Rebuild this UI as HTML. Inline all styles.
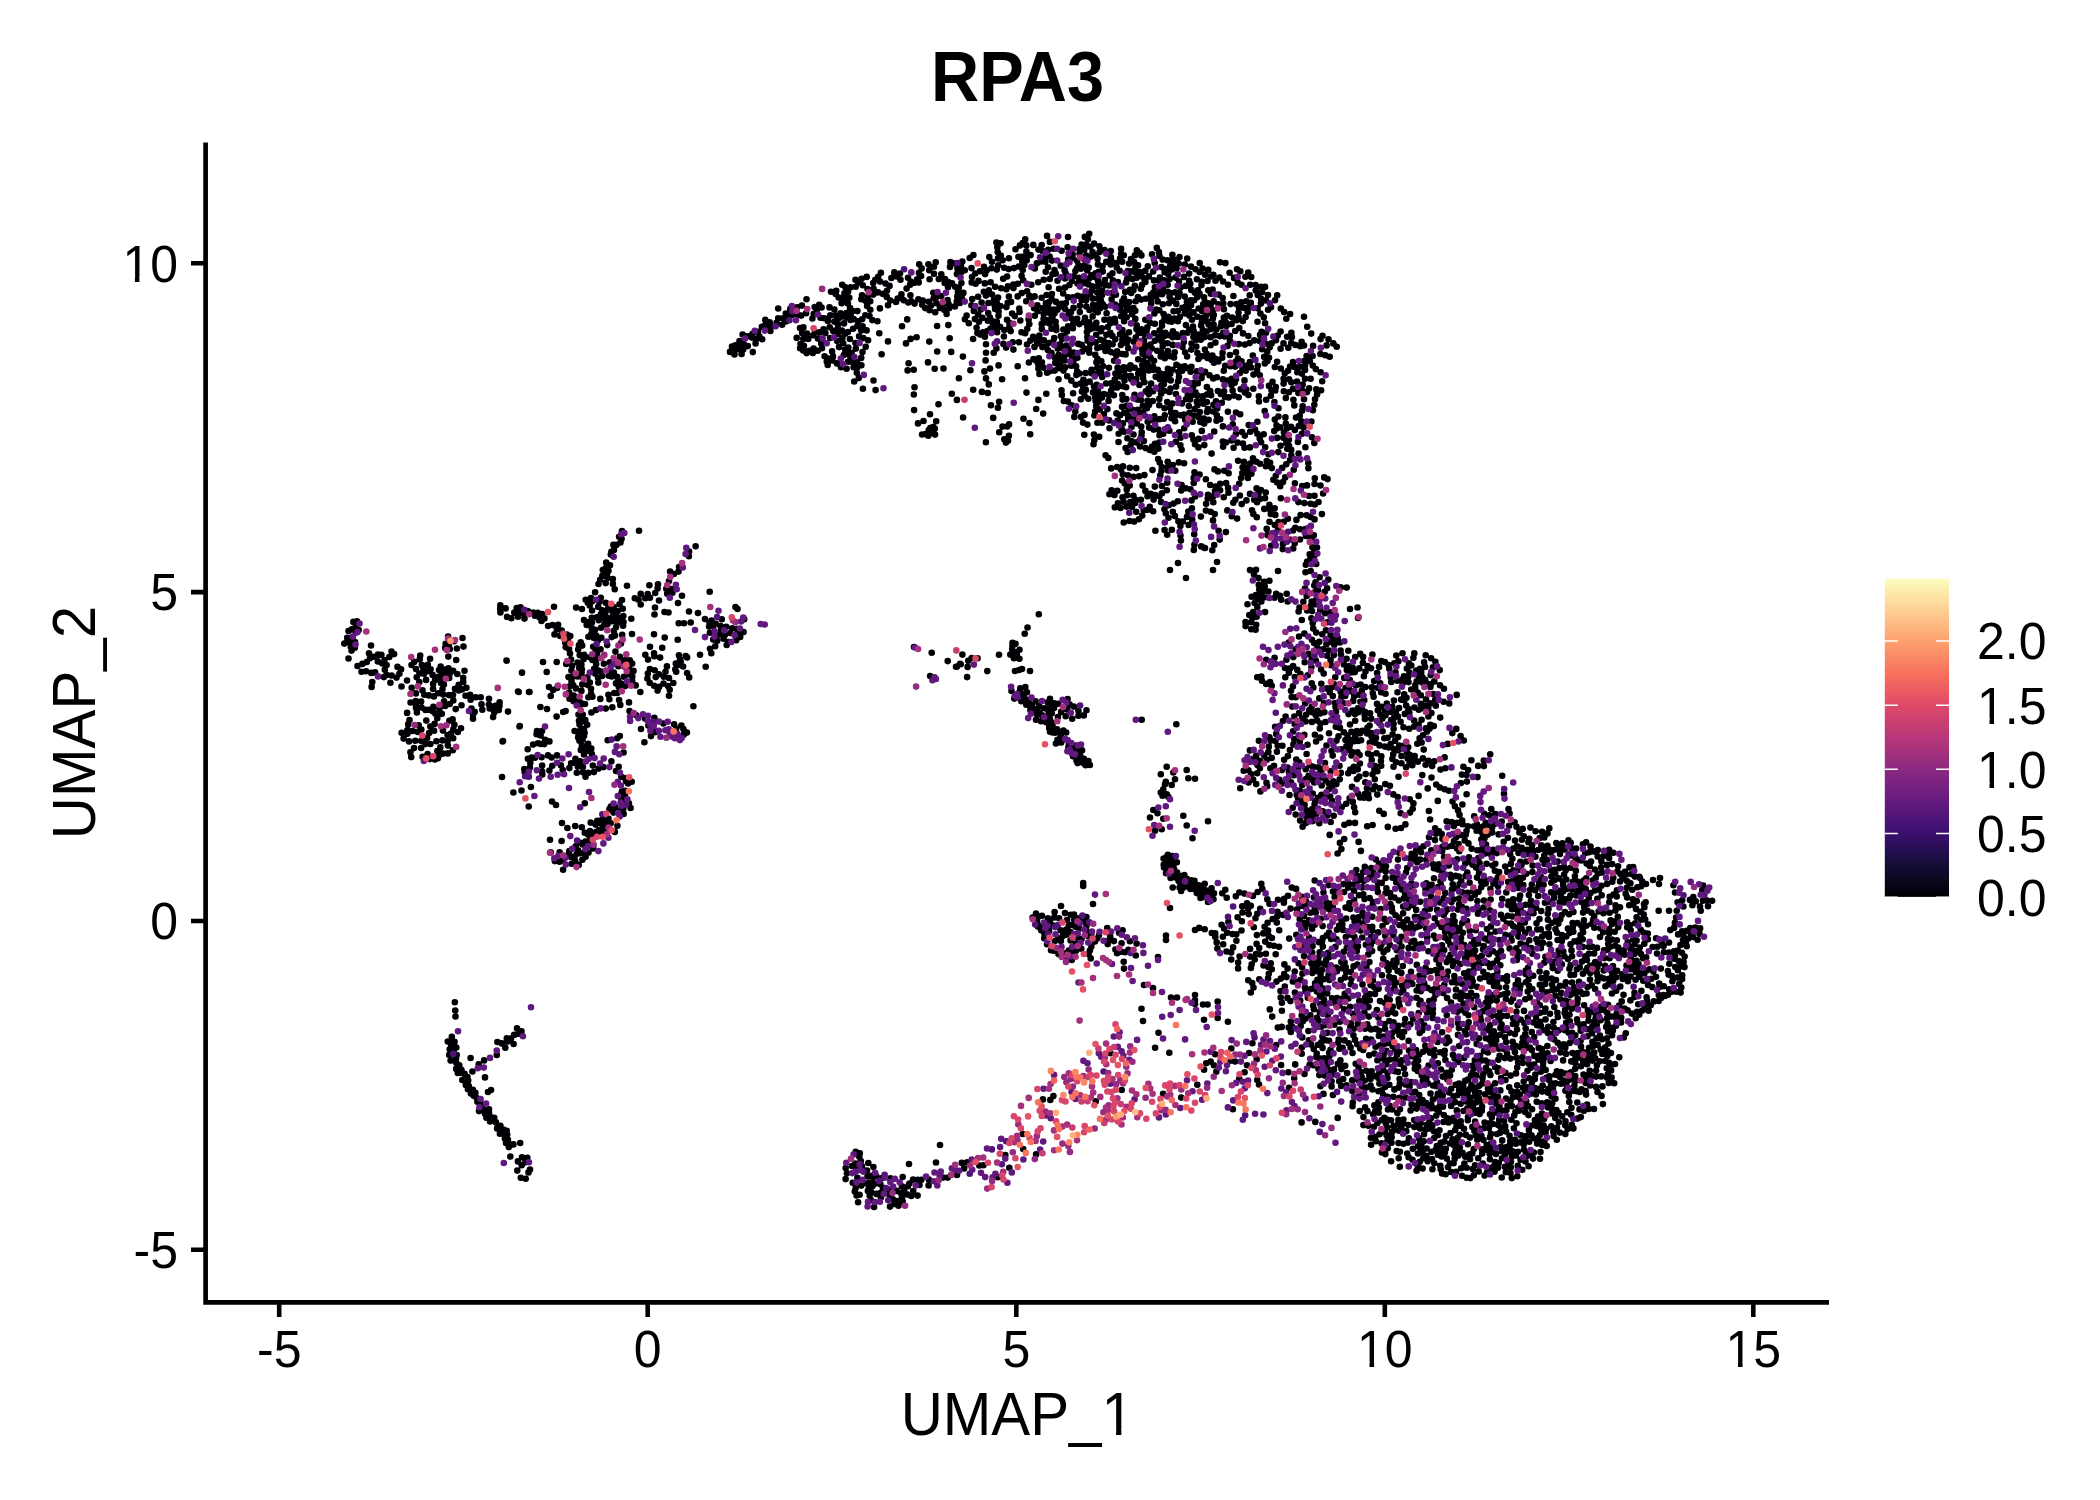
<!DOCTYPE html>
<html><head><meta charset="utf-8"><title>RPA3</title>
<style>
html,body{margin:0;padding:0;background:#fff}
body{width:2100px;height:1500px;overflow:hidden}
svg{display:block}
text{font-family:"Liberation Sans",sans-serif;fill:#000}
#d path{fill:none;stroke-width:6.6;stroke-linecap:round}
</style></head><body>
<svg width="2100" height="1500" viewBox="0 0 2100 1500">
<rect width="2100" height="1500" fill="#fff"/>
<g id="d">
<path stroke="#000004" d="M762.2 339.2h.01M770.4 330.9h.01M741.6 353.9h.01M740.1 345.2h.01M782.8 318.3h.01M782.1 324.8h.01M765.2 319.9h.01M786.7 317.4h.01M797.1 307.4h.01M752.6 333.7h.01M751.9 337.6h.01M743.5 343.6h.01M747.5 336.3h.01M735.4 345.4h.01M742.6 334.5h.01M759.4 336.3h.01M776.6 322.7h.01M755.6 343.4h.01M732.1 349.7h.01M732 346.5h.01M785.8 313.5h.01M758.1 331.8h.01M756.2 339.1h.01M766.3 326.8h.01M747.8 346.1h.01M752.8 352.1h.01M790.3 308.9h.01M765.5 323.5h.01M791.9 314.9h.01M769.7 322.4h.01M778.2 308.5h.01M739.5 341h.01M734.5 354.4h.01M785.9 321.5h.01M761.9 326.8h.01M778.2 318.2h.01M770.6 326.4h.01M730 351.9h.01M737.9 348.9h.01M743.2 349.6h.01M990.6 282.2h.01M984.8 283.4h.01M978.2 314.4h.01M973.8 310.9h.01M953.8 263.3h.01M955.2 286.8h.01M925.2 308.1h.01M866.7 276.9h.01M841.6 303.3h.01M941.3 274.3h.01M870.3 309.7h.01M867.1 306.1h.01M865.8 301.1h.01M911.4 301.3h.01M910.4 295.2h.01M1028.6 319.4h.01M988.4 303h.01M993.9 300.2h.01M998 297.5h.01M1014.8 316.1h.01M1013.3 284.6h.01M1017.8 283.7h.01M843.1 316.4h.01M846.5 313h.01M852.6 311.1h.01M857.4 311.1h.01M836.2 290.7h.01M945 279h.01M900 273.5h.01M896 301.9h.01M998 258.4h.01M997.1 332.2h.01M1006.3 289.3h.01M1001 288.2h.01M995.1 286.8h.01M998.2 265.2h.01M980.7 309.5h.01M918.9 272.9h.01M921.6 268.4h.01M964.8 270.3h.01M1015.5 249.3h.01M1019.9 245.4h.01M934 273.7h.01M929.2 270.3h.01M928.4 264.2h.01M889.5 285.9h.01M887 290.7h.01M838.7 297.5h.01M946.6 314h.01M827.9 320.9h.01M1019.5 312h.01M1026.2 301.2h.01M1025.2 239.2h.01M1026.3 245.4h.01M1026.4 251.5h.01M1030.6 255.1h.01M936.6 303.3h.01M939.9 308h.01M944.4 309.9h.01M992 261.8h.01M987.9 320.8h.01M982.5 317.9h.01M1000 326.8h.01M994.8 327.3h.01M993.1 321.2h.01M989.9 317.6h.01M988.2 313.1h.01M842.1 299.4h.01M944.7 282.9h.01M971.4 305.3h.01M972.2 299.1h.01M845.4 287.2h.01M850.7 287.2h.01M969.7 258h.01M973.4 255.1h.01M861.6 278.8h.01M919.2 264.2h.01M1018.4 256.7h.01M1022.1 260.8h.01M1024.3 264.9h.01M1022.7 270.1h.01M1021.6 275.9h.01M1023.2 280.3h.01M813.8 313.9h.01M957.4 268.5h.01M962.3 261.6h.01M812.4 318.5h.01M855.7 286.8h.01M858.3 282.6h.01M1029.1 295.6h.01M981.6 302.6h.01M950 266.9h.01M950.4 262.1h.01M908 277.7h.01M1021.5 332.2h.01M936.5 297.1h.01M830.3 315.4h.01M1006.4 307.1h.01M1000.4 306h.01M996.7 302.6h.01M934 266.7h.01M935.7 262.2h.01M900.5 279.8h.01M896.7 276.4h.01M894.3 272.4h.01M869.5 316h.01M853.7 319.1h.01M850.8 313.8h.01M850.1 308.1h.01M847.9 303.5h.01M849.3 297.7h.01M848.1 291.7h.01M861.3 299.3h.01M948 287.2h.01M941.3 296.1h.01M995.1 308.9h.01M1011 301.9h.01M983.8 291.7h.01M988.8 290.3h.01M1020.3 320.6h.01M901.4 294.4h.01M829.5 307.4h.01M834.4 309.5h.01M835.9 315.5h.01M834.4 321.6h.01M1012.1 313.6h.01M901.3 297.9h.01M890.3 300.5h.01M886.8 296.9h.01M883 293.9h.01M878 292.4h.01M873.3 294.6h.01M867.9 296.8h.01M862 295.2h.01M1026.2 254.8h.01M910.8 281.6h.01M1007.9 286.4h.01M1013.4 349.6h.01M1008.7 269.1h.01M1014 268.1h.01M1018.8 266.5h.01M958.9 287.6h.01M961.4 283.1h.01M956.9 274.1h.01M917.2 279.2h.01M879.9 308.4h.01M867.5 289h.01M862.8 285.3h.01M1007 319.8h.01M850.5 320h.01M1022.7 243.1h.01M947.6 300.1h.01M1003.2 278.7h.01M806.1 313.3h.01M801.2 315.6h.01M918.4 299.2h.01M914.6 303.6h.01M998.6 311.6h.01M948.2 282h.01M1002.6 260.3h.01M1000.8 255.5h.01M997.7 252h.01M997.3 247.2h.01M1000.5 243.3h.01M985.9 295.6h.01M992 294.5h.01M922.8 300.6h.01M961.4 272h.01M963.4 292.9h.01M961.9 298.3h.01M959.8 302.9h.01M954.9 306.4h.01M949.1 308.3h.01M1019.2 308.6h.01M971.5 268.1h.01M961 266.4h.01M1004.2 267.8h.01M831 291.8h.01M835.7 294h.01M922.2 304.7h.01M855.5 279.8h.01M990.4 328.9h.01M824.3 318.2h.01M1027.3 328.8h.01M1029.3 324h.01M1004.3 330.1h.01M1009.4 327.1h.01M996.8 269.6h.01M991.6 268.3h.01M996.4 348.4h.01M993.7 352.7h.01M978.1 296.8h.01M801.9 305.6h.01M918.7 282.4h.01M840.6 313.3h.01M1031.3 284.7h.01M964.9 319.2h.01M968.8 323.2h.01M802.1 333h.01M800 328h.01M1008.9 296.5h.01M974.9 319.1h.01M984 266.7h.01M798 314.8h.01M1012.7 342.3h.01M1018.9 342.3h.01M820.5 317.7h.01M870.3 301.3h.01M992.8 324.6h.01M996.8 321.8h.01M806.5 299.3h.01M929.6 279.2h.01M846.3 299.2h.01M844.4 293.4h.01M998.5 315.7h.01M978.5 280.9h.01M803.4 327.4h.01M957.9 292h.01M942.5 305.4h.01M816.8 309.9h.01M985.1 274.1h.01M975.6 283.8h.01M928.7 301.8h.01M994.4 304.8h.01M986.7 270.2h.01M980.3 334.6h.01M984.9 336.7h.01M1003.9 336.5h.01M933.3 292.8h.01M987.4 331h.01M982.9 332.4h.01M977.4 333.1h.01M971.7 282.4h.01M972 277.1h.01M935.2 312.3h.01M929.6 310.3h.01M989.3 257h.01M948.6 304h.01M1007.1 276.5h.01M910.1 284.8h.01M914.5 282.7h.01M1007.7 302.9h.01M847.2 317.4h.01M908.3 302.5h.01M903.8 300.3h.01M897.7 298.5h.01M873.6 288.8h.01M873.2 283.1h.01M957.3 296.4h.01M976.6 327.7h.01M1009.3 322.9h.01M996.4 242.5h.01M938.8 279.1h.01M980 271.3h.01M975.3 273.5h.01M814.7 307.1h.01M819.2 304.9h.01M844 323.4h.01M821.6 307.5h.01M1003.4 343.9h.01M1006.1 347.6h.01M837.9 323.9h.01M838.8 317.9h.01M888 305.3h.01M885.5 283.5h.01M880 281.6h.01M875.3 279.8h.01M1008.9 258.2h.01M933.6 298.5h.01M1010.7 331.1h.01M978.9 321.8h.01M880.9 272.7h.01M878.2 276.7h.01M891.4 278h.01M1017.7 296.4h.01M1021.8 293.1h.01M1027.1 291.3h.01M842.2 284.7h.01M931.1 305.5h.01M906.6 288.6h.01M956.8 301.4h.01M921.1 276.1h.01M966.6 315.6h.01M952 283.4h.01M1013.5 288.1h.01M865.3 315.2h.01M845.1 349.7h.01M848.1 354h.01M839 347.1h.01M803.2 350.5h.01M803.9 345.9h.01M861.4 365.3h.01M855.8 348.6h.01M872.3 320.1h.01M877.4 321.2h.01M868.1 340.3h.01M863.3 338.1h.01M845.2 333.8h.01M843.2 343.2h.01M842.4 338.1h.01M838.3 334.1h.01M833.2 330.9h.01M862.1 319.2h.01M857.9 321.3h.01M857.3 326.1h.01M861.2 330.6h.01M821.2 343.6h.01M822 348.3h.01M817.7 350.8h.01M812.8 352.9h.01M806.6 353.1h.01M815 332.1h.01M846.6 368.8h.01M840.9 367.3h.01M843.8 355h.01M859.1 336.4h.01M853.1 328.8h.01M847.9 332h.01M841.9 330.6h.01M837.8 328.1h.01M862.5 352.1h.01M861.2 357.9h.01M827.8 358.5h.01M832.4 360.5h.01M837 363.4h.01M865.7 346.8h.01M800.5 344.1h.01M819.6 332.3h.01M808.3 338.9h.01M807 333.6h.01M857 368.1h.01M856.9 362.1h.01M851.6 353h.01M848.3 347.6h.01M829.7 327.3h.01M862.6 326.4h.01M866.6 330.4h.01M824.6 356.3h.01M826.8 361.6h.01M848 361.7h.01M837.2 341.1h.01M803.3 338.9h.01M853.6 367.3h.01M851.7 361.7h.01M850.4 357h.01M849.9 339h.01M832.1 351.4h.01M833 356.4h.01M854.2 381.5h.01M858.8 377.9h.01M813.4 335.2h.01M827.7 365h.01M825.4 333.1h.01M862.9 388.8h.01M817.9 338.6h.01M823.5 329.3h.01M856.8 372.7h.01M855.5 343.1h.01M800.1 348.2h.01M809.3 350.7h.01M813.6 348.5h.01M796.7 337.9h.01M830.1 338h.01M990.9 405.2h.01M930 414.2h.01M986 344.3h.01M999.1 401.8h.01M997.9 407.8h.01M962.9 356.6h.01M987.8 393h.01M981.9 391.9h.01M902 326.2h.01M998.6 365.4h.01M973.1 339h.01M936.2 421.2h.01M1030.2 434.3h.01M1023.5 418.8h.01M1026.5 392.6h.01M985.9 442.2h.01M923.5 421h.01M943.5 368.5h.01M914.5 387.3h.01M875.6 390.1h.01M929.3 341.6h.01M918 423.4h.01M888 341.4h.01M881.6 354.3h.01M907.6 370.4h.01M913.7 369.8h.01M951.2 351.9h.01M873.5 380.5h.01M938.5 404.2h.01M908.6 363.3h.01M990 368.6h.01M984.4 371.4h.01M948.3 325.1h.01M993.2 417.9h.01M988.8 384.4h.01M951.8 393.8h.01M907.2 319.4h.01M973.2 389.8h.01M1002.1 379.2h.01M986 352.7h.01M1005.9 441.5h.01M916.6 337.3h.01M910.6 338.9h.01M958.9 378.2h.01M949.7 338.2h.01M1017.7 366.2h.01M963.1 417.5h.01M985.6 360.4h.01M937.2 351.5h.01M1038.4 399.9h.01M956.9 399.9h.01M928 362.4h.01M906 343.4h.01M1036.2 409h.01M1008.9 435.7h.01M1025 378.3h.01M937.1 326h.01M1029.4 423.1h.01M914.1 410.1h.01M934.7 368.8h.01M879.3 333.2h.01M986 378.4h.01M970.4 370.3h.01M913.8 394.5h.01M1043.2 413.6h.01M922.1 434.5h.01M933.1 427h.01M935 434.6h.01M934.8 428.6h.01M933 432.7h.01M930.3 428h.01M925.5 434h.01M928.8 430.1h.01M934.3 428.2h.01M928.3 435.7h.01M999.2 432.3h.01M1008 440.8h.01M1009.1 424.4h.01M1005.9 442.6h.01M1004.3 439.3h.01M1007.2 426.5h.01M1002.5 426.6h.01M1135.2 272.5h.01M1140 272h.01M1145.3 270.7h.01M1147.8 266.2h.01M1159.6 292h.01M1164.5 318.7h.01M1163.6 314h.01M1083.4 379.8h.01M1072.2 359.1h.01M1068.9 353.9h.01M1207.9 409h.01M1213 411.5h.01M1216.8 415.4h.01M1220.2 419.3h.01M1071.8 281.1h.01M1077.5 283.6h.01M1141.7 276.2h.01M1136.7 277.8h.01M1187.1 356.5h.01M1197.9 290.3h.01M1191.8 395.6h.01M1195.4 392.2h.01M1068.1 326.2h.01M1067 331.5h.01M1211.7 359.9h.01M1178.1 297.3h.01M1172.8 300.6h.01M1168.9 303.2h.01M1162.8 304.3h.01M1206.8 402h.01M1227.5 380.5h.01M1197.8 383.2h.01M1193.2 386.6h.01M1201.2 335.4h.01M1088.4 284.4h.01M1083.4 283.2h.01M1143.8 343.1h.01M1064.6 270.3h.01M1068.2 259.2h.01M1067.6 247.3h.01M1132.4 279.1h.01M1127.1 279.1h.01M1062.2 339.1h.01M1060 344.4h.01M1057.8 348.6h.01M1058.7 354.7h.01M1143.6 369.6h.01M1207 411.9h.01M1096.4 362.3h.01M1097.4 367.6h.01M1154 280.4h.01M1128.2 348.2h.01M1126.8 343.2h.01M1132.5 409.8h.01M1096.7 327.8h.01M1101.8 328.2h.01M1107.9 327.1h.01M1041.7 324.1h.01M1179 376.9h.01M1046.3 393.8h.01M1033.5 359h.01M1133.7 418.4h.01M1128.1 415.9h.01M1059.7 359h.01M1160.7 356.5h.01M1143 374.6h.01M1138.2 373.8h.01M1082.3 351.5h.01M1077.4 357.7h.01M1097.2 307.5h.01M1097.8 312.2h.01M1091.8 290.6h.01M1097.3 292.6h.01M1101.9 295.3h.01M1096.3 322.8h.01M1161.2 385.9h.01M1164.1 390.8h.01M1169.4 392h.01M1141.1 299.6h.01M1122.2 261.7h.01M1219.7 336.1h.01M1214.9 335.2h.01M1072.6 257.9h.01M1073.6 352.6h.01M1146.9 408.3h.01M1142.8 405.7h.01M1141 400h.01M1121.1 316.2h.01M1124.1 321.3h.01M1162 322.6h.01M1154 360.8h.01M1150.4 357.6h.01M1145.8 355.6h.01M1184.8 264.6h.01M1190.9 266.6h.01M1227.9 411.8h.01M1215.9 401.4h.01M1136.7 325.2h.01M1081.9 391.5h.01M1083.2 387h.01M1188.6 308.8h.01M1147.4 327.2h.01M1141.6 329.2h.01M1097.3 348.1h.01M1185.2 419.8h.01M1138.5 333.3h.01M1135.7 337.5h.01M1133.8 341.7h.01M1094.9 277h.01M1089.5 278.3h.01M1084.6 279.4h.01M1080.2 281.7h.01M1129 332.3h.01M1107.4 409.1h.01M1168.4 321.1h.01M1186 399.2h.01M1187.8 394.9h.01M1068 237h.01M1100.4 339.7h.01M1092.2 286.2h.01M1059.1 288.8h.01M1188.8 406h.01M1124.2 412.6h.01M1120.2 415.2h.01M1117.7 420.5h.01M1144.2 334h.01M1225 396.9h.01M1045 258.1h.01M1127.8 271h.01M1128.4 276.1h.01M1100.9 331.3h.01M1096.2 334.7h.01M1089.5 310h.01M1085.3 383.5h.01M1089.6 381.6h.01M1093.9 386.3h.01M1122.4 330h.01M1125.3 335.5h.01M1038.1 364.1h.01M1103.7 340.9h.01M1104.7 345.7h.01M1033.2 336.8h.01M1039.4 335.6h.01M1142.2 349.8h.01M1145.9 346.1h.01M1150.4 344.5h.01M1154.8 340.8h.01M1197.5 405.2h.01M1194.7 409.1h.01M1189.5 412.7h.01M1183.9 414.6h.01M1208.6 324.6h.01M1153.1 271.5h.01M1176.3 303.9h.01M1158.6 336.5h.01M1078.6 265.2h.01M1098.8 271.9h.01M1189.9 399.5h.01M1076.1 366.4h.01M1207.5 358h.01M1201.9 356.2h.01M1218.7 294.6h.01M1222.7 298h.01M1151.1 383.5h.01M1187.8 368.2h.01M1213.9 362.8h.01M1218.4 361.5h.01M1222.2 357.7h.01M1222.6 352.9h.01M1064.5 336.1h.01M1200.7 339.8h.01M1204.6 337.1h.01M1206.7 331.6h.01M1210.9 329.1h.01M1213.6 324.5h.01M1097.5 258.8h.01M1098 264.4h.01M1213.4 404.8h.01M1217.2 408.6h.01M1117.1 351.3h.01M1122.1 354h.01M1105.7 285.1h.01M1139.4 252.9h.01M1196.9 279.3h.01M1201.8 281.8h.01M1207.5 281h.01M1137.9 297.1h.01M1135.7 301.3h.01M1227.6 345.9h.01M1077.2 371.5h.01M1144.1 278.4h.01M1148.9 276.4h.01M1201.5 285.1h.01M1219.5 277.5h.01M1170.5 293.1h.01M1175.2 292.4h.01M1195.5 269.3h.01M1199.6 272h.01M1205.1 274.8h.01M1108.6 400.9h.01M1085.7 348.7h.01M1081.7 344.9h.01M1093 392.4h.01M1065 354.9h.01M1064.4 360.5h.01M1212.4 355.5h.01M1197.4 353.1h.01M1092.5 298.4h.01M1115.3 339.2h.01M1110.3 323.3h.01M1114.7 318.9h.01M1112.6 344.2h.01M1110.3 332.7h.01M1079.3 324.1h.01M1077.1 260.7h.01M1201.8 318h.01M1206.1 315.5h.01M1080.8 399.2h.01M1110.7 264.5h.01M1116.5 263h.01M1120.1 258.5h.01M1121.1 253.8h.01M1122.3 395h.01M1179.1 281.5h.01M1175.5 277.6h.01M1190.3 283.7h.01M1191.3 289.9h.01M1194.9 292.8h.01M1213 310.4h.01M1175.5 260h.01M1178.5 263.5h.01M1122.3 301.3h.01M1117.7 383.8h.01M1189.3 329.9h.01M1075.4 271.1h.01M1080.9 268.7h.01M1084.5 265.4h.01M1198.7 308.5h.01M1203.2 304.4h.01M1207.6 303.1h.01M1213.7 301.4h.01M1218.6 304.3h.01M1161.4 267.1h.01M1213.2 378.4h.01M1209.5 375.2h.01M1065.2 309h.01M1059.4 307h.01M1053.9 309.6h.01M1047.8 310h.01M1043.7 314.1h.01M1043.6 318.9h.01M1078.2 343.9h.01M1144 340h.01M1197 371.4h.01M1073.1 393.2h.01M1038.8 358.3h.01M1112.9 280.4h.01M1113.9 395.3h.01M1111.1 390.7h.01M1092.5 252.1h.01M1090.4 246.7h.01M1152 254.2h.01M1049.2 319.9h.01M1052.6 316.4h.01M1163.3 290h.01M1185.1 352.3h.01M1182.5 346.9h.01M1172.7 344.9h.01M1167.5 343.3h.01M1202 311.1h.01M1205.2 306.8h.01M1204.9 301.8h.01M1202.8 330.1h.01M1201.1 325.4h.01M1167.2 402h.01M1089.3 329.6h.01M1102.8 271.6h.01M1124.1 370.4h.01M1125.9 375.7h.01M1124.5 380.6h.01M1122.8 386.2h.01M1117.1 387.4h.01M1112.5 387.9h.01M1116.8 267.5h.01M1209.7 312.9h.01M1057.4 309.7h.01M1101.9 397.6h.01M1036.1 339.2h.01M1040.5 341.1h.01M1042.4 347.1h.01M1047.8 350.1h.01M1051.5 352.9h.01M1055 357.7h.01M1055.2 362.9h.01M1201.5 378.1h.01M1116.3 355.5h.01M1110.9 352.1h.01M1107.6 348h.01M1143 378.1h.01M1054.2 338h.01M1114.1 360.8h.01M1178.5 372.1h.01M1180.1 366.7h.01M1208.6 419.9h.01M1204.2 423.6h.01M1056 301.9h.01M1051.7 299.2h.01M1120.5 306h.01M1115.1 304.5h.01M1111.6 299.2h.01M1098.4 402.1h.01M1095.2 397.5h.01M1034.8 315.7h.01M1083.9 322.1h.01M1087.3 327h.01M1086.9 332h.01M1087.3 337h.01M1096.6 384.9h.01M1159.7 330.3h.01M1162 325.7h.01M1026.7 260.2h.01M1136.8 423.5h.01M1066.3 345.6h.01M1229.9 355h.01M1055.6 321.8h.01M1189.1 280.7h.01M1060.9 336h.01M1126.7 367.7h.01M1173.6 311.3h.01M1091.6 369.7h.01M1054.5 270h.01M1130.5 365.4h.01M1112.2 293h.01M1120 334.2h.01M1122.3 340h.01M1128.5 339.7h.01M1205.1 371.8h.01M1226.4 326.1h.01M1220.8 326.2h.01M1216.4 329.5h.01M1034.1 308.2h.01M1031.8 297.6h.01M1137.1 399.5h.01M1073.4 361.9h.01M1215.5 280.8h.01M1213.3 274.8h.01M1085.9 300.2h.01M1086.4 306.5h.01M1072.9 328.2h.01M1073.4 323.2h.01M1213.8 315h.01M1154.7 263h.01M1076.4 374.9h.01M1135.3 318.9h.01M1229.8 335.9h.01M1054.7 370.6h.01M1152.9 370h.01M1148 367h.01M1112.4 273.3h.01M1134.6 394.8h.01M1156.2 309.5h.01M1171.6 321.7h.01M1077.1 318.8h.01M1157.7 301.4h.01M1089.9 293.9h.01M1085.8 296.9h.01M1081.6 300.1h.01M1079.9 305.8h.01M1079.8 312.1h.01M1227 315.7h.01M1021.5 256.7h.01M1143.1 412.4h.01M1170.2 265.8h.01M1068 297.4h.01M1072.8 297.4h.01M1077.6 295.7h.01M1106.4 334.7h.01M1194.1 415.6h.01M1198.7 417.3h.01M1131.5 426.9h.01M1049.6 256.6h.01M1052.1 260.6h.01M1060.7 265.6h.01M1159.4 255.9h.01M1207.4 321.6h.01M1210.6 305.9h.01M1095.6 273.2h.01M1203.8 418.5h.01M1133.5 434.5h.01M1156.8 419.6h.01M1152.9 366.6h.01M1125.2 291.9h.01M1130 289.7h.01M1134.8 285.9h.01M1189.1 273.6h.01M1115.9 294.8h.01M1180.7 287.2h.01M1152.4 420.2h.01M1136.5 329h.01M1165.3 374h.01M1163.8 378.4h.01M1163.8 384.3h.01M1159.5 389h.01M1079.5 373.5h.01M1112.4 336h.01M1117.5 367.7h.01M1123.5 367.3h.01M1129.6 368.7h.01M1134.6 367.8h.01M1157.8 369.9h.01M1131.3 379.3h.01M1136.2 379h.01M1223.8 370.8h.01M1225.2 365.7h.01M1153.3 292.6h.01M1215.4 342.6h.01M1088.7 267.5h.01M1041.1 261.5h.01M1169.6 297.1h.01M1047.1 372.8h.01M1192.7 421.7h.01M1089.3 352.8h.01M1089.1 348.2h.01M1090.2 343.5h.01M1220.8 393.9h.01M1115.1 322.4h.01M1179.8 317.1h.01M1170.5 388.6h.01M1176.1 386.6h.01M1178.1 381.2h.01M1174.7 416.2h.01M1045.4 261.7h.01M1162.7 346.3h.01M1161.1 351.6h.01M1165.4 354.9h.01M1167.9 351h.01M1097.8 298.8h.01M1099.1 304.3h.01M1093.2 304.8h.01M1204 297.3h.01M1199.5 293.5h.01M1109.7 275.5h.01M1153.6 429.6h.01M1129.1 263.6h.01M1134.1 262.1h.01M1138.1 265.2h.01M1073.5 307.9h.01M1071 311.9h.01M1147.7 421.8h.01M1149.1 427.6h.01M1037.6 311.3h.01M1037.4 305.2h.01M1109.1 285.5h.01M1216.8 377.2h.01M1061.6 250.8h.01M1224.8 336.5h.01M1145.3 351.3h.01M1140.9 346.7h.01M1177.8 337h.01M1196.3 346.6h.01M1100.5 284.1h.01M1092.6 316.4h.01M1048.1 306.3h.01M1043 308h.01M1191.5 343.5h.01M1191.3 349.6h.01M1038.4 368.5h.01M1039.4 373.9h.01M1212.9 318.4h.01M1194.2 300.3h.01M1102.1 290.5h.01M1130.2 308.4h.01M1114.4 353.1h.01M1151.8 348.5h.01M1072.6 254.4h.01M1114.8 379.5h.01M1120.4 376.5h.01M1109.2 420.4h.01M1098.3 395.2h.01M1095.6 400.9h.01M1096.2 406.1h.01M1099.9 409.4h.01M1111.2 383.2h.01M1106.1 383.5h.01M1098 391.3h.01M1145.8 298.7h.01M1151 299.3h.01M1100.9 300.5h.01M1159.5 339.6h.01M1164.1 336.2h.01M1169 335.3h.01M1135.5 267h.01M1130.9 271.2h.01M1236 379.3h.01M1223.3 332.8h.01M1124.4 312.5h.01M1119.9 309.7h.01M1180.7 415.2h.01M1175.5 413h.01M1087.3 270.5h.01M1091.4 275.4h.01M1131.2 293h.01M1102.2 377h.01M1045.9 303.2h.01M1049.2 302h.01M1117.9 282.1h.01M1206.9 387.1h.01M1206.9 394.5h.01M1108.9 367.7h.01M1102.9 366.1h.01M1101.2 372.1h.01M1101.2 347h.01M1210.2 391.1h.01M1092.6 328.3h.01M1169.6 279.1h.01M1164.2 280.3h.01M1159.9 282.4h.01M1142.3 365h.01M1139.8 370.9h.01M1222.9 426.4h.01M1184.2 428.2h.01M1053.7 248.7h.01M1048.3 249.8h.01M1042.6 251.1h.01M1137.8 414.1h.01M1058.5 379.2h.01M1210.5 337.3h.01M1190.6 371.8h.01M1169.4 430.7h.01M1133.5 308h.01M1154.2 333.2h.01M1121.6 428.7h.01M1159.3 398.9h.01M1126.1 387.2h.01M1110.8 251.1h.01M1110.8 257h.01M1065 278.5h.01M1073.8 276.2h.01M1078.9 277.9h.01M1141.4 255.4h.01M1119.6 270.8h.01M1056 326.6h.01M1142 284.9h.01M1140.8 288.7h.01M1105.5 351h.01M1034.8 268.4h.01M1065.9 303.1h.01M1184.7 313.4h.01M1135.3 310.7h.01M1132.1 314.2h.01M1126.6 317.2h.01M1050.5 370.9h.01M1104 394.1h.01M1108.7 394.9h.01M1126.7 405.9h.01M1122 406.8h.01M1179.5 292.8h.01M1234.7 382.7h.01M1041.8 328.9h.01M1193 326.6h.01M1198.3 334.5h.01M1193.5 312.4h.01M1119.3 372.4h.01M1162.6 259.6h.01M1167.5 260.2h.01M1172.1 260.1h.01M1175.3 264.9h.01M1126 282.5h.01M1041.6 297.8h.01M1082 296.6h.01M1183.9 276.9h.01M1102.8 304.3h.01M1102 422.8h.01M1036.8 263.4h.01M1034.6 296.4h.01M1170.2 373.8h.01M1167.9 368.9h.01M1136.8 250.4h.01M1077 268.2h.01M1193.6 330.8h.01M1187.5 332.7h.01M1182.8 333h.01M1210.8 293.8h.01M1162.3 342.2h.01M1063.2 293.5h.01M1065.1 287.5h.01M1069.4 285h.01M1181.9 403.4h.01M1046.1 346.7h.01M1058.4 368.3h.01M1088.3 398.7h.01M1194.3 334.1h.01M1106.3 261.9h.01M1120.9 345h.01M1185.8 285.9h.01M1168.2 274h.01M1142.5 353.8h.01M1054.6 313.2h.01M1049.7 312.9h.01M1044.6 310.7h.01M1141.2 426.6h.01M1217.9 391h.01M1224.1 391.4h.01M1222.9 379.4h.01M1201.9 322h.01M1175.1 421.2h.01M1171.5 418.2h.01M1171.2 412.4h.01M1123.8 255.2h.01M1057.5 280.7h.01M1065.7 273.4h.01M1100.1 308.3h.01M1105.3 306.7h.01M1198.4 359h.01M1063.3 348.8h.01M1068.5 348.8h.01M1102.5 266.3h.01M1036.2 360.7h.01M1145.3 319.8h.01M1154.4 313.4h.01M1159.3 310.3h.01M1052.4 274.2h.01M1051.9 294h.01M1046.6 295h.01M1184.7 296.6h.01M1186.9 301.7h.01M1185.9 306.6h.01M1103.9 414.3h.01M1181.3 335.7h.01M1176.1 334.4h.01M1144.4 382.3h.01M1193.4 337h.01M1048.6 287.3h.01M1151.1 303.7h.01M1146.6 330.7h.01M1192 319.8h.01M1161.9 333h.01M1172.9 331.2h.01M1172.7 337.2h.01M1091.3 325.5h.01M1172.4 403.5h.01M1097.4 358.9h.01M1167.8 291.7h.01M1162.1 294.3h.01M1202.6 400.1h.01M1177.8 311.1h.01M1145.8 391.4h.01M1160 419.1h.01M1154.4 416.4h.01M1149 405.1h.01M1214.5 469.4h.01M1180.5 535.6h.01M1180.9 540.6h.01M1079.4 249.1h.01M1081.6 244.5h.01M1161.9 486h.01M1302.7 384.5h.01M1302.1 390h.01M1307 392.1h.01M1085.7 373.1h.01M1091.5 373.2h.01M1171.8 529.8h.01M1065.2 367.3h.01M1071.3 365.7h.01M1260.4 313.5h.01M1257.6 308.3h.01M1048 267.2h.01M1045.7 271.7h.01M1235.2 366.6h.01M1310.6 378.8h.01M1305 378.7h.01M1301.8 373.6h.01M1097.9 280.6h.01M1097.2 286.2h.01M1275.8 475.7h.01M1282.2 467.9h.01M1286.3 464.2h.01M1290 460.1h.01M1280.1 427.3h.01M1283.9 432.3h.01M1193.9 382.7h.01M1129.2 302h.01M1299.7 415.8h.01M1155.4 530.7h.01M1210.2 485h.01M1215.7 486.5h.01M1311.4 421.6h.01M1200.9 516.6h.01M1049.9 241.9h.01M1099.2 436.8h.01M1229.6 272.8h.01M1257.3 433.7h.01M1255 429.6h.01M1280.8 368.5h.01M1142.6 485.6h.01M1265.2 447.2h.01M1261.1 442.3h.01M1280.8 308.5h.01M1284.1 312.1h.01M1290.1 314h.01M1033.3 244.9h.01M1203.6 403.8h.01M1196.3 339.7h.01M1097.6 373.2h.01M1199.7 263h.01M1202.5 268.5h.01M1095.6 342.4h.01M1245.4 276.7h.01M1248.2 272.5h.01M1145.4 281.9h.01M1081 416.9h.01M1177.8 501.3h.01M1173.6 503.6h.01M1168.7 505.2h.01M1280.6 348.8h.01M1283.5 343.4h.01M1172.7 465.1h.01M1257.4 421.8h.01M1235.9 434h.01M1232.8 424.2h.01M1181.2 490.4h.01M1185.8 488.3h.01M1190.5 489.2h.01M1208 494.7h.01M1213 496.4h.01M1280.5 445.7h.01M1269.1 357.8h.01M1143.9 441.1h.01M1141.5 435.8h.01M1283.6 383.6h.01M1283.6 378.7h.01M1159.1 442.6h.01M1285.4 417.4h.01M1285.8 423.6h.01M1291 426.8h.01M1294.8 430h.01M1298.8 426h.01M1127.9 475.2h.01M1234 277.9h.01M1278.5 522.1h.01M1283.8 521.8h.01M1287.9 518.8h.01M1269.7 347.2h.01M1265.7 343.5h.01M1266 332.8h.01M1321.9 514.1h.01M1239.3 328h.01M1235.2 331h.01M1148.7 370.5h.01M1312.6 356h.01M1115.4 373.5h.01M1293.4 399.7h.01M1294.3 405.4h.01M1163.3 433.8h.01M1271.6 343.4h.01M1185.9 325.1h.01M1135.2 499.5h.01M1130.3 502h.01M1126.7 506.8h.01M1120.5 507.9h.01M1114.8 507.3h.01M1180.4 525.9h.01M1178.4 521.3h.01M1174.9 516.1h.01M1228.7 397.4h.01M1233.9 395.6h.01M1238.7 397.2h.01M1109.5 428.2h.01M1131.7 441.3h.01M1136.5 442.4h.01M1140 446.5h.01M1145.6 448.1h.01M1149.9 449.9h.01M1216 359.1h.01M1248.7 425.1h.01M1156.2 296.2h.01M1238.6 317.2h.01M1232.2 317.6h.01M1164.5 408.2h.01M1159.2 405.2h.01M1320.4 354h.01M1275.3 390.4h.01M1165.8 513.2h.01M1168.5 517.7h.01M1063.4 329.5h.01M1297.9 441.9h.01M1034.5 346.9h.01M1154.3 451.8h.01M1152.1 446.6h.01M1159.4 496.2h.01M1226 442.5h.01M1231.5 440.4h.01M1274.8 367h.01M1154.9 287.2h.01M1254.2 499.7h.01M1053.2 341.5h.01M1300 539.5h.01M1280.8 498.3h.01M1219.7 539.6h.01M1297.3 372.3h.01M1233.6 447.8h.01M1308.4 468.2h.01M1308.3 463.1h.01M1314.3 442.9h.01M1150.6 493.9h.01M1145.4 490.9h.01M1260 499.1h.01M1258.4 494h.01M1289 445.9h.01M1288.9 439.7h.01M1283.4 437.8h.01M1277.1 437.9h.01M1159.9 379.2h.01M1159.7 373.1h.01M1206.5 353.9h.01M1263.7 434.3h.01M1259 401.5h.01M1258.8 396.2h.01M1153.6 499.6h.01M1224.3 470.7h.01M1228.6 473.2h.01M1153.1 391.3h.01M1104.4 319.7h.01M1222.8 441.5h.01M1192.2 519.5h.01M1155 443.9h.01M1158.5 448.6h.01M1199.8 412h.01M1114.5 495h.01M1109.4 494.3h.01M1190.7 300.2h.01M1191 305.2h.01M1194.5 472.4h.01M1262.2 292.1h.01M1176.5 268.3h.01M1067.9 401.6h.01M1071.6 405.2h.01M1298.6 453.6h.01M1108.3 458h.01M1240.2 414.2h.01M1236 412.5h.01M1129.8 467.8h.01M1136.2 468.1h.01M1122.9 423.4h.01M1231.7 378.8h.01M1239.9 373h.01M1242.5 369.1h.01M1246.1 365.9h.01M1249.9 362h.01M1266.2 399.8h.01M1270.9 395.7h.01M1271.5 390.3h.01M1161.1 502h.01M1225.9 532.1h.01M1329.7 356.8h.01M1325.2 355.2h.01M1283.8 391.2h.01M1288.8 392.3h.01M1252.8 355.6h.01M1300.2 346.3h.01M1301.6 341.9h.01M1170 407.5h.01M1084.8 236.9h.01M1089.2 233.8h.01M1271 307.3h.01M1286.3 443h.01M1164.8 415.2h.01M1236.5 304.1h.01M1241.1 302.4h.01M1246.2 301.2h.01M1250.8 302.9h.01M1106.6 313.2h.01M1089.2 322.4h.01M1168.1 466.7h.01M1167.7 461.8h.01M1166.8 490.3h.01M1161.9 493.3h.01M1123 466.4h.01M1167.7 284.7h.01M1126.4 399.1h.01M1111.2 468.4h.01M1172.8 511.7h.01M1280.2 486.3h.01M1283 482.1h.01M1285.2 477.4h.01M1293.7 469.8h.01M1296 417.6h.01M1220.2 483.8h.01M1226.1 483.1h.01M1228.1 487.9h.01M1228.5 492.7h.01M1228 284.7h.01M1223.1 281.5h.01M1131 259h.01M1135 255.2h.01M1025.2 333.3h.01M1167.2 482.8h.01M1085 317.8h.01M1130.8 375.8h.01M1269.4 504.7h.01M1140.9 499.7h.01M1143.7 510.2h.01M1142.2 515.6h.01M1138.9 519.2h.01M1134.2 521.6h.01M1129.5 521h.01M1123.7 522.5h.01M1128.2 419.2h.01M1314.5 495.8h.01M1309.1 496h.01M1302.2 486.1h.01M1307 485.4h.01M1097.4 422.8h.01M1257.5 321.8h.01M1309.8 361.2h.01M1304.6 360.9h.01M1293 362.1h.01M1290.1 366.5h.01M1288 370.8h.01M1028.9 362.5h.01M1259.7 438.6h.01M1164.8 358.2h.01M1170.1 356.2h.01M1207.7 498.5h.01M1182.2 370.8h.01M1165.9 269h.01M1295.3 527.8h.01M1300.1 529.3h.01M1309.2 535.9h.01M1242.6 467.3h.01M1242.3 473.1h.01M1241.1 478.1h.01M1239.2 483.8h.01M1298.4 502.1h.01M1304.3 503.1h.01M1310.6 503.8h.01M1152.5 470.1h.01M1265.1 323.3h.01M1263.8 317.2h.01M1174.3 318.5h.01M1293 388.9h.01M1094.4 415.5h.01M1333.3 343.4h.01M1121.1 248.9h.01M1316.3 389.4h.01M1317.1 394.4h.01M1315 399.2h.01M1314.3 404.8h.01M1312.9 410.3h.01M1302.7 406.2h.01M1208.3 290.3h.01M1197.4 316.8h.01M1111.6 490.2h.01M1223.3 303.5h.01M1223.9 309.2h.01M1204.9 349.6h.01M1237.9 358.5h.01M1170.7 380.4h.01M1159.7 462.5h.01M1161.8 467.1h.01M1305 369.9h.01M1294.9 483.2h.01M1086.2 255.5h.01M1090.9 256.6h.01M1096 255.2h.01M1099.6 252h.01M1104.5 250.1h.01M1124 298.4h.01M1271.8 468.1h.01M1270.1 462.7h.01M1108.8 343h.01M1161.5 470.7h.01M1160.3 475.4h.01M1304 399.2h.01M1311.2 333.6h.01M1260 463.7h.01M1265.9 466.2h.01M1301.3 421.3h.01M1030.4 340.6h.01M1027 344.5h.01M1239.9 495.5h.01M1235.3 499.8h.01M1257 502.2h.01M1273.3 479.7h.01M1277.2 482.5h.01M1133.4 290.2h.01M1122.5 497.2h.01M1127.1 495.3h.01M1133.4 495.7h.01M1264.8 363.4h.01M1230.6 304.1h.01M1063.5 370.6h.01M1043.9 340.4h.01M1048.6 343h.01M1167.5 379.1h.01M1253.3 388.8h.01M1257.8 365.8h.01M1164.4 509.2h.01M1164.6 272.3h.01M1183.8 341.9h.01M1055.7 273.6h.01M1251 367.5h.01M1278.3 452.1h.01M1156.8 247.9h.01M1157.2 350.7h.01M1235.5 361.9h.01M1241.5 361.2h.01M1158.1 459.1h.01M1128.5 409.4h.01M1227.3 510.4h.01M1272.5 381.8h.01M1269 385.9h.01M1322.5 335.8h.01M1174 357.4h.01M1174.7 352.3h.01M1093.8 309.6h.01M1298.4 392.9h.01M1056.3 330.1h.01M1252 510.3h.01M1124.8 483.6h.01M1126.7 489.4h.01M1270.8 513.9h.01M1275.3 514.9h.01M1251.2 277h.01M1075.7 384.8h.01M1071.3 380.6h.01M1067.2 376.2h.01M1068.6 314.3h.01M1071.3 318.3h.01M1047 235.9h.01M1286.8 428.5h.01M1237.1 518.6h.01M1231.7 516.3h.01M1049.8 279h.01M1043.7 279.8h.01M1038.2 282.3h.01M1249.7 295.2h.01M1245.7 370.7h.01M1148.8 394.1h.01M1196.7 401.5h.01M1197.5 395.6h.01M1237.7 282.6h.01M1240.3 271.3h.01M1306.6 515.3h.01M1280.6 331.5h.01M1277.7 335.6h.01M1276 340.2h.01M1231.6 324h.01M1236.5 320.3h.01M1242.8 321.1h.01M1179.5 257.1h.01M1268.5 454.3h.01M1046.1 322.2h.01M1124.2 431.7h.01M1118.7 433.7h.01M1105.6 455.3h.01M1201.2 546.4h.01M1201.8 430.9h.01M1191.9 508.2h.01M1188.3 511.6h.01M1136.2 511.8h.01M1291.9 337h.01M1291.3 342.8h.01M1288.3 347.8h.01M1204.5 548h.01M1175.8 441.7h.01M1180.4 445.2h.01M1181.6 449.7h.01M1049.6 323.4h.01M1125.6 448h.01M1178.8 462.4h.01M1193.7 477.9h.01M1246.6 473.4h.01M1250 468.5h.01M1256.8 517.2h.01M1253.3 513.9h.01M1223.1 446.8h.01M1269.5 521.7h.01M1287.3 448.8h.01M1295.4 345h.01M1182.5 307.8h.01M1264.7 411h.01M1284.8 373.2h.01M1152.8 401h.01M1147.6 400.8h.01M1278.5 408.3h.01M1159.9 277.6h.01M1191.4 366.8h.01M1139.4 384.9h.01M1199.6 474.6h.01M1193.7 483h.01M1265 286.9h.01M1286.3 318.8h.01M1312 437.2h.01M1101.3 361.2h.01M1266.7 528.9h.01M1305.4 447.2h.01M1117.2 467h.01M1121 469.8h.01M1122.8 474.3h.01M1122.1 480.6h.01M1218.6 530.7h.01M1213 520.4h.01M1194.2 534.3h.01M1253.5 374.6h.01M1257.1 370.5h.01M1147.6 509.7h.01M1153.2 511.2h.01M1259.8 375.3h.01M1336.7 346.8h.01M1250.2 431.7h.01M1094.1 243.6h.01M1041.9 362.4h.01M1211.6 453.6h.01M1204.3 445.1h.01M1265.7 492.5h.01M1260.9 490.1h.01M1256.6 488.4h.01M1198.4 447.4h.01M1195 444.2h.01M1193.4 439.6h.01M1191.8 435.2h.01M1079.5 253.7h.01M1249.6 343.1h.01M1244.9 344.6h.01M1238.9 344.1h.01M1211.1 395.2h.01M1130.6 445.3h.01M1171.9 269.4h.01M1158.3 429.6h.01M1159.5 435.3h.01M1161.1 393.8h.01M1302 410.8h.01M1254.3 340.4h.01M1259.7 341h.01M1043.3 367.6h.01M1087.6 340.8h.01M1248.3 336h.01M1243 333.4h.01M1117.3 490.8h.01M1155.2 495h.01M1248.4 395h.01M1164.6 530.1h.01M1167.2 534.8h.01M1094.3 440.3h.01M1285.8 398h.01M1321.1 390.2h.01M1328.5 339.3h.01M1274.7 508.2h.01M1270.3 509.9h.01M1264.3 508.9h.01M1247.7 311.9h.01M1244.4 308h.01M1184.7 366.3h.01M1225.7 322h.01M1223.8 317.5h.01M1133.4 476.9h.01M1139.1 476.2h.01M1144.4 475.1h.01M1210.6 345.3h.01M1202.7 396.4h.01M1262.1 349.2h.01M1267.3 351.4h.01M1278.4 416.5h.01M1274.8 419.6h.01M1276.5 425.2h.01M1274.2 431.1h.01M1303.6 427.4h.01M1168.4 316.9h.01M1233.4 296h.01M1208.3 269.9h.01M1242.1 432h.01M1212.6 289.6h.01M1084.5 395.9h.01M1085.8 389.9h.01M1182.7 521.6h.01M1246.4 500.4h.01M1197.3 297.1h.01M1231.5 385h.01M1232.6 390.6h.01M1074.3 416.9h.01M1075.3 411.4h.01M1249.5 307h.01M1313.1 345.9h.01M1320.6 372.3h.01M1315.8 369.1h.01M1312.8 365.5h.01M1238.5 312.6h.01M1239 307.8h.01M1175.9 394.1h.01M1327.5 479.1h.01M1275 300.3h.01M1314.8 478.2h.01M1314.5 484h.01M1320.5 485.5h.01M1305 365.8h.01M1300 366.7h.01M1294.4 366.9h.01M1266 300.4h.01M1268 295.1h.01M1129.7 485.6h.01M1095.1 411.6h.01M1041.7 245h.01M1038.5 249.6h.01M1216.5 420.7h.01M1200.3 422h.01M1323.1 493.5h.01M1179.2 432.3h.01M1180.5 437.7h.01M1294.7 543.2h.01M1195.2 496.4h.01M1177.9 321.3h.01M1099.4 246.2h.01M1116.5 413.4h.01M1255.6 285h.01M1176.4 364.8h.01M1172.5 369.7h.01M1221.5 322.8h.01M1221.8 402.7h.01M1155.7 376.8h.01M1093.5 444.2h.01M1093.9 434.6h.01M1291.3 382.2h.01M1297 381.5h.01M1326.6 345.4h.01M1126.6 309.9h.01M1125.9 305.1h.01M1320.6 339.1h.01M1137.8 409.8h.01M1278 530.1h.01M1118.5 442h.01M1267.5 361h.01M1264.2 356.9h.01M1168.1 470.4h.01M1181.6 485.1h.01M1109.9 319.6h.01M1189.4 315.4h.01M1250 493.9h.01M1245.6 317h.01M1111.3 260.3h.01M1236 352.2h.01M1314.5 519.4h.01M1310.5 516.9h.01M1289 379.2h.01M1205.9 510.6h.01M1210.6 511.8h.01M1214.7 514h.01M1147.5 496.2h.01M1274.4 402h.01M1175.3 470.7h.01M1138.2 359.3h.01M1143.3 360.6h.01M1147.5 363.3h.01M1233.3 502.8h.01M1084.5 414.9h.01M1246.1 467.6h.01M1150 322.9h.01M1154.8 323.8h.01M1141.7 432.4h.01M1237 269.3h.01M1244.9 392.6h.01M1260.1 334.9h.01M1061.5 390.3h.01M1061.9 395.1h.01M1060.2 365.3h.01M1244.5 447.7h.01M1051.5 328.7h.01M1241.5 284.8h.01M1250.2 284.7h.01M1244.8 435.6h.01M1037.2 343.4h.01M1241.7 504.1h.01M1127.4 438.2h.01M1063.9 401h.01M1229.9 340.8h.01M1127.6 451.9h.01M1198.7 438.9h.01M1230.4 366.3h.01M1154.8 486.6h.01M1250.2 463.6h.01M1256.3 461.7h.01M1237.6 442.6h.01M1242.9 443.6h.01M1125.6 354.4h.01M1267.4 535.1h.01M1304 316.7h.01M1306.6 356h.01M1148.7 388.6h.01M1080.6 383.5h.01M1291.3 455.2h.01M1291.2 449.9h.01M1307.2 326.8h.01M1184.1 463.3h.01M1318.5 502h.01M1210.4 276.5h.01M1214.2 431.5h.01M1149.7 506.9h.01M1194.4 544.7h.01M1193.8 549.9h.01M1268.1 309.7h.01M1217.9 471.4h.01M1220.1 490.3h.01M1214.9 491.1h.01M1165.3 332.8h.01M1213.3 502.2h.01M1291.4 332.8h.01M1287.1 336.8h.01M1309.1 388.4h.01M1187.2 258.5h.01M1300.6 515.1h.01M1260.9 303.6h.01M1261.1 298.9h.01M1257.7 295h.01M1255.7 290.6h.01M1163.8 418.8h.01M1276.7 428.5h.01M1104.8 280.1h.01M1117.9 503.4h.01M1123.6 501.8h.01M1314.8 504.5h.01M1261.2 286.8h.01M1202.4 374h.01M1206.1 503.8h.01M1244.5 380.4h.01M1135.2 502.9h.01M1132 506.9h.01M1158.9 252.1h.01M1265 498.2h.01M1277.1 361.7h.01M1249.9 447.4h.01M1304 345.5h.01M1150.8 294.9h.01M1225.4 263.1h.01M1220 262.3h.01M1296.4 519.9h.01M1122.6 399.6h.01M1187 516.9h.01M1087.9 239.3h.01M1086.3 244.6h.01M1084.3 249.8h.01M1191.5 500.4h.01M1188.6 524.9h.01M1095.3 354.9h.01M1240.7 389.3h.01M1246.3 389.6h.01M1253 458.3h.01M1223.7 497.3h.01M1251.4 473.7h.01M1247.9 477.9h.01M1293 530.5h.01M1205.9 479.3h.01M1275.8 387.1h.01M1261.6 331.9h.01M1324.2 477.4h.01M1322.2 381.3h.01M1266.7 461.1h.01M1172.4 254.8h.01M1238.1 460.7h.01M1243.9 461.9h.01M1214.2 545h.01M1212.3 550.2h.01M1302 433.8h.01M1083 422.6h.01M1087.4 424.6h.01M1084.3 434.8h.01M1277.2 295.2h.01M1061.6 303.9h.01M1170 570h.01M1178 563h.01M1186 578h.01M1213 570h.01M1217 562h.01M1205 548h.01M1293.2 548.5h.01M1274.8 525h.01M1271.2 545.7h.01M1282.7 549.1h.01M1283 543.9h.01M1313.8 535.3h.01M1314.2 556.1h.01M1305.5 572.2h.01M1305.9 536h.01M1307.2 561.6h.01M1305.8 564.7h.01M1314.1 552.2h.01M1312.4 547.2h.01M1310.7 571h.01M1311.9 538h.01M1317 547.5h.01M1310.1 559.3h.01M1305.5 529.1h.01M1309.7 554.4h.01M1316.2 564h.01M1320.2 610.6h.01M1315.9 600.1h.01M1324.7 591.7h.01M1315.4 604.3h.01M1310.9 605.8h.01M1307.2 610.5h.01M1330.7 612.2h.01M1327.4 622.3h.01M1312.7 623.2h.01M1315.5 582.4h.01M1319.7 577.3h.01M1340.7 587.4h.01M1346.7 587.6h.01M1318 590h.01M1314.3 585.6h.01M1303.3 601.7h.01M1305 588.6h.01M1325.1 613.2h.01M1311.4 618.3h.01M1327.1 588.2h.01M1312 611.1h.01M1306.7 595.9h.01M1314.8 592.4h.01M1298.6 611.5h.01M1311.7 601.5h.01M1328.3 579.6h.01M1336.6 641.5h.01M1330.2 641.7h.01M1308.5 653.9h.01M1311.9 639.7h.01M1301.8 620h.01M1327.1 655.8h.01M1317.4 647.8h.01M1313.2 628.6h.01M1316.2 632.6h.01M1322.3 634.3h.01M1326.4 644.2h.01M1323.2 649.3h.01M1311.6 659.5h.01M1328.9 650.5h.01M1330.6 634.9h.01M1304.4 633.6h.01M1299 636.5h.01M1293.3 657.1h.01M1325.9 630.3h.01M1250 570.1h.01M1252.3 618.1h.01M1264.7 586.4h.01M1265.1 612.1h.01M1264.2 581.7h.01M1261.3 601.4h.01M1260.5 594.7h.01M1256.6 616.7h.01M1257.3 606.9h.01M1254 574.6h.01M1256 569.8h.01M1251.2 622.3h.01M1253.2 612.1h.01M1247.5 604.2h.01M1268.5 591.5h.01M1256.8 598.7h.01M1254.6 603h.01M1255.9 595.1h.01M1258.5 578.1h.01M1245.6 626.1h.01M1245.5 622h.01M1251.3 629.3h.01M1264.7 597.3h.01M1258.8 584.9h.01M1269.4 580.7h.01M1251.6 596.8h.01M1259.3 589.4h.01M1255.6 629.7h.01M1249.3 615.1h.01M1256.2 624.7h.01M1263.4 591.1h.01M1286.7 593.7h.01M1280 595.8h.01M1274.5 597.8h.01M1287.7 601.5h.01M1276.2 593.9h.01M1281.2 599.7h.01M1299.5 607.6h.01M1278 571h.01M1350 609h.01M1357.5 607.5h.01M1358 618h.01M1266.2 659.8h.01M1304.7 662.3h.01M1346.4 746.2h.01M1345.5 740.1h.01M1347.5 735.4h.01M1351.5 731.9h.01M1339.5 765.8h.01M1295.6 649.2h.01M1292.7 807.8h.01M1349.6 798.2h.01M1352.8 801.9h.01M1294.7 723.9h.01M1270.9 740.6h.01M1268.9 746.5h.01M1268.4 751.9h.01M1299.7 790.5h.01M1384.3 738.3h.01M1269.5 737.4h.01M1407.2 752.7h.01M1407.6 758.5h.01M1282.9 721h.01M1251.1 774.1h.01M1257.2 773.3h.01M1259.9 768.3h.01M1266.7 759.7h.01M1264.3 755.6h.01M1276.9 751.8h.01M1277.7 745.7h.01M1275.4 740.9h.01M1348.5 714.1h.01M1352.5 710.5h.01M1357.9 708.3h.01M1364.3 700.3h.01M1267.2 786.2h.01M1339.9 642.5h.01M1379.8 788.2h.01M1420.8 703.9h.01M1411.2 689.5h.01M1365.4 687h.01M1361.8 690.9h.01M1359.1 694.7h.01M1336.5 740.6h.01M1326.5 745.5h.01M1318.4 767.2h.01M1367.4 727.9h.01M1362.3 730.9h.01M1356.9 731h.01M1285 668h.01M1332.1 787.5h.01M1328.7 783.2h.01M1374.1 681.1h.01M1380.3 714.7h.01M1377.8 710.2h.01M1381.4 706.7h.01M1386.8 703.6h.01M1385.5 715.3h.01M1271.7 757.9h.01M1335.8 726.8h.01M1333.5 716h.01M1336.4 784.1h.01M1353.9 766.7h.01M1357.8 769.3h.01M1315 777.4h.01M1314.2 782.5h.01M1315.2 800.9h.01M1360.1 733.3h.01M1381.3 661h.01M1397.5 692.3h.01M1350.3 769.5h.01M1409.5 672.5h.01M1385.5 693.8h.01M1379.4 723.1h.01M1382.4 718.5h.01M1398 750.2h.01M1296.3 759.5h.01M1316.4 814h.01M1368 753.6h.01M1377.7 687.7h.01M1380.2 683.4h.01M1377.1 673h.01M1379 666.9h.01M1420.8 695.2h.01M1408.3 708.8h.01M1417.3 743.7h.01M1419.6 738.4h.01M1423 735.3h.01M1427 731.6h.01M1425 705.9h.01M1393.9 700.5h.01M1292.2 706.6h.01M1366.9 788.6h.01M1368.3 794.2h.01M1349.2 666.1h.01M1355.2 657.1h.01M1384.6 711.9h.01M1391 712h.01M1399.2 745.6h.01M1360.6 684.5h.01M1355.9 685.4h.01M1346.2 803.8h.01M1341.8 807.1h.01M1367.5 666.1h.01M1243.7 770.7h.01M1253.5 758.9h.01M1302.3 785h.01M1324.4 712.3h.01M1358.2 740.9h.01M1409.5 763.4h.01M1406.1 767.3h.01M1401.4 763.2h.01M1330.6 771.3h.01M1274 765.8h.01M1348.3 650.7h.01M1359.9 763.6h.01M1351.5 755.4h.01M1256.1 755.7h.01M1259.8 760.9h.01M1291 782.4h.01M1287.6 767.5h.01M1281.8 770.1h.01M1305.7 769.2h.01M1373.1 789.3h.01M1320.2 737.6h.01M1314.9 734.8h.01M1375.5 742.7h.01M1376 737.8h.01M1415.2 688.5h.01M1282.4 745.7h.01M1408.2 747.3h.01M1275.1 726.8h.01M1392.3 706.9h.01M1336 711.5h.01M1365.3 782.3h.01M1257.4 765.1h.01M1319.3 823.3h.01M1414.7 756.1h.01M1333.9 655.1h.01M1330.6 660.3h.01M1331 665.2h.01M1301.4 799.3h.01M1296.8 794.9h.01M1282.1 783.4h.01M1271.7 685.9h.01M1343.9 664.4h.01M1346.8 670h.01M1358.1 712.3h.01M1380.9 761h.01M1355.3 736.5h.01M1402.5 653.3h.01M1404 676.4h.01M1337.7 637.8h.01M1425.7 655.2h.01M1355.2 812.2h.01M1354.1 807.2h.01M1351.9 751.9h.01M1357.5 752.4h.01M1439.7 670.1h.01M1276.2 733.9h.01M1309.7 765.2h.01M1302.1 718.5h.01M1406.9 668.6h.01M1249.9 750.4h.01M1371 668.3h.01M1341 654.5h.01M1414.4 707.5h.01M1418.8 709.7h.01M1360.4 701.7h.01M1333.3 781.4h.01M1371.5 733h.01M1382.6 731.2h.01M1240.2 788.2h.01M1411.3 665.5h.01M1360.2 653.9h.01M1289.9 750.1h.01M1306.6 754h.01M1334.2 645h.01M1332.7 639.6h.01M1314.6 804.3h.01M1416.7 681.3h.01M1346.6 658.7h.01M1327.1 815.8h.01M1322.8 811.3h.01M1312.2 809.1h.01M1397.9 716.5h.01M1395.8 712h.01M1399.1 708.1h.01M1306.1 714.7h.01M1388.6 665.1h.01M1384.8 662h.01M1305.1 703.5h.01M1345.5 688h.01M1288.7 642.6h.01M1286.4 659.8h.01M1309.3 710.1h.01M1313.2 766.9h.01M1401.5 756h.01M1338.5 736.2h.01M1289.5 795h.01M1421.6 719.8h.01M1418.6 724.9h.01M1414.2 726.6h.01M1409.3 728.8h.01M1403.5 727.3h.01M1400.6 721.7h.01M1432.9 667.4h.01M1435.4 661.7h.01M1377.4 771.2h.01M1372.5 774.2h.01M1374.8 779.2h.01M1364.9 794.1h.01M1349.7 745.4h.01M1354.3 741.2h.01M1422.2 708.1h.01M1284.1 759.7h.01M1413.4 657.7h.01M1409.7 754.9h.01M1412.1 760.3h.01M1412.3 765.3h.01M1291 690.8h.01M1291.7 697.1h.01M1443.9 688.7h.01M1435.2 699.7h.01M1435.8 705.8h.01M1292.9 686.4h.01M1345.2 695.9h.01M1305.5 721.4h.01M1334.1 684.3h.01M1331.9 687.2h.01M1317 720.4h.01M1391.2 682h.01M1397.3 680.8h.01M1402.8 683.2h.01M1408.5 682.1h.01M1417.9 761.6h.01M1422.9 758.4h.01M1355 713.9h.01M1401.1 699.6h.01M1406.5 697.7h.01M1299.2 762.4h.01M1248.4 770.3h.01M1266.2 683.9h.01M1261.9 680.7h.01M1257.2 677.3h.01M1293.4 744.4h.01M1294.3 739h.01M1393.6 728.7h.01M1406.2 705.6h.01M1404.3 700.3h.01M1404.2 694.2h.01M1293.1 731.4h.01M1285.3 677.3h.01M1256.2 784.1h.01M1299.1 713.1h.01M1294.3 716.5h.01M1253.1 779.6h.01M1288.9 771.8h.01M1293.8 775.3h.01M1320.1 713.4h.01M1330.1 796.6h.01M1381.1 692.3h.01M1371.7 760.1h.01M1362.9 662.7h.01M1363.1 656.9h.01M1421.6 742.5h.01M1367.2 733.5h.01M1371.6 736.5h.01M1332.7 755.6h.01M1331.5 751.1h.01M1348.5 749.8h.01M1374.4 769.5h.01M1395.5 672.4h.01M1365.5 671.5h.01M1408.3 676.6h.01M1393.2 754.2h.01M1392.4 758.9h.01M1335 703h.01M1348.2 773.3h.01M1353.5 771h.01M1335.2 677.3h.01M1440 685.3h.01M1279.4 779.8h.01M1414.1 720.5h.01M1340.7 691.7h.01M1363.9 797.7h.01M1316.1 741.5h.01M1393.9 718h.01M1434.3 681.4h.01M1348.9 688.5h.01M1319.8 728.5h.01M1320.5 723.6h.01M1389.9 785.8h.01M1385.3 784.1h.01M1377.3 794.6h.01M1351.2 691.2h.01M1425.6 764.8h.01M1332.8 696.1h.01M1329.7 692.3h.01M1327 688.4h.01M1311.9 818h.01M1307.9 813.2h.01M1425.8 728.4h.01M1430.3 724.8h.01M1414.3 653.2h.01M1422.2 682.4h.01M1422.5 677.4h.01M1421.2 672.4h.01M1319.3 698.4h.01M1426 699.3h.01M1430.1 703.4h.01M1424.1 662.3h.01M1425 666.9h.01M1295.8 697.3h.01M1323.7 673.6h.01M1321.1 669.6h.01M1356.9 779.1h.01M1339.9 727.9h.01M1343.8 732.3h.01M1433.3 694.1h.01M1290.3 668.3h.01M1288.9 672.8h.01M1363.9 676.3h.01M1371.8 687.4h.01M1372.8 693.3h.01M1402.6 679.4h.01M1311.9 721.9h.01M1404.8 713.9h.01M1270.4 768.3h.01M1364.6 715h.01M1417.7 692.6h.01M1381.2 765.8h.01M1393.5 766.7h.01M1313.4 687.5h.01M1311.7 683.2h.01M1325.5 722h.01M1340.8 772.9h.01M1341.4 697.1h.01M1285.6 716.6h.01M1389.3 668.8h.01M1372.4 654.5h.01M1308.6 775.8h.01M1390.7 677.3h.01M1377 703.9h.01M1372.6 740.5h.01M1431 684h.01M1426.1 683.1h.01M1396.1 762.2h.01M1358.1 793.7h.01M1287.9 756.1h.01M1311.4 667.1h.01M1329 733.3h.01M1306.4 817.1h.01M1305.9 823.1h.01M1302.6 826.7h.01M1365.7 774.1h.01M1299.8 741.6h.01M1274.6 657.7h.01M1312.1 712.2h.01M1311.7 706.8h.01M1340.6 650.6h.01M1428.4 716.5h.01M1431.1 658.2h.01M1321.3 683.7h.01M1321.5 794.9h.01M1318 797.8h.01M1425.2 679.9h.01M1307.7 675.3h.01M1359.6 755.1h.01M1429.5 728.8h.01M1248.6 782.5h.01M1324 703.4h.01M1368.9 798.2h.01M1420 668.7h.01M1381.3 756.4h.01M1314.1 643.1h.01M1270.1 682.1h.01M1443.6 701.8h.01M1352 786.9h.01M1431.4 713h.01M1428.3 707.7h.01M1307.5 744.8h.01M1423.7 749.6h.01M1369.6 725.5h.01M1266.5 782.7h.01M1395 740.7h.01M1359.3 776.5h.01M1360.1 797.5h.01M1393.6 723.7h.01M1398.4 661.3h.01M1396.3 655.5h.01M1325 763h.01M1350 724.5h.01M1355.2 720.8h.01M1362.3 709.7h.01M1416.3 670.5h.01M1418.5 675.9h.01M1388.8 747.5h.01M1394.1 749.1h.01M1339.7 779.3h.01M1300.3 673.9h.01M1328.7 789.2h.01M1335.5 706.9h.01M1319.3 641.7h.01M1349.5 739.6h.01M1392.6 734.6h.01M1398.1 737.1h.01M1315.8 660.5h.01M1260.4 791.4h.01M1375 766.1h.01M1312.8 821.1h.01M1394.3 663.3h.01M1293.1 666.1h.01M1297.3 669.9h.01M1294.8 677.1h.01M1354.8 672.1h.01M1359.3 668.4h.01M1375 786.3h.01M1343.6 703.2h.01M1371.1 755.1h.01M1376.5 753.3h.01M1261.3 676.6h.01M1341.3 749.3h.01M1304.3 734.9h.01M1408.9 663.4h.01M1317.6 710.9h.01M1315.7 715.1h.01M1258.9 740.7h.01M1371.2 718.7h.01M1369.8 742.9h.01M1430.4 687h.01M1433.8 726.1h.01M1370.1 713.3h.01M1365.2 712h.01M1361.1 740.2h.01M1404.3 745.5h.01M1349.8 680h.01M1344.2 677.9h.01M1373.6 696.8h.01M1364.9 718.9h.01M1430.7 675.1h.01M1409.3 712.7h.01M1352.7 667.9h.01M1351.2 672.4h.01M1353.2 700.9h.01M1354.2 696.2h.01M1391.1 720h.01M1387.6 737.7h.01M1415.3 685h.01M1390.6 744.1h.01M1384.8 746.6h.01M1379.5 745.4h.01M1301.2 802.6h.01M1298.1 797.9h.01M1322.4 769h.01M1304.6 804.7h.01M1320.3 772.3h.01M1306.4 810.4h.01M1311.3 812.8h.01M1326.6 796.8h.01M1330.7 822h.01M1295.7 814.6h.01M1321.7 785.5h.01M1312 779.8h.01M1306 779.1h.01M1320.1 777.8h.01M1333.7 815.8h.01M1298.5 767.2h.01M1325.6 780.2h.01M1332 800.8h.01M1312.7 793.5h.01M1300.1 820.6h.01M1452.3 733.1h.01M1502.2 775.8h.01M1405.4 824.4h.01M1401 828h.01M1395.6 828.8h.01M1427.7 788.4h.01M1477.5 777.1h.01M1397.7 797.1h.01M1393.3 794.4h.01M1447.8 743.9h.01M1463.8 740.5h.01M1358.6 841.9h.01M1452.5 801.5h.01M1454.9 806.3h.01M1458.1 810.4h.01M1459.5 814.9h.01M1428.4 760.7h.01M1504 793.7h.01M1456.7 694.9h.01M1409.8 799.2h.01M1413.4 803.4h.01M1412.7 808.7h.01M1410 812.6h.01M1400.7 813.2h.01M1436.2 784.5h.01M1439.8 787.5h.01M1444.6 789.2h.01M1449 790.7h.01M1460.9 783h.01M1466.9 781.6h.01M1449.2 703.4h.01M1466.6 794.3h.01M1430.1 819.5h.01M1372.6 825h.01M1367.2 826.3h.01M1445.4 768.3h.01M1440.5 769.6h.01M1428.9 811h.01M1462.4 804.5h.01M1478.2 765.9h.01M1344.2 839h.01M1339.9 842.9h.01M1483.9 766.1h.01M1418.6 795.9h.01M1355 822.9h.01M1349.1 822.9h.01M1344.4 824.7h.01M1460.6 736h.01M1422.3 775.1h.01M1437.8 800.9h.01M1383.7 813.9h.01M1379.3 810.7h.01M1432.1 766.1h.01M1434.3 761.2h.01M1444.6 757.4h.01M1341.4 849.1h.01M1337.6 853.5h.01M1431.5 777.6h.01M1329.7 834.9h.01M1440.2 717.6h.01M1471.4 760.3h.01M1398.5 776.8h.01M1483.8 760.6h.01M1490.2 754.2h.01M1456.3 728.9h.01M1463.4 766.7h.01M1468.1 770h.01M1466.5 774.9h.01M1461.9 774.6h.01M1387.8 826.9h.01M1363.5 1117.1h.01M1529.9 1047.5h.01M1568.7 1001.7h.01M1632.3 889.8h.01M1637.4 887.3h.01M1611.6 1077.6h.01M1614.2 1083.3h.01M1450.3 874.8h.01M1455.6 875.9h.01M1305.5 991.2h.01M1322 942.2h.01M1319.3 1075.1h.01M1639.3 876.8h.01M1327.8 1015.3h.01M1599 889.8h.01M1601.4 885.8h.01M1444.9 1152.4h.01M1525.8 970.6h.01M1632.9 899.4h.01M1627.7 942.2h.01M1629.3 946.6h.01M1490.2 1040.6h.01M1316.9 991.5h.01M1505.2 1126.3h.01M1506 1131.4h.01M1509.5 1135.8h.01M1510.2 1141.3h.01M1492.9 995h.01M1419.5 1004.4h.01M1356.8 951h.01M1358 946.2h.01M1354.4 936.7h.01M1350.3 934.6h.01M1345.8 937.1h.01M1346.7 948h.01M1343.8 951.7h.01M1329 957.2h.01M1429.3 1001h.01M1519 1110.7h.01M1417.2 862.3h.01M1365.1 997.7h.01M1369.9 994h.01M1375 993.9h.01M1378.6 988.7h.01M1390.9 897.3h.01M1630.8 958.7h.01M1560.3 847.8h.01M1608.8 1082.9h.01M1347.1 1073.1h.01M1618.1 866.2h.01M1617.4 871.5h.01M1373.5 873h.01M1371.3 868.1h.01M1460.6 834.9h.01M1610.2 946.7h.01M1515 840.5h.01M1541 877h.01M1575.3 1035.4h.01M1572 1040.5h.01M1543.5 849.2h.01M1538.2 850h.01M1532.8 852.2h.01M1527 849.9h.01M1324 999.8h.01M1323.4 993.4h.01M1524.9 922.5h.01M1605 965.8h.01M1490.6 899.5h.01M1396.2 882.2h.01M1465.3 1156.7h.01M1470 1159.3h.01M1642.2 881.6h.01M1346.5 1085.3h.01M1341.2 1085.9h.01M1462.2 820.5h.01M1457.2 822.9h.01M1423.1 1103.5h.01M1417.6 1105.3h.01M1411.6 1104.3h.01M1505.9 998.9h.01M1507.5 993.1h.01M1506.1 987.2h.01M1507.1 981h.01M1492.1 827.4h.01M1629.2 905.2h.01M1573.4 911.9h.01M1570.4 895.6h.01M1572.2 889.5h.01M1560 854.1h.01M1556.6 849.3h.01M1556.3 843h.01M1634.5 992.7h.01M1594 1109h.01M1505.5 934.8h.01M1511.1 935.4h.01M1459.7 1134.7h.01M1465.9 1134.9h.01M1469.9 1137.6h.01M1522.1 851h.01M1634.5 969.2h.01M1478.4 858.1h.01M1479.6 863.1h.01M1479.1 872.8h.01M1554.3 1007.1h.01M1568.5 840.2h.01M1460.7 1121.4h.01M1454.4 1121.2h.01M1448.6 1122.5h.01M1443.5 1122h.01M1432.5 1125.3h.01M1433.9 1131.3h.01M1541.6 1103.3h.01M1485.8 822.7h.01M1386.4 963h.01M1391.3 964.5h.01M1396.5 962.4h.01M1467.3 872.6h.01M1384.6 1002.7h.01M1387 997.6h.01M1435.9 833.7h.01M1441.7 834h.01M1583.3 886.7h.01M1623.7 950.2h.01M1618.2 947.5h.01M1638.9 950.8h.01M1634.4 954h.01M1576.2 848.6h.01M1543.6 1125.5h.01M1310.3 1015.2h.01M1447.9 971.6h.01M1438 974.6h.01M1597.6 1044.9h.01M1600.7 1049.8h.01M1572.2 1032.8h.01M1414.1 859.4h.01M1454.7 1158.8h.01M1458.4 1155.5h.01M1539.5 919.1h.01M1536.5 923.3h.01M1537.2 929.5h.01M1537.1 1143.6h.01M1542.2 1145h.01M1546.7 1146h.01M1597.5 981.1h.01M1563.7 1080.5h.01M1560 1077.1h.01M1555.4 1074.7h.01M1577.5 1022.6h.01M1416.3 927.2h.01M1406 872.5h.01M1478.2 943.5h.01M1622.5 878.7h.01M1627.2 881.2h.01M1448.3 940.9h.01M1444.9 937.6h.01M1433.8 935.6h.01M1328.5 975.1h.01M1498.4 1109.5h.01M1410.9 941.8h.01M1416.1 944.2h.01M1543.1 1067h.01M1528 967.8h.01M1485 880h.01M1496 880.4h.01M1520.3 1142.2h.01M1514.9 1139.9h.01M1580.6 935h.01M1582.6 929h.01M1586.3 925.7h.01M1591.6 924h.01M1593.1 919.7h.01M1373.1 902.1h.01M1369.6 898.1h.01M1364.5 899.1h.01M1398 859.6h.01M1399.2 852.7h.01M1365.1 917.5h.01M1540 1135h.01M1556.3 892.3h.01M1554.1 897.8h.01M1549.4 901.7h.01M1447.4 1037.6h.01M1446.1 1043.3h.01M1400.5 886.5h.01M1608.2 943.9h.01M1641 954h.01M1646.2 957.2h.01M1509.6 948.4h.01M1608 938.9h.01M1609.2 933.2h.01M1618.5 951.2h.01M1294.9 992.6h.01M1487.9 1052.5h.01M1487 929.1h.01M1490.9 926.4h.01M1542.9 942.9h.01M1537.8 942.4h.01M1400.4 1063.9h.01M1575.3 1063h.01M1575.4 1058.3h.01M1536.6 1091.1h.01M1542.1 1091.6h.01M1547.7 1092.6h.01M1297.1 909.4h.01M1383.6 952.3h.01M1380.5 948.2h.01M1373.5 940.9h.01M1488.2 1006h.01M1490.7 1000.8h.01M1534.2 1037h.01M1531.8 1032.1h.01M1568.9 1005.7h.01M1574.8 1007.3h.01M1534.8 1079.1h.01M1535.3 1074.5h.01M1540.8 1071.8h.01M1472.4 864.6h.01M1476.1 867.6h.01M1635.6 979.8h.01M1639.3 976.8h.01M1644.3 973.5h.01M1594.2 916.4h.01M1476.6 830.8h.01M1481.5 832.1h.01M1605.4 986.2h.01M1334 1069.4h.01M1593 1046.3h.01M1594.2 1052.6h.01M1595.2 1058.2h.01M1599.6 1061.3h.01M1484 900.6h.01M1455.3 947.7h.01M1454.3 1153.7h.01M1612.9 966h.01M1516.4 1057.8h.01M1518.1 1062.5h.01M1517.2 1067.5h.01M1516 1073.4h.01M1380.6 909h.01M1531.8 884.6h.01M1530.2 889.8h.01M1528.9 895h.01M1570.6 867.7h.01M1564.3 956.3h.01M1554.1 961.9h.01M1544.3 962.7h.01M1539.6 971.5h.01M1369.8 877.5h.01M1395.2 1049.8h.01M1389.3 1021h.01M1384.6 1024.1h.01M1385 1028.9h.01M1458.3 1141.8h.01M1459.8 1147.6h.01M1554.3 869.9h.01M1559.3 868.1h.01M1564.1 866.9h.01M1474.9 894.7h.01M1478.5 891.8h.01M1481.2 887.2h.01M1485.7 883.5h.01M1424.2 1025.4h.01M1421.1 1021.3h.01M1445.9 925.1h.01M1450.1 921.4h.01M1351.4 978.8h.01M1350.8 984.2h.01M1435 840.1h.01M1444.4 1054.5h.01M1549.4 944.2h.01M1323.1 988.6h.01M1495.2 1044.2h.01M1459.1 898.6h.01M1542.1 1049.1h.01M1379.4 1072.2h.01M1647.8 933.5h.01M1647.9 939.3h.01M1612.1 923.9h.01M1609.1 929.1h.01M1585.8 889h.01M1432.4 1169.2h.01M1434.3 1163.2h.01M1432.1 1159h.01M1612.1 1035.2h.01M1612.9 1030.4h.01M1616 1025.8h.01M1621.1 1022.5h.01M1313.9 897.6h.01M1466.7 1177.7h.01M1462 1175.7h.01M1526.5 1038h.01M1429 837.3h.01M1352.9 1013.7h.01M1344.3 1009.4h.01M1339.4 1005.5h.01M1335.3 1003.4h.01M1490 1114.2h.01M1414.8 1068.7h.01M1414.5 1063.6h.01M1415.4 1057.7h.01M1409 1050.6h.01M1383.2 1070h.01M1385.3 1060.8h.01M1466.5 831h.01M1569.4 968.8h.01M1526.1 1136.1h.01M1524.3 1141.1h.01M1520.2 923.4h.01M1512.4 916.5h.01M1507.8 915.7h.01M1503.3 918.7h.01M1555.4 995.8h.01M1552.4 990.1h.01M1552.1 984.5h.01M1556 980h.01M1500.1 1132.7h.01M1436.4 959.5h.01M1446.7 962.1h.01M1452.5 961.1h.01M1312.6 946.1h.01M1521.5 865h.01M1526.4 861.5h.01M1422.2 1030.5h.01M1391.8 907.4h.01M1386.8 904.4h.01M1434 878.3h.01M1527.7 991.5h.01M1529 985.8h.01M1528.5 979.5h.01M1533.2 975.8h.01M1440.5 881.4h.01M1438.2 887h.01M1440.1 902.4h.01M1447.3 909.4h.01M1326.3 1004.5h.01M1600 937h.01M1376.9 888h.01M1378.6 1112.7h.01M1379 1107.7h.01M1384.3 1117.7h.01M1385.8 1123.3h.01M1359.3 1093.9h.01M1599.9 1006.7h.01M1598.5 1011.3h.01M1517 1091.8h.01M1517.5 1096.7h.01M1521.1 1101h.01M1524.1 1106.4h.01M1525.2 1112.1h.01M1399.1 917.7h.01M1403.1 913.2h.01M1420.1 901.7h.01M1399.4 1034.9h.01M1395 1030.5h.01M1391.7 990h.01M1586.1 842.3h.01M1389.7 1000h.01M1498.1 1124.9h.01M1350.4 1026.9h.01M1451.4 935.4h.01M1323.4 963.8h.01M1322 970h.01M1320.6 974.6h.01M1317.4 979.9h.01M1364.8 866.9h.01M1329.6 1070.4h.01M1342.4 924.4h.01M1343.1 929.9h.01M1416.8 964.9h.01M1419.5 975.5h.01M1418.9 986.6h.01M1420.7 991.2h.01M1374 1126.8h.01M1547.9 919.8h.01M1547.8 913.8h.01M1548.5 908.9h.01M1411.7 853.8h.01M1385.2 935.7h.01M1382.5 926.1h.01M1358.6 1067.5h.01M1538.5 886.6h.01M1539 881.7h.01M1564.6 1013.1h.01M1423.6 846.3h.01M1319.9 983.4h.01M1537 1025.3h.01M1540 1021.7h.01M1536 1016.8h.01M1649.5 969.3h.01M1336.5 939.2h.01M1326.8 935.4h.01M1322.9 938.1h.01M1318.7 942.1h.01M1416.6 990.5h.01M1513.3 870.4h.01M1518.6 870h.01M1383.9 1036.6h.01M1378.9 1035.9h.01M1405.4 982.3h.01M1402.2 985.8h.01M1403.2 990.3h.01M1620.3 986.5h.01M1517.8 1165.9h.01M1522.3 1169.7h.01M1419.7 848.8h.01M1566.2 1022.8h.01M1404 927h.01M1403.5 922.4h.01M1324.6 1075.5h.01M1327 1065.7h.01M1327.5 1060.8h.01M1395.4 1059.3h.01M1513.3 878.7h.01M1518.9 877.9h.01M1340.5 1065.6h.01M1345.2 1065.8h.01M1669.3 963.8h.01M1675.1 955.2h.01M1448.5 958.3h.01M1485.2 1094.4h.01M1479.2 1092.7h.01M1434.7 918.2h.01M1437.8 923.5h.01M1553.6 1136.1h.01M1556.8 1139.8h.01M1507.3 871.9h.01M1464.1 1057.9h.01M1405.3 1084.4h.01M1399.8 1083.6h.01M1536.4 939.3h.01M1551.4 876.6h.01M1441.2 977.6h.01M1583.5 1074.6h.01M1412.5 1159.8h.01M1408.6 1157.3h.01M1513.4 848.6h.01M1496.9 853.1h.01M1491.1 854.5h.01M1485.2 853.5h.01M1490.5 1086.6h.01M1495.1 1083.3h.01M1416.3 850.1h.01M1421 852.3h.01M1636 908.9h.01M1640.3 911.7h.01M1484.6 1122.6h.01M1489.4 1123.2h.01M1515.7 984.9h.01M1531.5 1135.3h.01M1570.5 944.4h.01M1574.4 941.4h.01M1432.5 1017.9h.01M1558.7 878.4h.01M1554.4 880.3h.01M1370.5 1079.1h.01M1438.8 1112h.01M1443.8 1115.1h.01M1483 949.2h.01M1386.3 1050.8h.01M1389.8 1059.5h.01M1386.4 1064.2h.01M1498.1 886.3h.01M1424.9 911h.01M1493.6 976.1h.01M1487.7 975.3h.01M1483.3 971.8h.01M1465.3 863.4h.01M1472.7 981.4h.01M1461 992.9h.01M1455.7 996.2h.01M1469.2 1154.5h.01M1518.1 888h.01M1515.6 883.4h.01M1443 1106.8h.01M1302.4 973.8h.01M1300.5 979.9h.01M1445.1 932h.01M1441.4 927h.01M1460.6 1103.8h.01M1613.2 980.9h.01M1616.1 977.2h.01M1457 888.4h.01M1525.6 974h.01M1588.5 1020.7h.01M1435.4 995h.01M1433.7 999.4h.01M1428.1 1007.3h.01M1420.5 1000.8h.01M1416.5 997.7h.01M1363.7 881h.01M1588.9 953.8h.01M1594.1 953.4h.01M1597 947.9h.01M1434.2 1049.7h.01M1434.3 1055.9h.01M1644.7 1006.1h.01M1415.2 1091.7h.01M1419.2 1095h.01M1418.8 1101.2h.01M1581 1046.5h.01M1582.1 1051.6h.01M1587.4 1052.4h.01M1592.2 1055.3h.01M1343.6 884.1h.01M1348.8 884h.01M1353.7 884.5h.01M1357.7 880.7h.01M1360.8 876.3h.01M1363.1 872.2h.01M1475.1 950.6h.01M1474.7 944.6h.01M1478.2 1110.3h.01M1464.8 1031.1h.01M1500.3 1090.4h.01M1454.3 976h.01M1527.8 1017.5h.01M1594.8 890.5h.01M1592.8 880.2h.01M1538.3 1137.9h.01M1362.5 912.5h.01M1358.6 917.3h.01M1354.6 921.3h.01M1400 1109.3h.01M1468.5 1015.2h.01M1465.8 834.5h.01M1464.7 840.4h.01M1468.4 843.4h.01M1362 1086.6h.01M1404.1 1031.7h.01M1359.7 1111.1h.01M1314.2 988.1h.01M1522.3 1042.7h.01M1389.8 944.9h.01M1387.3 949.5h.01M1533.7 1022.4h.01M1370.9 1137.8h.01M1491.3 1045.8h.01M1477.4 850.3h.01M1471.7 848.8h.01M1643.7 914.6h.01M1641.3 919.7h.01M1606.7 1068.3h.01M1557.7 1042.7h.01M1563.6 1044.3h.01M1569.7 1043h.01M1568.8 1032.8h.01M1564.8 1030.3h.01M1558.5 1030.4h.01M1554 1028h.01M1548.3 1026.7h.01M1543.8 1030.1h.01M1607.5 949.8h.01M1477.3 1139.8h.01M1417.7 1071h.01M1583.6 1024.4h.01M1565.5 1121.4h.01M1604 978.5h.01M1609 978.8h.01M1612.5 974.8h.01M1554.1 1039.4h.01M1552.2 1034.1h.01M1474.4 1131.1h.01M1472.4 1126.9h.01M1475.1 1121.5h.01M1425.5 889h.01M1567.9 928.5h.01M1572.8 927.2h.01M1616.7 896.4h.01M1381.8 1120.1h.01M1540.7 929.4h.01M1544.9 934.2h.01M1442.8 1095.5h.01M1439.9 1105.7h.01M1423.1 1051.8h.01M1579.7 1092h.01M1540.5 1152h.01M1525.9 1152.6h.01M1430.7 971h.01M1435.6 970.1h.01M1441 968.7h.01M1439 963.9h.01M1375.6 1046.8h.01M1380.2 1045.3h.01M1391.6 1137.2h.01M1392.2 1132h.01M1463.1 1093.5h.01M1457.3 1095.2h.01M1615.1 945.8h.01M1372.4 1089.5h.01M1378.4 1091.2h.01M1383.3 1094.7h.01M1387.4 1096.7h.01M1393.4 1096.8h.01M1399.5 1097.7h.01M1405.7 1097.5h.01M1624.6 954.7h.01M1423.7 1141.2h.01M1434.2 1138h.01M1438 1135.1h.01M1466.2 1034.5h.01M1510.5 1173h.01M1326.1 960.1h.01M1585.2 853.3h.01M1420.6 1123.1h.01M1364.7 1080.5h.01M1426.3 859.8h.01M1525.9 982.2h.01M1481.1 1020.6h.01M1318.7 1020.6h.01M1350.9 971.9h.01M1353.6 966.4h.01M1466 1101.5h.01M1617.8 916.8h.01M1369.4 962.1h.01M1495.1 1067h.01M1539.7 838h.01M1544.3 837.5h.01M1547.5 833.4h.01M1549.3 828.3h.01M1498 1167.7h.01M1494.5 1171.8h.01M1484.6 1175.6h.01M1620.5 873.9h.01M1624.9 871.7h.01M1629.5 867.4h.01M1538.4 1055.9h.01M1543.8 1058.6h.01M1456.5 1126.5h.01M1459 1083.6h.01M1546.4 973.3h.01M1547 978.8h.01M1545.2 983.9h.01M1518.4 936.6h.01M1553 850.2h.01M1568.8 1095.9h.01M1565.4 1090.8h.01M1441 1069.5h.01M1350.1 908.9h.01M1349.4 903h.01M1312.8 968.2h.01M1312.3 973h.01M1463.5 1003.5h.01M1446.8 1015.2h.01M1331.6 1081.3h.01M1331.6 1086.4h.01M1510.5 1100.8h.01M1507.6 1105.8h.01M1411.8 887.5h.01M1301.7 1053.7h.01M1301.8 1047.5h.01M1363.3 894.3h.01M1431.3 850.4h.01M1505.2 866.5h.01M1526.3 873.8h.01M1532.4 872.1h.01M1472.5 1072.3h.01M1569.1 898.6h.01M1636.6 940.5h.01M1581.3 925.6h.01M1577.3 923.1h.01M1572.6 923.1h.01M1442.2 851.2h.01M1444.1 857.1h.01M1405.1 1074.2h.01M1563.3 951.6h.01M1410.8 924h.01M1396.2 982.5h.01M1394.5 988.1h.01M1416.6 1122.9h.01M1481.1 881.5h.01M1506.3 892.4h.01M1448 1167.2h.01M1577.3 1002.9h.01M1345 977.4h.01M1597.7 856.4h.01M1604 855.9h.01M1595.5 1018.7h.01M1600.6 1020.2h.01M1305 928.3h.01M1548.9 937h.01M1308.9 1040.4h.01M1570.6 965.2h.01M1581.5 1089.3h.01M1570.6 974.9h.01M1653.3 971.6h.01M1587.9 1010.4h.01M1401.5 936.8h.01M1382 975.2h.01M1454.6 1058.4h.01M1512 1156.6h.01M1509.1 1151.2h.01M1506.6 1147h.01M1420.6 1149.5h.01M1328.2 952.8h.01M1386.6 1135.3h.01M1371.1 1029.4h.01M1437.6 954.9h.01M1512.9 1024h.01M1308.4 1031h.01M1510.2 854.2h.01M1512.4 858.8h.01M1510.9 863.9h.01M1633.3 904.8h.01M1636.8 901h.01M1403.4 1119.5h.01M1398.4 1119.9h.01M1557.7 955.9h.01M1558.7 950.5h.01M1607.5 1023.5h.01M1606.9 1018.6h.01M1611.3 1016.5h.01M1616.5 1013.9h.01M1627.6 1010.3h.01M1631.8 1013.6h.01M1420.2 922.7h.01M1592.4 1041.9h.01M1565.3 1133.9h.01M1451.9 982.2h.01M1456.6 982.7h.01M1462.1 983.8h.01M1504.1 1121.1h.01M1506.5 1110.1h.01M1432.8 1099.5h.01M1437.4 1097.1h.01M1561.9 964.2h.01M1667.9 971h.01M1324.1 1058.2h.01M1329.5 1056.1h.01M1573.3 931.8h.01M1437 1082.4h.01M1537.1 1002.5h.01M1577.1 989.4h.01M1572.5 990.2h.01M1518.5 852.9h.01M1357.8 1023.7h.01M1549.1 1080h.01M1581.4 902.1h.01M1379.4 1083.6h.01M1532.2 845.1h.01M1430.5 1093.5h.01M1350.1 1006.8h.01M1497.5 953.6h.01M1382.1 865.6h.01M1451 1002.6h.01M1580.3 991.5h.01M1575.8 993.7h.01M1570.2 995.1h.01M1564.9 985.7h.01M1355.7 1063.8h.01M1467.7 892.7h.01M1410.8 981.1h.01M1492.2 832.6h.01M1644.3 943.8h.01M1605.2 1061h.01M1607.3 1056.1h.01M1610.9 1053h.01M1632.1 964.5h.01M1636.5 960.9h.01M1510.8 1167.3h.01M1504.9 1166.8h.01M1474.2 1068h.01M1483.3 1073.9h.01M1444.4 1141.6h.01M1450 1143.5h.01M1477.4 901.1h.01M1603.1 932.3h.01M1457.2 859.3h.01M1448.7 865.5h.01M1423.4 976.3h.01M1444.3 984.7h.01M1501.6 1024.5h.01M1504 1030.3h.01M1500 1034.8h.01M1613.6 894.5h.01M1616.9 890.2h.01M1556.4 1110.1h.01M1410.7 1056.2h.01M1301.7 1015.6h.01M1540.9 1025.8h.01M1536.1 907.7h.01M1541.2 911.1h.01M1534.9 1120h.01M1536.6 1126.1h.01M1541.2 1129.3h.01M1545.6 1132.5h.01M1424.2 919.9h.01M1634.5 996.9h.01M1547.5 845.7h.01M1412.8 1148.8h.01M1330.5 1049.8h.01M1478.5 909.9h.01M1466.5 908.9h.01M1461.9 906.9h.01M1499.2 940h.01M1608 1031.4h.01M1398.9 1002.9h.01M1639.7 947.6h.01M1479 1098.6h.01M1511 923.5h.01M1363.2 1049.9h.01M1471.4 1084.7h.01M1476.4 1075.4h.01M1440.7 1169.3h.01M1497.8 1071.6h.01M1464.3 955.1h.01M1468.4 959.9h.01M1472.4 964h.01M1365.1 1107.4h.01M1495.4 814.1h.01M1489.2 815.3h.01M1484.2 813.7h.01M1498.7 1163h.01M1502 1158.2h.01M1505.3 1154.3h.01M1456.8 1110.4h.01M1491.3 809h.01M1643.2 980.8h.01M1580.6 1040.8h.01M1663.9 952.2h.01M1427.3 971.6h.01M1315.7 912.5h.01M1310.4 912.8h.01M1617.1 970.7h.01M1322.8 946.6h.01M1325.1 908.2h.01M1326.8 902.6h.01M1323.5 892.6h.01M1314.7 880.5h.01M1520.2 1047.1h.01M1522.5 1057h.01M1387.7 1119.9h.01M1551.3 882.8h.01M1483.5 1140.1h.01M1486.7 1145.4h.01M1557.7 861.6h.01M1352.2 1080.4h.01M1651.4 978.7h.01M1656 976.8h.01M1568 959.1h.01M1572.1 956.2h.01M1571.5 950.4h.01M1530.4 827.6h.01M1535.6 831.2h.01M1453 966h.01M1393.5 1022.4h.01M1450.3 925.6h.01M1443.7 915.1h.01M1393.2 935.3h.01M1338.2 1042.8h.01M1339.4 1048.7h.01M1446.8 1158.6h.01M1551.3 1126.4h.01M1343.2 1079h.01M1519.4 832.4h.01M1435 988.8h.01M1479.6 1114.1h.01M1623.8 1037.4h.01M1485.8 1038.2h.01M1609.1 858.1h.01M1542.3 1053.2h.01M1514.2 1115.5h.01M1402.2 1037.1h.01M1540 1158.8h.01M1517.3 910.1h.01M1521.7 847.7h.01M1366.1 1038.7h.01M1581 891.5h.01M1588.3 1015.7h.01M1482.5 1078.1h.01M1381.7 882.9h.01M1426.2 928.6h.01M1419.8 926.1h.01M1440.3 1052.3h.01M1634.2 950.7h.01M1461.2 1168.3h.01M1464.4 1163.6h.01M1433.2 864.4h.01M1630.4 883.3h.01M1626.8 887.7h.01M1625.7 893.8h.01M1569.9 1079.7h.01M1575.2 1076.1h.01M1407.2 1153.5h.01M1492.6 865.6h.01M1494.9 870.8h.01M1621.7 1001.4h.01M1525.2 1034.2h.01M1525.7 1028.5h.01M1484.8 938.5h.01M1457.5 1138h.01M1609.7 896.8h.01M1473.8 1175.2h.01M1459.3 851.3h.01M1491.5 1016.1h.01M1596 1086.9h.01M1590.1 1085.5h.01M1585.6 1083.1h.01M1575.4 1080.9h.01M1505.5 1080.1h.01M1501.1 1078h.01M1491.8 1117.4h.01M1447.3 1079.3h.01M1440.9 950.1h.01M1499.2 1119.9h.01M1471.6 977.9h.01M1466.4 978h.01M1460.3 964h.01M1456.4 961h.01M1378.4 1017.4h.01M1339.1 925.5h.01M1372.6 905.4h.01M1457.4 1011.7h.01M1482.8 1163.6h.01M1627.1 897.4h.01M1399.4 925h.01M1360.5 930.6h.01M1471.4 944.4h.01M1483.6 907.5h.01M1376.8 1010h.01M1365.1 1028.8h.01M1353.7 1028.7h.01M1444.2 950.1h.01M1488.4 1062.4h.01M1538 1116.5h.01M1538.4 1121.4h.01M1583.9 1110.8h.01M1467.8 1120.3h.01M1442.1 1173.4h.01M1311.4 963.4h.01M1480.6 1101.7h.01M1489.9 1098.8h.01M1495.9 1100.6h.01M1499.4 1106h.01M1502.4 1110.6h.01M1501 950.7h.01M1569.5 1014.8h.01M1543.1 1062.7h.01M1538.4 1059.6h.01M1534.4 1055.9h.01M1531.8 1050.1h.01M1526.3 1048h.01M1482.2 1153.6h.01M1519.8 1094.2h.01M1525.4 1091.2h.01M1404 1068.2h.01M1524 1149.8h.01M1523.7 1144.4h.01M1529.1 1064h.01M1543.6 884.7h.01M1585.2 1079.5h.01M1478.2 1158.2h.01M1435.8 938.4h.01M1630.8 949.6h.01M1536.7 1101.8h.01M1399.1 1130.7h.01M1394.6 1129.2h.01M1443.3 993.1h.01M1384.2 918.9h.01M1509.2 1087.2h.01M1511.5 1091.4h.01M1512.8 1097.2h.01M1451.2 1088.8h.01M1419.1 1138.4h.01M1424 1134.3h.01M1425.8 1129.6h.01M1426.7 1124.8h.01M1316.5 962.1h.01M1312.2 952.5h.01M1477.8 957.7h.01M1565.2 1125.2h.01M1500.3 965.2h.01M1492.9 963.8h.01M1487.4 963h.01M1482.3 962.9h.01M1477.5 964.2h.01M1498.7 834.4h.01M1585.7 1091.1h.01M1532.5 953.7h.01M1520.6 943.5h.01M1470.9 999.2h.01M1471.1 992.9h.01M1643.4 932.5h.01M1480.5 827.8h.01M1476.9 824.3h.01M1398.7 999.4h.01M1517.3 1176.3h.01M1596.1 1070.5h.01M1502.7 978.4h.01M1304.9 987.6h.01M1311.1 989.1h.01M1542.1 936.5h.01M1631.5 874.1h.01M1417.9 1167.1h.01M1487.2 1172.1h.01M1593.5 965h.01M1456.1 837.2h.01M1522.9 1037.8h.01M1551.1 892.4h.01M1586.1 1094.6h.01M1375.9 859.5h.01M1387.5 1072.8h.01M1387.5 1078.1h.01M1337.8 1063.7h.01M1619 954.9h.01M1605 1047.5h.01M1436.5 1086.3h.01M1408.7 947.9h.01M1373.5 876.4h.01M1309.1 937.5h.01M1505.5 1072.9h.01M1350.6 1047.4h.01M1352.5 1053h.01M1412.7 905.2h.01M1407.9 907.7h.01M1403.2 906.6h.01M1627.2 927.2h.01M1627.1 922.2h.01M1569.1 914.3h.01M1564.9 912h.01M1388.4 1043h.01M1427.2 937.7h.01M1602.9 1104.1h.01M1603.8 1010.1h.01M1388 1109.5h.01M1371.6 1071.4h.01M1369.3 1075.5h.01M1381.9 1152.4h.01M1489.5 981.5h.01M1494 985.9h.01M1499.1 987.5h.01M1571.9 1091.1h.01M1464 1128.7h.01M1490.1 1025.3h.01M1486.6 863.8h.01M1615.5 905.4h.01M1620 907.2h.01M1645.2 919.5h.01M1391.9 1038.7h.01M1523.7 1081.6h.01M1479.2 1085.7h.01M1414.2 1120h.01M1432.9 1008.7h.01M1555.4 1083.4h.01M1552.9 1088.8h.01M1483 835.2h.01M1377.9 892.1h.01M1387.5 1014h.01M1572 848.5h.01M1546.4 1128.8h.01M1500.7 1127.3h.01M1392 1033.3h.01M1451.9 889.6h.01M1452.7 884.3h.01M1451.3 878.1h.01M1507 1015.8h.01M1502.3 1015.8h.01M1499.7 1010.3h.01M1367.3 1024.4h.01M1640.3 973.3h.01M1425.6 967.7h.01M1635.2 923.3h.01M1509.7 1032.8h.01M1506.1 1042.1h.01M1504.9 1037.2h.01M1424.2 983.3h.01M1427.4 987.9h.01M1591.4 1011.7h.01M1372.2 926.8h.01M1319.4 1058.3h.01M1551.9 922.9h.01M1628 981.2h.01M1502.2 898.8h.01M1435.1 828.2h.01M1439.1 831.4h.01M1466.6 1167.7h.01M1472.8 1169.1h.01M1478.7 1171.4h.01M1529.7 997.5h.01M1522.8 828.9h.01M1585.2 956.2h.01M1344.6 962.5h.01M1345.7 967.2h.01M1461.3 881.2h.01M1458.8 876.5h.01M1646.3 970.8h.01M1588.2 1075h.01M1427.7 1161.2h.01M1423.3 1158.2h.01M1422.2 1152.5h.01M1421.4 1146.2h.01M1322.6 926.1h.01M1465.1 958.7h.01M1557.7 970.7h.01M1611.7 1064.6h.01M1459.2 1046h.01M1332.9 1095h.01M1341.5 1069.1h.01M1499.1 872.1h.01M1564.1 874.6h.01M1579 942.9h.01M1550.9 852.7h.01M1583.1 912.6h.01M1486 1067.8h.01M1363.4 1125.1h.01M1368.3 1125.8h.01M1408.9 1138.4h.01M1647 1000.5h.01M1552.5 964.7h.01M1447.1 998h.01M1319.7 952.2h.01M1606.2 1026.9h.01M1336.9 971.3h.01M1342.1 968.3h.01M1625.9 874.8h.01M1516.3 948.4h.01M1380.5 1058.2h.01M1615.8 1017.6h.01M1528.6 1166.3h.01M1525.5 1161.4h.01M1520.5 1159.8h.01M1515.9 1155.5h.01M1487.9 1088.6h.01M1350.9 1023.3h.01M1339.8 1021.7h.01M1334.3 1024.7h.01M1518 980.2h.01M1622.1 974.3h.01M1622.7 978.9h.01M1555.5 1098.7h.01M1475.3 1096.5h.01M1470.2 1105.8h.01M1313.7 1048.9h.01M1316.7 1053.5h.01M1392.1 1011.8h.01M1418 1146.2h.01M1629.9 925h.01M1630.7 930.2h.01M1633.1 939.5h.01M1634.7 943.9h.01M1395.6 915.3h.01M1597.3 898.9h.01M1601.7 895.2h.01M1498.8 1048.8h.01M1517.2 1085.2h.01M1532.3 989h.01M1459.1 1090h.01M1463.3 1086.2h.01M1465.1 1080.9h.01M1426.4 1155.7h.01M1313.6 1065.3h.01M1458.9 1027.9h.01M1361.6 1076.7h.01M1475.2 1112.7h.01M1473 1107.5h.01M1470.9 1102.5h.01M1470.1 1097.6h.01M1465.9 1095.1h.01M1545 902.7h.01M1501.7 821.5h.01M1315.1 983.3h.01M1526.9 1156.1h.01M1517.8 933.4h.01M1516.3 928h.01M1440.3 1165.9h.01M1545.5 1019.4h.01M1442.1 1032.2h.01M1577 1019.2h.01M1538.7 1047.9h.01M1457.9 909.6h.01M1305.6 1018.6h.01M1572 982.5h.01M1334.6 897h.01M1332.9 891.5h.01M1313.8 1009.2h.01M1553.4 1022h.01M1362.5 984.4h.01M1398.7 1158.3h.01M1387.7 1148.3h.01M1596.5 1038.3h.01M1341.3 962.1h.01M1513.1 1018.3h.01M1484.9 976.9h.01M1480.1 978.6h.01M1316.9 1017.7h.01M1609.6 958.3h.01M1604.3 958.1h.01M1548.4 927.4h.01M1597.5 1091.9h.01M1392.5 877.7h.01M1431.6 884.9h.01M1431 896.4h.01M1454.7 979.4h.01M1551.6 1096.5h.01M1406.3 1131.3h.01M1500.9 914.9h.01M1517 1029.5h.01M1514.9 1034.1h.01M1504.8 1058.1h.01M1507.1 1053.9h.01M1561.1 1072h.01M1600.4 977.2h.01M1518.3 1107.6h.01M1512.8 1047.6h.01M1514.9 1052h.01M1464.8 1090.8h.01M1485.1 1028.8h.01M1545.4 956.9h.01M1541.4 978.1h.01M1304.4 923.1h.01M1623.5 994.7h.01M1399.4 941.6h.01M1401.6 946.5h.01M1396.9 950.3h.01M1571.2 1114.8h.01M1606.9 1038.3h.01M1602 1039.3h.01M1493 951.3h.01M1555.5 929.2h.01M1563.1 891.4h.01M1563.1 885h.01M1566.3 879.5h.01M1513.1 926.1h.01M1467 921.1h.01M1469.7 931.1h.01M1513.9 1128.2h.01M1454.9 926.1h.01M1593.6 851.4h.01M1368.3 954.4h.01M1325.8 1040.2h.01M1321.3 1042.2h.01M1545.7 1070h.01M1303.2 945.6h.01M1474 826.2h.01M1572.8 881.9h.01M1574.9 876.2h.01M1575.9 870.7h.01M1580.6 1026.5h.01M1362.2 937.5h.01M1590.5 893h.01M1588.8 897.9h.01M1588.3 903.6h.01M1584.2 907.2h.01M1455.7 1084.7h.01M1441 1091.4h.01M1532.6 865.5h.01M1311 1044.4h.01M1378.3 932.4h.01M1490 1137.4h.01M1340.4 1060.4h.01M1607.3 1051.1h.01M1544.4 1141.4h.01M1503.7 841.8h.01M1507.9 837.8h.01M1589 947h.01M1582.7 946.9h.01M1524 1010.9h.01M1399.9 1151.8h.01M1413.3 929h.01M1580.3 885.3h.01M1438.9 987.9h.01M1320.4 1004.3h.01M1571.8 1124.9h.01M1348.3 887.5h.01M1523.8 836.2h.01M1517.7 1005.3h.01M1467.9 1144.3h.01M1398.1 1123.9h.01M1393.5 1126.1h.01M1392.3 1109.4h.01M1579.5 1109.4h.01M1356.3 870.1h.01M1640.7 929.7h.01M1397.6 970.9h.01M1394.7 966.9h.01M1585.4 902.2h.01M1557.8 1017h.01M1587.4 967.7h.01M1597.4 967.3h.01M1372.3 930.5h.01M1367.7 927h.01M1362.9 923.5h.01M1453.3 915.8h.01M1454.6 921.2h.01M1458.4 1062h.01M1601.4 861.2h.01M1396.8 877.9h.01M1508.3 905h.01M1511.9 909.2h.01M1497.9 1096.7h.01M1506 1098.6h.01M1421.2 944h.01M1598.9 963.8h.01M1329.3 979.9h.01M1316.6 970.9h.01M1358.2 921.1h.01M1471.9 1065.8h.01M1474.8 1060.2h.01M1657 953.6h.01M1522.9 1062.9h.01M1418.2 1066.8h.01M1418.1 1060.6h.01M1500.4 1027.9h.01M1452.4 1139.2h.01M1453.7 1144.9h.01M1455.6 1150.3h.01M1374.5 987.4h.01M1495.6 931.6h.01M1490.7 1091.9h.01M1630.6 976.6h.01M1660.8 968.6h.01M1648 984.9h.01M1652.3 987.1h.01M1560.4 999.4h.01M1565.3 1000.5h.01M1487.6 1150h.01M1481.9 1149.3h.01M1577.3 1102.5h.01M1474.3 940h.01M1547.4 1046.1h.01M1508.5 809.1h.01M1509.6 813.6h.01M1577.7 999.1h.01M1413 1018.8h.01M1384.2 1044.1h.01M1523.3 885.1h.01M1626.5 965.5h.01M1447.3 1118.2h.01M1528.9 929.1h.01M1380 1001.1h.01M1559.7 902.3h.01M1561 896.7h.01M1570.7 842.7h.01M1587.5 987h.01M1579 981.9h.01M1481.8 1110.7h.01M1539.8 1005.3h.01M1392.8 1006.8h.01M1475.1 1092.5h.01M1453.2 1118.1h.01M1520.4 985.4h.01M1446.6 821.3h.01M1414.9 855.7h.01M1410 858.3h.01M1328.3 908.8h.01M1510.3 1058.6h.01M1335.4 946.9h.01M1407.2 868.1h.01M1509.1 825.7h.01M1591.8 985.3h.01M1590 979.6h.01M1453.6 1163.3h.01M1319.7 1011.9h.01M1377.4 1060.3h.01M1331.1 938.9h.01M1567.3 1112.2h.01M1437.9 1154.8h.01M1565.3 1047.7h.01M1582.9 844.3h.01M1426.6 1148.5h.01M1609.6 912.8h.01M1592.2 946.8h.01M1453.8 826.1h.01M1451.7 822h.01M1451.5 901.9h.01M1601.9 872.6h.01M1508.5 901.6h.01M1428.4 951.2h.01M1329.1 1052.8h.01M1453.5 1096.3h.01M1449.2 1092.4h.01M1556.2 919.9h.01M1461 1126.1h.01M1611.1 1070.4h.01M1416.2 909.9h.01M1352.5 1106.2h.01M1442.6 1076.6h.01M1463.6 995.4h.01M1460.6 999h.01M1569.5 933.1h.01M1566.2 936.4h.01M1561.9 941.1h.01M1565.8 982.3h.01M1580.7 1030.8h.01M1446.8 976.9h.01M1579.7 1057.8h.01M1358.2 1080.1h.01M1329.1 932.6h.01M1582.7 939.3h.01M1332.9 907.4h.01M1531.2 906.2h.01M1525.6 904.7h.01M1515.5 906.5h.01M1633.2 867h.01M1399.6 1079h.01M1566.8 889h.01M1391.5 1142.8h.01M1387.5 1140.5h.01M1560.3 1052.4h.01M1573.4 1128.4h.01M1567.6 1129.1h.01M1302.1 967.3h.01M1304 956.1h.01M1489.9 910.2h.01M1592.3 1060.6h.01M1588.5 1056.3h.01M1577.8 1053.1h.01M1572.5 1053h.01M1435.4 1108.6h.01M1431.3 1104.9h.01M1539.3 1088.7h.01M1594.8 869.5h.01M1597.9 873.6h.01M1576.9 969.2h.01M1574.1 974.8h.01M1383.6 1055.2h.01M1374.4 1053.6h.01M1369.2 1055.3h.01M1403.5 1143.7h.01M1398.5 1143.1h.01M1486.3 1009h.01M1494.1 1095.3h.01M1430.3 888h.01M1436.3 1115.6h.01M1371.2 936.7h.01M1427.8 1083.4h.01M1426.5 1077.7h.01M1421.7 1075.3h.01M1615.4 910.6h.01M1456 989.5h.01M1475.9 1102.5h.01M1314.7 908.4h.01M1607 883.9h.01M1612.3 881.7h.01M1419 917.2h.01M1316.3 1057.1h.01M1431 1118.2h.01M1390.4 904.1h.01M1507.1 976.2h.01M1457 848.5h.01M1451.8 845.9h.01M1468.4 861.8h.01M1469 954.5h.01M1487.6 997.6h.01M1526.2 1101.3h.01M1528.1 1106.1h.01M1532.1 1109.3h.01M1401.9 1060.2h.01M1416.1 1050h.01M1419.2 1054.8h.01M1391.7 982.1h.01M1453.4 899.3h.01M1508.2 881.9h.01M1529.4 940.3h.01M1526 944.7h.01M1437.8 1093.8h.01M1467.9 826.2h.01M1298.6 963.2h.01M1328.6 885.1h.01M1429.3 1122h.01M1516.3 1023.9h.01M1408.8 903.1h.01M1597.5 975.7h.01M1398 1071.9h.01M1596.7 972.5h.01M1498.3 1059.7h.01M1511 1161.7h.01M1552.2 1103.2h.01M1548.1 1107.4h.01M1528.4 914.4h.01M1530.7 1093.8h.01M1635.7 1018.3h.01M1639.2 1014.7h.01M1641.2 886.2h.01M1348.3 998.5h.01M1411 1082.1h.01M1414.3 948.3h.01M1555.2 873.5h.01M1550.7 870.2h.01M1547.2 859.8h.01M1544.3 855.6h.01M1339.6 1029.5h.01M1379 863.2h.01M1467.4 1108.2h.01M1467.6 1027.5h.01M1468.7 1022.3h.01M1391.1 1161.2h.01M1381.5 1143.2h.01M1439 1151.1h.01M1576.8 890.8h.01M1576.1 895.4h.01M1431.2 1108.3h.01M1512.6 1151.3h.01M1470.7 898.3h.01M1373.1 1114.2h.01M1377.4 1122.9h.01M1531.1 948h.01M1394.4 1089.4h.01M1398.7 1087.6h.01M1619.1 1005.6h.01M1624.5 1008.6h.01M1425.3 1045.8h.01M1478 1127.9h.01M1483.7 1128.3h.01M1488.9 1128.3h.01M1492.9 1124h.01M1493.8 1031.4h.01M1495.3 1036.4h.01M1490.4 889h.01M1566 1053.9h.01M1445.3 912h.01M1587.3 910.5h.01M1385 1087h.01M1389.3 1084.8h.01M1399.4 1051.8h.01M1445.6 1174.3h.01M1542.1 831.8h.01M1620.1 881.4h.01M1457.6 1122.9h.01M1372.1 951.1h.01M1501.7 1177.5h.01M1322.4 1036.5h.01M1327.3 1032.7h.01M1484.5 838.3h.01M1487.6 834.8h.01M1583.9 920.2h.01M1590.2 965.7h.01M1299.7 919h.01M1462.2 923.1h.01M1459.4 928.1h.01M1462.8 932.8h.01M1461 938h.01M1461.3 943.3h.01M1408.4 1125.1h.01M1449.8 1163.6h.01M1609.5 853h.01M1481.7 955.7h.01M1587.7 1029.3h.01M1592.1 1026.9h.01M1594 1022h.01M1496.2 1103.8h.01M1488.8 954.3h.01M1559.8 1132.6h.01M1589.7 866.1h.01M1540.9 1142h.01M1583.1 932.3h.01M1368.9 1016.6h.01M1525.9 1042.3h.01M1493 849.8h.01M1482.9 846.7h.01M1519.7 989.8h.01M1377.8 882.5h.01M1540.1 1012.7h.01M1437.9 1063.2h.01M1556.6 989.1h.01M1560 985.7h.01M1515.9 1143.8h.01M1510 1145.4h.01M1417.9 1153.5h.01M1429.9 908.8h.01M1450.5 1133h.01M1446 1136.1h.01M1374.4 1105.4h.01M1477.9 913.8h.01M1368.5 1007.1h.01M1476.7 1043.9h.01M1609 1062.7h.01M1378.3 1078h.01M1296.3 934.8h.01M1525.3 999.3h.01M1402.8 966h.01M1663.6 995.1h.01M1513.2 903.7h.01M1559.8 890.8h.01M1616.8 940.2h.01M1611.8 939.6h.01M1600.3 928.2h.01M1471.2 986h.01M1477.1 986.8h.01M1397.9 957.6h.01M1393.6 960.7h.01M1410.5 1024h.01M1465.4 1012.8h.01M1440.7 1142.9h.01M1436.8 1146.1h.01M1524.3 1023h.01M1520.6 1019.5h.01M1596.9 1065.3h.01M1340.8 980.1h.01M1442 945.3h.01M1332.6 1074.4h.01M1375.2 1111.4h.01M1556.9 1071.2h.01M1577.4 1118.6h.01M1586.6 993.5h.01M1533 1158.6h.01M1564.5 849.5h.01M1599.9 1035.5h.01M1596.7 1025h.01M1331.1 911.9h.01M1595.1 989h.01M1410 898.4h.01M1473.7 955.1h.01M1645.6 902.2h.01M1644.4 907.2h.01M1560.5 1046h.01M1637.2 967.4h.01M1422.6 1168.5h.01M1481.3 839.2h.01M1491.3 1035.9h.01M1489 1030.4h.01M1426.3 1103h.01M1383.2 958.8h.01M1370.6 985.1h.01M1464.1 973.2h.01M1468.9 971.6h.01M1474.1 968.7h.01M1418.7 1013.1h.01M1652.6 947h.01M1657.3 946.8h.01M1663.6 945.9h.01M1669 942.6h.01M1613.3 877.8h.01M1469.6 1089.2h.01M1389.6 1105.7h.01M1342.6 998.5h.01M1344.8 993.7h.01M1520.4 861.9h.01M1386.4 888.3h.01M1300.7 1026.1h.01M1302.8 1021.3h.01M1516.4 1011.8h.01M1511.3 1119.8h.01M1533.8 1152.6h.01M1445.4 1060h.01M1444.7 1050.7h.01M1345.6 907.6h.01M1561.7 915.1h.01M1557.4 1012.7h.01M1542.6 1085.6h.01M1601.2 867.4h.01M1581.3 860.4h.01M1398.7 1031.2h.01M1319.9 996.4h.01M1381.6 944h.01M1385.6 877.9h.01M1582.9 973.8h.01M1531.6 1125.5h.01M1528.9 1130h.01M1346.2 971.9h.01M1569.8 1021.3h.01M1548.3 1088.9h.01M1372.9 980.6h.01M1353.6 945.5h.01M1587.1 1104.5h.01M1588.7 1108.9h.01M1497 960.4h.01M1481.4 1135.8h.01M1638.5 964h.01M1561.3 992.9h.01M1474.2 1007.2h.01M1549.4 1076.4h.01M1551.4 1107.5h.01M1393.9 978.1h.01M1422.8 1080.6h.01M1551.9 1113.4h.01M1433.9 868.2h.01M1471.5 951.1h.01M1618.3 927.1h.01M1614.7 931.7h.01M1394.4 897.6h.01M1541.3 845.4h.01M1352.3 1091h.01M1405.1 893.7h.01M1579.3 939.7h.01M1607.1 1077.7h.01M1601.2 1076.4h.01M1596.1 1076.6h.01M1400.5 992.6h.01M1577.9 860.1h.01M1455 1102.1h.01M1562.1 1116.3h.01M1558.4 1112.7h.01M1591 861.5h.01M1586.6 863.6h.01M1565.7 870.2h.01M1493.2 979.6h.01M1608.3 984.5h.01M1470.4 1178.1h.01M1427.9 1105.9h.01M1489.9 1159.3h.01M1495.1 1162h.01M1410.6 1110.4h.01M1416.6 1108.6h.01M1327 965.1h.01M1505.8 1172.1h.01M1458.5 844.1h.01M1574.3 987.2h.01M1486.1 1002.6h.01M1394.3 1071.1h.01M1321.1 1026.7h.01M1462.3 892.4h.01M1663.8 986.2h.01M1659.2 983.5h.01M1497 1134h.01M1498.5 1068.4h.01M1459.2 1151.4h.01M1463.5 1111h.01M1520.6 908.4h.01M1346.2 918.5h.01M1307.8 997.8h.01M1478.9 1038.3h.01M1566.1 1027.3h.01M1451.8 1069.7h.01M1450.1 1075.6h.01M1542.5 859.7h.01M1544.5 864h.01M1332.1 998.4h.01M1398.8 900.5h.01M1403.9 898.4h.01M1550.6 1060.9h.01M1366.5 994h.01M1372.3 916.8h.01M1362.2 887.4h.01M1602.4 1086.4h.01M1427.2 1012.8h.01M1412.4 1049.5h.01M1520.9 1135.4h.01M1494.6 824h.01M1489.2 825.1h.01M1389.3 976.8h.01M1428.6 1065.5h.01M1392.6 1046.2h.01M1419.7 1033h.01M1475.7 930.3h.01M1551 1083.3h.01M1569.3 1102h.01M1571.5 1107.7h.01M1344.1 892.1h.01M1608.5 1043.5h.01M1519.3 899.1h.01M1636.6 917.3h.01M1462.5 1152.8h.01M1530.7 1067.8h.01M1534.2 1064.5h.01M1313.2 1005.8h.01M1316.6 965.7h.01M1625.8 1033.3h.01M1397.4 1113h.01M1547.5 1053.2h.01M1517.8 1151.7h.01M1456.1 1171.7h.01M1483.5 826.2h.01M1547.1 992.4h.01M1511.6 940.4h.01M1388.7 970.6h.01M1459.1 904.3h.01M1370.6 1085.6h.01M1385.5 893.3h.01M1390.2 893.1h.01M1369.8 1000.3h.01M1365.3 1003h.01M1435.7 1149.9h.01M1473.8 1149h.01M1472.3 1153.4h.01M1411 971.7h.01M1661.8 942h.01M1510.7 1075.6h.01M1381.9 1090.2h.01M1385.3 1154.1h.01M1360.7 1072h.01M1514.6 822.3h.01M1516.5 826.8h.01M1642.2 1010.6h.01M1637 1011.9h.01M1398.2 1025.9h.01M1499.4 1019.6h.01M1366.2 1070.8h.01M1659.5 987.1h.01M1607.1 864.9h.01M1612.1 864.1h.01M1516.8 959.9h.01M1396.7 1151h.01M1525.2 933.1h.01M1521.6 928.5h.01M1499.6 1055.8h.01M1482.4 1083.4h.01M1301.3 905.7h.01M1420.2 859.6h.01M1319.9 963.4h.01M1571.8 1008.7h.01M1531.9 1082.3h.01M1450.3 944.9h.01M1565.8 1016.1h.01M1523 877.6h.01M1447.3 846.8h.01M1301.7 896.9h.01M1375.8 1141.3h.01M1371.1 1144.7h.01M1327.2 993.4h.01M1517.7 956.8h.01M1508.1 1163.3h.01M1475 1165.2h.01M1491.3 1167.9h.01M1634.9 876.6h.01M1589.7 1070.7h.01M1527.5 1070.8h.01M1542 989.7h.01M1668.6 974.6h.01M1426.4 883.4h.01M1475.2 1087.9h.01M1589.1 852.3h.01M1419.8 1161.7h.01M1325.4 1025.1h.01M1339.2 1081.3h.01M1464.2 945.1h.01M1586.2 878.3h.01M1526.7 853.9h.01M1451.3 1172h.01M1515.8 1045.7h.01M1512.7 1041.9h.01M1547.9 1032.9h.01M1309.5 924h.01M1314.8 924.7h.01M1432.8 1013.4h.01M1587.1 1064.3h.01M1587.3 1059.7h.01M1533.5 913.2h.01M1338.7 1039.6h.01M1344.6 1040.4h.01M1348.7 1043.2h.01M1521.9 839.8h.01M1552.7 968.1h.01M1603.7 970.5h.01M1462.6 824.3h.01M1366.4 966.7h.01M1522.9 1087.8h.01M1529.1 1141.7h.01M1420.2 1142.7h.01M1529.2 1078.3h.01M1591.5 912.7h.01M1397 1054.7h.01M1527.4 1087.2h.01M1359.3 1000.9h.01M1409.6 1086.5h.01M1411.7 1092.4h.01M1330.9 903.8h.01M1497.4 971.5h.01M1476.4 996.1h.01M1450.6 954.9h.01M1571.3 1061.4h.01M1367.4 1111.1h.01M1604.1 950.3h.01M1539.8 984.7h.01M1511 1001.6h.01M1576.5 1091.3h.01M1574.4 1085.8h.01M1591.7 1076h.01M1407.2 919.6h.01M1548.5 848.9h.01M1582.8 993.9h.01M1530.9 900.8h.01M1602.4 1053.9h.01M1378.4 1102.3h.01M1501.9 1151.3h.01M1375.2 1136.9h.01M1379.5 1134.3h.01M1385.2 1132.2h.01M1387.2 1127.5h.01M1638.2 1004.2h.01M1648.6 1010.7h.01M1650.7 1005.3h.01M1653.8 1001.4h.01M1490.4 1074.9h.01M1469.6 882.7h.01M1409.1 928.1h.01M1557.6 940h.01M1658.8 995h.01M1489.2 1071.2h.01M1467.8 1091.9h.01M1656.1 938.3h.01M1375.8 1028.9h.01M1415 916.9h.01M1486 844.6h.01M1302.2 1037.4h.01M1626.5 976.3h.01M1590.2 972.9h.01M1630.4 1000.4h.01M1583.1 1061.3h.01M1517.1 846.3h.01M1501 1146.8h.01M1578.2 881.8h.01M1583.7 880.5h.01M1518.1 914.2h.01M1511.8 1178.1h.01M1545.4 1008.5h.01M1609.3 902.3h.01M1498.7 957.3h.01M1615 1064h.01M1528.4 842.3h.01M1364.4 1012.4h.01M1336.9 929.8h.01M1621.2 1017.8h.01M1404.4 1024.5h.01M1565.2 1009.8h.01M1366.2 1087.6h.01M1496.7 1000.6h.01M1499.1 995.1h.01M1550 1013.8h.01M1414.1 940.9h.01M1516.5 1123.3h.01M1467 996.3h.01M1306.2 901.9h.01M1305 906.4h.01M1455.2 1130h.01M1553.3 1132.1h.01M1584.1 1005.3h.01M1405.1 1019.1h.01M1488.2 940.5h.01M1490.1 934.7h.01M1446.5 1072.9h.01M1371.2 1039.6h.01M1560.7 1083.7h.01M1566.4 1085.1h.01M1386 866.3h.01M1431.5 1151.7h.01M1368.4 1027.6h.01M1611.5 971.3h.01M1357.3 964.5h.01M1341.3 919.8h.01M1493 1150.9h.01M1535 1088.1h.01M1391 1120.2h.01M1580.8 1117.1h.01M1468 1117h.01M1431.5 990.1h.01M1646.6 997.3h.01M1504.1 1049.2h.01M1456.7 931.7h.01M1430 1052.8h.01M1502.2 1140.4h.01M1485.4 1060.5h.01M1480.7 1060.8h.01M1480.1 1055.9h.01M1484 1050.9h.01M1439.5 1130.2h.01M1513.2 899.2h.01M1353.4 917.6h.01M1594.3 927.7h.01M1414.4 1127.1h.01M1420 1128.5h.01M1535.9 1094.5h.01M1422.5 1100h.01M1513.1 998.2h.01M1342.6 1047.7h.01M1495.3 863.7h.01M1511.9 1106.1h.01M1318.5 957.6h.01M1406 929.8h.01M1336.2 967.5h.01M1608 1004.8h.01M1547.2 1102.4h.01M1442.2 1148.9h.01M1535.4 856.8h.01M1575.5 857.9h.01M1571.4 855.5h.01M1582 961.6h.01M1579.7 967.4h.01M1558.8 1122.3h.01M1557 1127.8h.01M1595.7 877.7h.01M1483.7 946h.01M1641.4 990.9h.01M1515.4 1112.1h.01M1433 1085.5h.01M1544.7 1011.8h.01M1480.3 1017.2h.01M1440.9 885.2h.01M1357.2 876h.01M1352.8 1102.6h.01M1452.9 1054.7h.01M1610.6 920.4h.01M1615.2 921.4h.01M1490 967.2h.01M1530.2 1153.6h.01M1354.5 941.9h.01M1461.3 1009.7h.01M1490.1 1144.3h.01M1595.2 962.1h.01M1386.5 921.8h.01M1597.8 850h.01M1529.3 838.7h.01M1358.9 895.3h.01M1467.5 950.1h.01M1353.4 1035.3h.01M1355 1039.9h.01M1357.2 1044.3h.01M1360.3 1048.4h.01M1538.2 896h.01M1596 1015.5h.01M1643 958.3h.01M1586.9 959.9h.01M1445.8 1148.7h.01M1496 1153.9h.01M1468.3 1079.2h.01M1558.4 923.6h.01M1560.3 919.3h.01M1318 1044.7h.01M1570.9 1072.3h.01M1575.2 1068.8h.01M1581 1066.3h.01M1403.3 1123.4h.01M1611.9 993.5h.01M1616.2 990.7h.01M1329.1 1040.7h.01M1449.7 931.3h.01M1354.1 900h.01M1585.9 970.7h.01M1469 857.4h.01M1412.3 984h.01M1607.2 1012.9h.01M1504.1 994.3h.01M1451.1 1105.9h.01M1482.7 1011.4h.01M1399.8 1166.7h.01M1494.2 1165.9h.01M1323.7 979.2h.01M1565.2 899.3h.01M1441.6 1156.4h.01M1437.1 909.9h.01M1497.1 982.2h.01M1454 841.1h.01M1374.2 1075.9h.01M1609.1 849.8h.01M1613.4 852.7h.01M1443.7 898.2h.01M1445.2 892.9h.01M1475.8 1135.4h.01M1411.6 883.6h.01M1542 1113.6h.01M1544.1 1119h.01M1587.5 1036.3h.01M1592.1 1033.3h.01M1300.2 1000.6h.01M1495.6 1112.4h.01M1438.8 864.4h.01M1337 998h.01M1598.7 911.5h.01M1540.9 948.1h.01M1473.2 891.3h.01M1471 1075.5h.01M1458 1034.9h.01M1401.3 972.9h.01M1392.3 911.6h.01M1528.5 1115.1h.01M1546.6 851.8h.01M1551.6 978.5h.01M1490.2 1148h.01M1489.6 1153.8h.01M1546.4 1077.8h.01M1482.1 1106.7h.01M1648 924.2h.01M1496.2 1040.2h.01M1490.5 917.9h.01M1505.9 1150.9h.01M1407.9 1142.6h.01M1320.8 918.8h.01M1590.5 846.5h.01M1506.9 923.5h.01M1520.1 895.6h.01M1459.6 884h.01M1477 877.6h.01M1474.2 816.3h.01M1601.5 1095.9h.01M1635.9 972.3h.01M1630.6 969.2h.01M1322.6 1047.9h.01M1408.6 1040.9h.01M1465.5 876.1h.01M1540.1 1124.9h.01M1437.9 869.5h.01M1442.2 871.6h.01M1336.5 890.6h.01M1589.1 1047.7h.01M1449.2 1041.1h.01M1354 890.8h.01M1555.3 1117.9h.01M1395.2 1013.5h.01M1564.1 902.5h.01M1535.2 890.3h.01M1437.5 1042h.01M1562.9 881.4h.01M1520.2 883.5h.01M1312.1 928.8h.01M1304.1 916.1h.01M1442.4 838.8h.01M1561.8 935h.01M1565.7 1073.5h.01M1427.6 1049.8h.01M1416.6 1170.7h.01M1458 1023h.01M1401.9 889.6h.01M1557.1 932.8h.01M1610.5 1027.5h.01M1468.6 975.6h.01M1385.7 871.5h.01M1380.4 869.8h.01M1497.3 1015.8h.01M1518.6 952h.01M1548.8 933.5h.01M1563.1 1060.4h.01M1493.4 883.5h.01M1309.6 1064.7h.01M1619.3 1057.3h.01M1429.7 1128.5h.01M1365.9 944.8h.01M1370.8 944.9h.01M1531.8 848.5h.01M1399.7 1006.5h.01M1490.9 1133.9h.01M1481.6 849.9h.01M1497.9 877.3h.01M1603.5 913.2h.01M1562.5 843.4h.01M1607.7 1074.5h.01M1309 920.2h.01M1387.2 966.8h.01M1533 1138.2h.01M1401.4 1127.8h.01M1379.1 1030.8h.01M1442.2 847h.01M1277.5 911.7h.01M1238.1 968.4h.01M1238.1 962.6h.01M1239.6 956.6h.01M1253.5 987.5h.01M1252.2 983.1h.01M1248.2 980.2h.01M1270.8 963.3h.01M1271.8 969.2h.01M1268.8 973.7h.01M1268.1 978.4h.01M1224.1 928.5h.01M1221.6 924.7h.01M1241.9 921.3h.01M1226.7 897.8h.01M1260.1 954.5h.01M1269.8 1009.4h.01M1284.8 986.6h.01M1280.5 991.1h.01M1280.7 997.5h.01M1281.9 1002.8h.01M1284.2 974h.01M1242.2 906.3h.01M1242.5 912.5h.01M1292.2 1026.8h.01M1236.4 940.8h.01M1232.5 934.1h.01M1227.2 932.8h.01M1290.6 908.6h.01M1279 946.8h.01M1274 945.7h.01M1269.2 945.1h.01M1296.7 982h.01M1275.7 954.3h.01M1264.6 926.8h.01M1267.6 922.7h.01M1272.7 919h.01M1277.1 916.5h.01M1283.1 914.9h.01M1289.2 938.6h.01M1223.2 944.2h.01M1217.4 948.6h.01M1253.8 927.3h.01M1284.4 964.4h.01M1287.6 968.4h.01M1263.3 933.4h.01M1268.1 930.5h.01M1265.2 941.6h.01M1250 956.6h.01M1290.8 1031.9h.01M1288.7 1027.6h.01M1222.9 936.7h.01M1257.3 913.8h.01M1272.2 1016.6h.01M1231.2 959.6h.01M1236.3 934.2h.01M1241.5 930.5h.01M1286.5 977.1h.01M1290.4 1001.1h.01M1215.2 933.4h.01M1277.8 1027.6h.01M1254.7 959.4h.01M1260.2 908.7h.01M1255.5 918.3h.01M1251.7 964.2h.01M1265.9 953.7h.01M1281.7 1026.9h.01M1276.8 922.6h.01M1279.2 930.3h.01M1271.9 938h.01M1250.8 905.7h.01M1263.5 965.5h.01M1268.2 967h.01M1280.8 978.6h.01M1276.5 981.6h.01M1281.9 1010.8h.01M1290.8 1021.5h.01M1226.5 951.5h.01M1256.9 935.1h.01M1204.7 929.3h.01M1199.2 927.9h.01M1250.1 948.9h.01M1283.9 902.8h.01M1287.5 997.9h.01M1256 954h.01M1237.6 917.3h.01M1248.7 914.1h.01M1248.1 908.5h.01M1247 903.4h.01M1211.8 933h.01M1215.3 937.1h.01M1216.7 942.4h.01M1256.6 943.9h.01M1250.8 992.5h.01M1228.4 921.9h.01M1259.3 979.3h.01M1294.7 971.5h.01M1292.8 981.5h.01M1259.2 948.1h.01M1233.1 947.4h.01M1231.1 952.4h.01M1250.9 967.9h.01M1268.7 935.9h.01M1640 878h.01M1646 884h.01M1653 880h.01M1659 884h.01M1644 904h.01M1658.7 910.7h.01M1669 910.7h.01M1660 878h.01M1677.6 902.3h.01M1683.4 906.5h.01M1676.7 910.7h.01M1673.4 885.2h.01M1682.2 900.3h.01M1675 892.5h.01M1688.3 938.5h.01M1690.8 933.5h.01M1690.3 928.1h.01M1695.3 927.5h.01M1700.1 928.4h.01M1697.6 939.8h.01M1693.1 936.9h.01M1699.5 933.8h.01M1686.8 930.7h.01M1682.1 931.3h.01M1686.7 946.3h.01M1670.3 930.1h.01M1674 927.9h.01M1674.9 922.9h.01M1676.1 917.5h.01M1685.9 942.5h.01M1678.1 934.4h.01M1683.2 934.6h.01M1680.4 945.1h.01M1683 940h.01M1703.1 885.6h.01M1702.2 890.2h.01M1695.7 901.3h.01M1692.4 905.2h.01M1693.3 897.1h.01M1702.9 900.8h.01M1700 906.5h.01M1706.7 900.3h.01M1689.9 899.9h.01M1712.1 900.7h.01M1708 906.3h.01M1700.7 910.7h.01M1677.9 970.3h.01M1678.8 961.1h.01M1677.7 950.5h.01M1672 976.1h.01M1676.5 991.7h.01M1682.2 975.2h.01M1683.6 961.9h.01M1681.9 952.8h.01M1684.5 967.1h.01M1679.2 984h.01M1674.3 958.8h.01M1681.3 987.6h.01M1675.3 967.1h.01M1674.1 951.2h.01M1671.7 991.7h.01M1672.4 981.2h.01M1677.5 977.6h.01M1669.1 989.3h.01M1680.6 992.6h.01M1682.1 979.1h.01M1684.6 956.5h.01M1680.5 966.6h.01M1669 952.5h.01M1658.7 1001h.01M1661 998h.01M1665 996h.01M1668 994.7h.01M1210.4 898h.01M1172.6 856h.01M1174.3 869.6h.01M1166.7 866.2h.01M1167.9 854.9h.01M1196.7 887.3h.01M1163.6 858.5h.01M1206.7 893.6h.01M1179.5 875.9h.01M1172 860.7h.01M1182.2 882.2h.01M1168.1 862.5h.01M1198.1 890h.01M1172.9 873.4h.01M1194.5 880.8h.01M1190.4 888.9h.01M1175.6 877.5h.01M1170.4 865.1h.01M1187.2 886.3h.01M1166 873.2h.01M1183.5 887.6h.01M1182.9 878.1h.01M1172.7 887.6h.01M1170.6 877.9h.01M1203.9 889.2h.01M1193.6 884h.01M1166.1 860.7h.01M1208 901.9h.01M1178.6 880.9h.01M1201.9 885.7h.01M1196.8 893.1h.01M1202.8 892.7h.01M1177.1 872.6h.01M1198.6 885.4h.01M1180.4 885h.01M1176.9 862.2h.01M1214 893.2h.01M1173.4 865.8h.01M1186.8 878.9h.01M1164 867.4h.01M1179.6 887.6h.01M1184.3 875h.01M1193.6 888.9h.01M1167.3 869h.01M1208.6 890.6h.01M1181.1 891h.01M1200.1 892.9h.01M1204.4 897h.01M1191.3 880.2h.01M1184 884.8h.01M1166.2 857.2h.01M1200.5 898h.01M1169.4 857.9h.01M1213.5 899.3h.01M1212.3 895.3h.01M1171 867.9h.01M1163.7 864.8h.01M1211.6 888.2h.01M1187.6 883h.01M1204.7 883.7h.01M1269.4 903.8h.01M1278 899.8h.01M1284.2 898.8h.01M1288 895.8h.01M1239.3 892.5h.01M1235.8 896.3h.01M1225.3 889.7h.01M1222.2 893.2h.01M1291.7 887.5h.01M1296.1 888.9h.01M1261.3 883.9h.01M1262.3 888.7h.01M1257.6 892h.01M1252.9 895.9h.01M1360.9 850.9h.01M1267.3 899.3h.01M1244.4 893.6h.01M1166.7 766.7h.01M1186.7 770h.01M1160.8 774.2h.01M1175 779.2h.01M1188.3 778.3h.01M1195 778.8h.01M1173.3 772.5h.01M1165 784.2h.01M1171.7 785h.01M1163.3 789.2h.01M1166.7 794.2h.01M1162.5 795.8h.01M1168.3 796.7h.01M1153.3 810h.01M1157.5 813.3h.01M1150 817.5h.01M1163.3 818.7h.01M1183.3 815.8h.01M1208 821.3h.01M1186.7 825.5h.01M1155 830.8h.01M1161.7 829.2h.01M1192.5 838.3h.01M1165.8 781.7h.01M1160.8 792.5h.01M1141.7 719.7h.01M1176.3 724.2h.01M1064.2 953.3h.01M1068.7 950.6h.01M1060.9 941.1h.01M1054.8 941.1h.01M1049.7 920.9h.01M1052.6 925.3h.01M1067 920h.01M1062.8 936.1h.01M1058 938.3h.01M1086.4 917.1h.01M1054.4 917.4h.01M1059.1 918.3h.01M1063.4 931.6h.01M1081.3 948.8h.01M1081.6 938.7h.01M1079.3 928.4h.01M1086.5 925.7h.01M1084.4 921.5h.01M1071.9 924.8h.01M1058.5 954.1h.01M1054 950.8h.01M1065 913.1h.01M1078.9 918.3h.01M1097.2 938.5h.01M1077.3 937.5h.01M1075.8 943.7h.01M1087 931.2h.01M1074.1 919.3h.01M1074 914.6h.01M1095 941.4h.01M1091.4 946.5h.01M1049.1 930.8h.01M1088.4 936.3h.01M1099 935.2h.01M1037.1 922.1h.01M1075.5 926.7h.01M1066.5 934.6h.01M1044.3 933.5h.01M1088.6 954.1h.01M1090.7 958.4h.01M1072.6 951.4h.01M1042.4 925.9h.01M1066.3 929.5h.01M1070.6 940.4h.01M1070.4 932h.01M1047.9 918.3h.01M1089.9 950.5h.01M1038 926.6h.01M1091.3 935.4h.01M1047 944.3h.01M1037.2 919h.01M1041.9 915.8h.01M1051 950.3h.01M1068.7 926h.01M1044.2 938.2h.01M1060.6 930.2h.01M1067.2 959.1h.01M1041.2 930.3h.01M1076 950.8h.01M1070.7 914.8h.01M1071.8 959.9h.01M1122.6 930.3h.01M1136.6 943.6h.01M1125.1 952.2h.01M1107.2 928.1h.01M1117.1 953.2h.01M1119 932.8h.01M1107.7 944.1h.01M1110.2 936.4h.01M1113.9 941.1h.01M1108.5 940.5h.01M1121.6 943.3h.01M1129.9 941.2h.01M1128.4 949.8h.01M1121.5 951.8h.01M1115.4 949.6h.01M1135.8 955.5h.01M1083.2 883h.01M1083.2 886h.01M1093 904h.01M1061 906h.01M1054.6 912h.01M1036 913.5h.01M1032.6 917.6h.01M1123.7 961.7h.01M1124 968.6h.01M1144 985h.01M1153 988h.01M1171 997.5h.01M1177 997.5h.01M1195 995h.01M1195 1000h.01M1195 1004h.01M1203 1004.5h.01M1207.6 1004.5h.01M1217.7 1001.5h.01M1217.7 1018h.01M1158 957h.01M1166 935.5h.01M1166 940h.01M1195 930h.01M1170 908h.01M1141.5 1008.7h.01M1143 1021h.01M1227.9 1021.8h.01M892.9 1199.2h.01M897.3 1201h.01M902.7 1201.2h.01M855.7 1188h.01M861.3 1185.6h.01M911.2 1196h.01M881.1 1178.4h.01M867.5 1176.5h.01M874.1 1207h.01M880.7 1192.8h.01M882.9 1187.7h.01M845.7 1168h.01M846.9 1173.3h.01M845.6 1179.1h.01M907 1194.4h.01M901.9 1197.8h.01M900.8 1193.1h.01M896.6 1190.9h.01M904.2 1189.6h.01M907.9 1186.2h.01M867.9 1190.9h.01M869.6 1195.4h.01M871.1 1200.2h.01M894.4 1203.9h.01M898.5 1205.7h.01M855.4 1163.5h.01M902.7 1177h.01M880.4 1184.2h.01M874.8 1183.8h.01M854.8 1191.4h.01M873.4 1167.1h.01M871.7 1175.9h.01M917.7 1179.9h.01M859.6 1194.7h.01M913.1 1179.6h.01M889.7 1195h.01M858.1 1202.3h.01M872.4 1181.7h.01M872.4 1186.3h.01M871.2 1192.4h.01M913.2 1191.1h.01M876.3 1193.9h.01M880.9 1197.5h.01M852.7 1182.8h.01M855.9 1167.7h.01M862 1166.4h.01M919.5 1185h.01M921.4 1179.8h.01M857.4 1177.9h.01M889 1189.9h.01M868.8 1183h.01M901.9 1186.3h.01M868.3 1163h.01M867 1170.6h.01M859.3 1156.8h.01M855.7 1151.9h.01M860.8 1161.1h.01M890 1206.6h.01M917.6 1195.6h.01M909.4 1183.5h.01M876.2 1176.3h.01M859.8 1153.4h.01M890.4 1178.3h.01M856.6 1195.4h.01M868.8 1186.8h.01M864.1 1183h.01M852.1 1166h.01M928.6 1185.4h.01M928.8 1179.6h.01M964.1 1168.4h.01M979.3 1165.5h.01M961.8 1162.9h.01M983.4 1165.2h.01M947.7 1177.6h.01M943 1177.6h.01M967.2 1162.3h.01M957 1174.9h.01M909 1164h.01M936 1162.5h.01M940 1145h.01M997.9 1177.3h.01M1023.2 1149h.01M1005.3 1155h.01M1009.3 1167.7h.01M1042.9 1099.4h.01M1036.1 1154.4h.01M1050.3 1099.9h.01M1053.4 1096.1h.01M1022.7 1134h.01M1110.4 1053.3h.01M1095.7 1101.4h.01M1181.2 1097.6h.01M1121.7 1090h.01M1163.1 1093.7h.01M1256.7 1059.2h.01M1295.2 1064.4h.01M1249.1 1053h.01M1204.1 1069.8h.01M1231.3 1048.5h.01M1239.2 1078.9h.01M1281.1 1065h.01M1294.2 1078.2h.01M1232.9 1109.3h.01M1215.1 1054.2h.01M1289 1087.8h.01M1213.9 1065.3h.01M1210.7 1061.5h.01M1323.5 1093.9h.01M1257.2 1080.1h.01M1259 1084.5h.01M1206.2 1063.2h.01M1244.6 1072.3h.01M1197.3 1084.7h.01M1247 1065.2h.01M1216.3 1071.7h.01M1304.5 1073.9h.01M1318.4 1068.7h.01M1276.2 1045h.01M1252.4 1043.2h.01M1320.4 1086.2h.01M1288.4 1072.3h.01M1235.1 1061.5h.01M1230 1060.7h.01M1158.5 1032.8h.01M1169.3 1052.7h.01M1155.1 1047.8h.01M1204 1019.7h.01M1301.6 1122.4h.01M1337.7 1117.9h.01M1315.3 1121.9h.01M355.8 626.4h.01M350.8 646.9h.01M349.2 642.3h.01M355 642.1h.01M353.4 621.9h.01M347.2 637.9h.01M354.8 647.8h.01M356 632.5h.01M352.4 637h.01M358.7 630.1h.01M351.9 629.4h.01M357 621.2h.01M351.5 650.6h.01M348.5 631h.01M344.3 643.6h.01M386.6 665h.01M384.8 669.7h.01M386.5 674.9h.01M391.6 675.5h.01M396.5 677.6h.01M401.1 669.2h.01M390.4 682.7h.01M375.1 672.4h.01M381.4 654.7h.01M357.5 666h.01M362.4 663.9h.01M366.8 662h.01M369.9 658.2h.01M369 653.3h.01M383.9 677.1h.01M377.8 661.5h.01M377.7 655.4h.01M371.3 672.9h.01M366.1 671.3h.01M361.5 671.7h.01M384.5 660h.01M389.3 657h.01M394.1 654.1h.01M382.3 663.5h.01M399.4 673.7h.01M397.5 666.9h.01M371.6 686.9h.01M372.3 682.1h.01M373.3 656.7h.01M371 645.5h.01M378 654.5h.01M391.5 651.5h.01M348.5 658.5h.01M401.5 686.5h.01M407 680.5h.01M448.3 656.6h.01M445.7 643.8h.01M463.5 646.6h.01M448.8 645.4h.01M454 641.2h.01M456.9 648.5h.01M445.2 647.9h.01M448.1 636.5h.01M449.8 649h.01M456.2 660h.01M462.5 638h.01M416.7 677.2h.01M419.4 673.5h.01M423.4 668.8h.01M427.5 671.2h.01M424 673.7h.01M420.2 655.6h.01M430.6 669.3h.01M411.5 665h.01M430.1 658.8h.01M419.7 659.4h.01M414.1 661.9h.01M421.9 665h.01M416 669h.01M427.8 664.8h.01M449.4 720.7h.01M427.6 754h.01M422.6 756.8h.01M453.3 700.4h.01M453 694.7h.01M455 688.7h.01M425.5 709.9h.01M421.5 707.5h.01M415.8 704.6h.01M410.6 702.5h.01M452.6 719.4h.01M407.4 733.7h.01M412.6 731h.01M417.8 731.9h.01M427.1 737.9h.01M429.1 733.1h.01M443.2 694.6h.01M435.4 713.8h.01M439.4 708.9h.01M445.1 706h.01M449.7 704h.01M446 672.7h.01M443.9 684.5h.01M442.5 689.1h.01M421.1 748h.01M444.1 701.3h.01M416.9 712.5h.01M416 707.9h.01M426.3 720.6h.01M422.5 690.4h.01M411.2 757.1h.01M410.4 752.2h.01M441.8 713.8h.01M437.3 718.2h.01M434.6 723.9h.01M430.3 726.6h.01M430.4 744h.01M425.3 744.1h.01M421.4 740.9h.01M415.3 740.7h.01M409 741.4h.01M403.6 738.6h.01M419.3 682.1h.01M453.3 729.4h.01M454.4 724.7h.01M438.2 693.2h.01M433.9 696.4h.01M428.8 695.4h.01M424.3 694.7h.01M443.1 753.6h.01M439 670.1h.01M442.4 673.5h.01M434.1 730.8h.01M463.2 681.9h.01M442.5 740.4h.01M447.6 741.1h.01M453.2 738.2h.01M439.3 754.9h.01M434.9 759.4h.01M429.5 759.1h.01M461.9 689.4h.01M466.4 687.7h.01M426.1 679.9h.01M409.5 720.1h.01M464.5 670.8h.01M415.9 693.4h.01M440.3 747.4h.01M428.9 709.7h.01M433.3 706.9h.01M445.2 669.5h.01M411.7 687.7h.01M457.3 674h.01M453.1 670.8h.01M433.1 689h.01M433.1 683.9h.01M441 682.9h.01M451 733.6h.01M440.7 666.6h.01M447.8 753.4h.01M452.8 750.3h.01M442.9 730.6h.01M450.1 673.1h.01M436.4 741.3h.01M438.5 676.9h.01M442.1 679.9h.01M455.7 709.1h.01M407.1 712.9h.01M461 728.3h.01M457.8 732h.01M408.2 724.4h.01M407.4 730.1h.01M414 748.1h.01M435.1 680h.01M437.9 758.3h.01M449.2 677.9h.01M437.4 751.1h.01M463.2 677.7h.01M421.3 729.6h.01M418.7 725.2h.01M401.6 732.8h.01M458.7 684.9h.01M458.9 690.4h.01M448.9 695.1h.01M447.6 735.1h.01M421.1 701.5h.01M448.5 668.4h.01M461.5 705.3h.01M447.9 745.6h.01M415.7 701h.01M432.7 711.3h.01M432.6 674.9h.01M474.7 711.7h.01M489.7 708.5h.01M473 714.8h.01M488.9 704.5h.01M489 698.7h.01M470.6 699.7h.01M471.5 708.5h.01M495.6 705.8h.01M482.3 709.8h.01M481.5 704.4h.01M465.5 695.8h.01M498.8 710h.01M499.5 706h.01M473 718.8h.01M475.7 697.2h.01M470.1 694.8h.01M493.1 717.1h.01M480.7 697.3h.01M494 709.6h.01M506.5 660.5h.01M522 672.5h.01M518 691.5h.01M529.5 692h.01M508 711.5h.01M519.5 726.5h.01M503 741h.01M610 565.2h.01M605.9 571.6h.01M622 531h.01M614 550.1h.01M616.4 544.9h.01M602.3 575.9h.01M621.6 538.7h.01M613.4 544.9h.01M607.5 578.1h.01M619.1 536.8h.01M620.5 542.5h.01M605.5 568.2h.01M606.2 562.6h.01M607 574.2h.01M610.8 554.6h.01M608.5 570.7h.01M602.8 570h.01M611.4 551.8h.01M639 530.7h.01M614.7 589.2h.01M612.9 583.9h.01M612.8 579.1h.01M598.7 620.3h.01M591.4 633.7h.01M596.2 635.5h.01M612.8 616.3h.01M617.9 619.7h.01M623.5 622.1h.01M604 618.8h.01M604.5 624.6h.01M616 614.5h.01M601.3 637.8h.01M600.8 597.7h.01M600.2 579.8h.01M622.8 608.7h.01M613.6 607h.01M605.8 602.7h.01M608.2 608.3h.01M611.3 610.4h.01M602.3 610.2h.01M605.2 614.1h.01M609.6 618.3h.01M607.5 623.9h.01M605.7 583.1h.01M581.9 609h.01M576.1 607.6h.01M585.7 599.8h.01M615 635.6h.01M613.8 631h.01M595.1 592.2h.01M598 640.3h.01M593.6 637.8h.01M622.2 634.9h.01M617.8 622.8h.01M612.2 621.2h.01M611.7 637.1h.01M617.7 611h.01M595 629.7h.01M601 627.8h.01M591.9 622.8h.01M591.8 628.6h.01M586.7 625h.01M584 620h.01M588.6 622.1h.01M588.4 636.8h.01M623.1 625.7h.01M590.9 598h.01M589.7 605.6h.01M592.1 610.5h.01M592.2 601.3h.01M591.7 617.9h.01M619.5 604.2h.01M599.3 601.7h.01M598.2 606.9h.01M596.8 617.4h.01M621 643.4h.01M587.8 602.7h.01M598.5 584h.01M616 627.3h.01M622.2 617.1h.01M600.8 614.2h.01M679.1 567.1h.01M669 581.1h.01M688.9 556.2h.01M673.9 574h.01M689.1 551.6h.01M678.5 571.6h.01M670.1 571.5h.01M695.6 546.3h.01M672.4 592.8h.01M666.3 588.8h.01M657.6 588.4h.01M667.2 593.7h.01M671.5 589h.01M658 584.3h.01M638.6 599.8h.01M647.7 594h.01M655.2 593h.01M640.7 604.5h.01M640.7 593.9h.01M649.9 597.8h.01M649.4 585.3h.01M645.3 598.2h.01M634.8 598.2h.01M627 585.7h.01M622 600h.01M659 600.5h.01M655 607.5h.01M654.5 614.5h.01M664.5 612h.01M668.5 612.5h.01M682 595.7h.01M678 603h.01M709.7 591.7h.01M736.2 640.2h.01M726.7 645h.01M711.6 620.6h.01M715.8 623.7h.01M720.5 626.1h.01M726.2 626.8h.01M732.2 628.3h.01M713.3 626h.01M728.3 642.1h.01M737.8 633.2h.01M724.8 635h.01M709.1 626.6h.01M721.2 629.9h.01M718.8 634.6h.01M721.8 619.2h.01M713.2 639.6h.01M717.2 640.8h.01M715.2 646.3h.01M736.8 628.9h.01M709.5 623.1h.01M705 619h.01M723.6 638.8h.01M744.2 619.2h.01M743.6 632h.01M709.9 632.8h.01M740.2 637h.01M730.3 633.1h.01M735.5 607h.01M737.5 609h.01M689 611.5h.01M698 613h.01M678.7 623.3h.01M684 623.3h.01M690.7 622.5h.01M710 648.7h.01M711.3 653.3h.01M700 654.7h.01M705.7 666.7h.01M505.6 608.4h.01M514.3 612.6h.01M511.3 618.3h.01M533.2 612.6h.01M558.1 624.9h.01M554.5 634.4h.01M534.9 615.7h.01M524.5 618.6h.01M537.7 612.9h.01M524.2 614.1h.01M568 640h.01M544.4 618.4h.01M500.4 612.4h.01M520.5 607.2h.01M548.1 626h.01M539.6 617.5h.01M556.8 629.2h.01M552.5 625h.01M518 616.8h.01M520 613.3h.01M507.1 616.9h.01M500.2 608.7h.01M560.2 635.9h.01M500.3 605.4h.01M570.3 636h.01M561.7 630.5h.01M542.2 614h.01M516.7 608.1h.01M566.8 634.6h.01M541.5 621h.01M527.8 611h.01M565.2 642.5h.01M554 606.7h.01M619.1 700.1h.01M609.4 699.2h.01M589.8 682.5h.01M591 688.7h.01M591.1 693.8h.01M572.7 676.8h.01M571.4 670.6h.01M571.1 659.5h.01M572.1 665.7h.01M597.1 654.3h.01M578.2 649.6h.01M582.2 645.6h.01M603.9 663.8h.01M611.7 676.5h.01M620.3 704.9h.01M582.2 684.4h.01M600.9 671.5h.01M621.8 683.8h.01M629.2 669.3h.01M583.6 659.3h.01M579.7 655.1h.01M581.4 664.9h.01M581.9 669.6h.01M597.8 670.4h.01M573.7 695.6h.01M602.1 675.9h.01M600.3 698.9h.01M592.4 659.9h.01M608.4 694.8h.01M566.2 664h.01M609.7 670.6h.01M622.1 661.6h.01M619.9 656.8h.01M581.6 673h.01M584.1 654.8h.01M581.4 676.6h.01M569.5 698.7h.01M569.2 692.6h.01M569.8 686.3h.01M571.5 681.4h.01M568.5 677.1h.01M595.4 649.1h.01M600.5 649.2h.01M593.2 646.7h.01M625.3 660.1h.01M592.4 696.8h.01M579.2 667.9h.01M577.6 662.6h.01M591.4 712.5h.01M598.3 682.6h.01M598 677.8h.01M595.1 673.6h.01M578.2 700.7h.01M615.4 651.6h.01M570 653.6h.01M569 649h.01M625.2 686.1h.01M635.7 685.4h.01M617 676.7h.01M613.8 672.6h.01M581.4 690.9h.01M575.9 688.4h.01M585 704h.01M580.1 705.3h.01M580.7 642.2h.01M623.9 676.8h.01M573.3 685.2h.01M608.8 675.7h.01M597.7 658.2h.01M596.2 664h.01M594.2 668.7h.01M587.4 677.4h.01M616 683.4h.01M595.9 710h.01M617.2 693h.01M618.8 687.1h.01M565.7 647.1h.01M632.2 663.6h.01M605.7 708.6h.01M618.3 666.2h.01M587.9 685h.01M588.4 697.2h.01M578.9 645.3h.01M618.2 680.6h.01M629.8 660.2h.01M612.3 707.3h.01M577.7 676.4h.01M632.3 676.4h.01M629 702.4h.01M589.8 657.2h.01M573.6 701.2h.01M632.2 681.1h.01M633.5 670.9h.01M629.1 674.5h.01M609.9 662.4h.01M607.2 645.1h.01M614.2 693h.01M660.1 657.6h.01M654.3 656.2h.01M669 695.7h.01M669.7 689.7h.01M668 686h.01M666.9 666.4h.01M676.2 671.8h.01M663.5 683.5h.01M687.1 673h.01M689.2 677.4h.01M657.6 690.6h.01M673.3 683h.01M649.9 669h.01M647.9 673.5h.01M647.4 678.5h.01M649.7 682.7h.01M654.1 685.8h.01M659.2 686.7h.01M662.2 647.8h.01M655.7 677.1h.01M648 659.6h.01M663.8 676.7h.01M658.9 674.3h.01M654.7 670.2h.01M678.9 655.3h.01M680.7 661.5h.01M675.8 663.5h.01M669 678h.01M665.5 671.7h.01M640.3 692h.01M683.1 666.5h.01M678.8 664.7h.01M685.7 656h.01M680 659.8h.01M687.1 657.4h.01M675.3 669.4h.01M506.7 660.7h.01M522 672.7h.01M543 662h.01M546.7 672h.01M556.7 662h.01M518.7 692h.01M529 692h.01M550.7 696h.01M549 687h.01M553 690h.01M557 688h.01M623.3 616h.01M631.3 618.7h.01M632 634h.01M654 634.3h.01M664.7 637.6h.01M677.7 639.7h.01M650 646.7h.01M645.3 654.7h.01M654 653.3h.01M636.3 715.2h.01M654.4 717.7h.01M645 718.5h.01M629.5 711.1h.01M683.6 734.7h.01M681.4 725.6h.01M651 736.1h.01M655.3 732.1h.01M674.1 724.2h.01M663.4 723.5h.01M686.9 732.6h.01M683.4 729.1h.01M673.4 731.7h.01M676.2 728.6h.01M641 729h.01M648.4 725.6h.01M644.4 742.2h.01M693.4 706.2h.01M579 720.9h.01M585.5 746.6h.01M588.1 743.9h.01M582.6 739.5h.01M584 728.8h.01M580.8 729.5h.01M585.3 720.1h.01M583.5 748.9h.01M581.9 745.2h.01M578.2 737.4h.01M580.8 749.9h.01M588.9 750.4h.01M582.8 714.8h.01M584 754.5h.01M579.4 740.8h.01M585.6 751h.01M574.6 731h.01M578.5 714.5h.01M580.5 702.5h.01M584.6 732.8h.01M584 735.9h.01M579.5 724.6h.01M581.4 732.9h.01M577.7 731.9h.01M582.4 721.4h.01M587.2 724.7h.01M591.3 748.6h.01M581.6 718.3h.01M582.9 767h.01M583 772.3h.01M577.8 766.6h.01M575.4 758.8h.01M580.1 761.4h.01M576 763.2h.01M569.4 768.1h.01M603.5 767.1h.01M571.1 763.3h.01M593.9 772.1h.01M598.6 768.6h.01M592.8 765.5h.01M588.2 772.9h.01M585.5 776.7h.01M591.9 754h.01M576.8 772.8h.01M531.7 757.6h.01M530.3 762.9h.01M529.9 767.5h.01M533.1 744.6h.01M538 743.2h.01M542.3 774.5h.01M541.6 757.3h.01M524.7 772.3h.01M524.3 769h.01M534.9 757.8h.01M527.9 758.7h.01M530.9 787h.01M527.7 749.2h.01M545.1 739.9h.01M549.4 741.4h.01M542 731h.01M536.6 734.3h.01M542.1 771.5h.01M542.1 765.6h.01M537 731h.01M540.6 735.5h.01M544.2 744.1h.01M541 744h.01M513.4 792.5h.01M521.5 790.5h.01M528.7 806.5h.01M552 801.5h.01M556 805h.01M502.6 741.4h.01M502 777h.01M519.8 726h.01M508 711.6h.01M494.2 712.6h.01M494.8 706h.01M499.6 702.4h.01M540.4 707h.01M547 709h.01M556.6 716.6h.01M563.2 712h.01M565.6 711h.01M549.4 770.6h.01M557 755.4h.01M560.9 765.3h.01M548 755.4h.01M562.7 770.1h.01M551.6 757.5h.01M552.3 765.8h.01M619.8 736h.01M617.2 738.3h.01M626 781.2h.01M621.3 776.8h.01M623.6 752.5h.01M618.7 766.7h.01M611.4 761.3h.01M607.7 740.3h.01M616 771h.01M571.1 856.9h.01M585.5 841.5h.01M580.2 842.7h.01M600.3 823.1h.01M608.5 818.6h.01M624.9 778h.01M621.9 791.6h.01M623.3 808.8h.01M613.5 812.6h.01M588.5 852.6h.01M603 825.5h.01M596.2 831.8h.01M578.7 865.1h.01M617.4 825.8h.01M589.8 839.6h.01M599.5 830h.01M628.1 783.5h.01M625 795.5h.01M571.7 863.7h.01M602.2 819.6h.01M583.4 853.1h.01M609.4 809.4h.01M576.9 853.8h.01M593.7 835.7h.01M625.3 790.7h.01M550.7 852.4h.01M578 850.2h.01M620.5 810.5h.01M575.7 846.2h.01M569.3 851.1h.01M562.8 860.4h.01M593.3 848.4h.01M582.4 859.7h.01M589.9 831h.01M559.5 861.8h.01M580.2 853.3h.01M584.8 832.7h.01M590.4 843.2h.01M568.8 854.2h.01M582.7 844.6h.01M574.6 856.4h.01M621.3 799h.01M610.7 823.2h.01M606.4 822.8h.01M630.6 808h.01M623.6 813.9h.01M561.6 841h.01M585.6 856.8h.01M559.6 852.4h.01M597.3 820.9h.01M554.8 861.1h.01M624.3 799.9h.01M615.4 807h.01M614.8 831.9h.01M631.7 781.8h.01M563.1 869.8h.01M628.9 803.3h.01M610.8 806.5h.01M604 830.6h.01M620.9 794.9h.01M575.2 861h.01M590.7 822.6h.01M588 834.4h.01M595.6 824.6h.01M601.7 832.7h.01M562 823h.01M567.4 828h.01M575.2 826h.01M581.8 827.2h.01M550 839.8h.01M584.8 803.2h.01M454.8 1002.2h.01M455.2 1010.6h.01M455.5 1016.5h.01M456.4 1063.1h.01M499.9 1133.8h.01M476.7 1098h.01M457.8 1072.9h.01M500.4 1125.9h.01M461.4 1072.9h.01M480.5 1103.3h.01M475.4 1092.7h.01M451.2 1044.4h.01M451.8 1036.9h.01M508.9 1144h.01M477.4 1101.7h.01M489 1112.8h.01M462.3 1080h.01M504.9 1138.4h.01M468.8 1086.1h.01M485 1113.8h.01M456.3 1047.5h.01M490.1 1121.4h.01M447.8 1041.6h.01M453.7 1060.3h.01M495.9 1122.2h.01M507.2 1134.4h.01M465.8 1084.9h.01M461.4 1069.7h.01M464.6 1073.8h.01M491.2 1117.2h.01M513.4 1144.4h.01M494.2 1117.7h.01M467.4 1077h.01M449.7 1049.3h.01M456.2 1068.9h.01M484 1109.8h.01M506.7 1130.7h.01M468.2 1080.6h.01M454.5 1041.9h.01M467.9 1089.3h.01M508.8 1147.1h.01M472.9 1089.9h.01M456 1058.3h.01M449.2 1054.9h.01M507.9 1139.8h.01M451.6 1040.8h.01M503.4 1129.6h.01M473.7 1095.7h.01M459.3 1065.3h.01M497.1 1128.4h.01M453.6 1050h.01M450.6 1060.6h.01M456.7 1055.1h.01M504 1133.2h.01M479 1111.1h.01M482.4 1107.2h.01M506 1143h.01M486.4 1117.7h.01M465.3 1079.3h.01M470.9 1093.5h.01M489 1109.2h.01M522 1157.2h.01M520.2 1143h.01M520.8 1177.8h.01M528.5 1172.4h.01M525.7 1178.7h.01M521.7 1165.3h.01M527.3 1157.7h.01M517.9 1161.4h.01M530 1169.5h.01M525.3 1162.2h.01M517.3 1170.6h.01M510.3 1156.5h.01M506.8 1038.2h.01M501.9 1043.4h.01M496.8 1054.9h.01M478.7 1064.3h.01M507.5 1041.5h.01M484.1 1060.4h.01M472.4 1071.5h.01M511 1038.2h.01M517 1028.3h.01M518.5 1033.7h.01M497.4 1042h.01M513.6 1044h.01M505.3 1047.8h.01M514.2 1034.9h.01M521.5 1031.4h.01M470.6 1058h.01M485 1077.4h.01M488 1092h.01M491 1090h.01M1038.8 614.2h.01M1027.5 627.5h.01M1024.7 633.7h.01M999 654.7h.01M1015 671h.01M1019 670h.01M1022 669h.01M1030 671h.01M931.7 652.8h.01M914 647h.01M1013.6 651.8h.01M1012.4 646.2h.01M1019.5 649.8h.01M1012.2 649.3h.01M1019.4 658.8h.01M1010.3 654.6h.01M1012.5 642.9h.01M1015.2 655.1h.01M1015.5 643.7h.01M1013.9 658.3h.01M1016.9 655h.01M956 666.8h.01M956.8 666.7h.01M971.7 658h.01M987.3 671.1h.01M967.6 666.9h.01M960.7 664.3h.01M947.7 661.1h.01M977.6 658.3h.01M960.1 663.7h.01M967.1 677.1h.01M968.3 660.7h.01M962.4 654.6h.01M930.1 676.1h.01M933.5 678.2h.01M1060.9 734.4h.01M1050 731.7h.01M1031.9 705.4h.01M1046.2 722.3h.01M1052.5 725.3h.01M1034.6 709.1h.01M1019.5 691.8h.01M1036 719.8h.01M1030.4 709.9h.01M1080.5 760.3h.01M1055.1 732.8h.01M1022.1 693.6h.01M1011.5 690.9h.01M1073.5 750.4h.01M1037.2 714.8h.01M1060.4 737.5h.01M1073 756.3h.01M1051.8 713.2h.01M1027.5 699.7h.01M1025.3 687.1h.01M1052 727.9h.01M1049.2 725.2h.01M1057 729.4h.01M1014.3 698.6h.01M1020.3 688.3h.01M1043.8 721h.01M1026.3 704.7h.01M1057.5 739.8h.01M1027 692.2h.01M1066.2 732.5h.01M1034.7 712.3h.01M1076.1 745.6h.01M1023.6 695.8h.01M1068.4 747.3h.01M1085.6 765.2h.01M1062.7 739.8h.01M1051.2 722h.01M1078.4 749h.01M1073.4 747h.01M1049.9 719.1h.01M1076.1 751.9h.01M1083.6 763.3h.01M1087.8 763.5h.01M1088.4 761h.01M1083.8 758.7h.01M1089.9 765h.01M1046.9 716.5h.01M1021.3 701.2h.01M1075.9 756.8h.01M1049.2 728.3h.01M1063.4 730.6h.01M1039.2 706.3h.01M1080.1 755.7h.01M1077.6 763.1h.01M1068.9 744.3h.01M1061.2 742.5h.01M1039.5 712.6h.01M1048.5 710.9h.01M1028.8 702.6h.01M1035.6 701.4h.01M1041 721.3h.01M1082 750.4h.01M1052.6 732.4h.01M1055.9 743.5h.01M1076.5 760.8h.01M1042.2 715.4h.01M1078.4 710.7h.01M1078.4 715.7h.01M1050.2 706.6h.01M1054.2 703.4h.01M1072.2 718.8h.01M1061.2 711.9h.01M1047.7 702.2h.01M1058.4 703.8h.01M1069.5 704.4h.01M1067.6 699h.01M1065.7 716.2h.01M1067.2 709.6h.01M1073.8 706.6h.01M1044.5 708.2h.01M1086.5 710.2h.01M1083.8 715.4h.01M1057.9 717.1h.01M1054.1 707.9h.01M1050 698.9h.01"/>
<path stroke="#501478" d="M1103.6 1071.5h.01M1489.7 948.5h.01M1458.8 1056.6h.01M1471 1114.2h.01M1638.2 925.6h.01M1006.2 1141.3h.01M1345.3 710.1h.01M1409 885.8h.01M1163.2 441.8h.01M1554.5 862h.01M1040 257.2h.01M1527.7 1094.9h.01M1434.6 1066.6h.01M1344.3 641.3h.01M1287.8 917h.01M1290.2 628.7h.01M1422.7 913.7h.01M1077.8 353.1h.01M1407.7 1062.7h.01M1500.9 882.4h.01M1017.6 697.6h.01M1319.6 883.1h.01M884.6 1174.7h.01M854.4 357h.01M1273.3 336.6h.01M1406.5 995.1h.01M1544.6 896h.01M1269.9 303.2h.01M1445.6 874.6h.01M626.2 804.8h.01M1279.8 725.9h.01M1301.3 929.4h.01M1298.5 437.1h.01M1405 857.9h.01M1278.5 471.8h.01M524.2 609.7h.01M1194 524.5h.01M1351.9 926.8h.01M1495.9 1090.2h.01M1175.9 856.1h.01M1523.1 957.3h.01M1310 957.2h.01M1443.7 867.7h.01M1582.8 857.5h.01M1001.9 1164.3h.01M1573.3 1119h.01M1309.6 788.6h.01M1478.7 967.8h.01M1476.9 1056h.01M1394.1 931.2h.01M1276.2 777.9h.01M596.6 643.9h.01M1140 439.2h.01M453.3 1053.9h.01M1295.8 1028.5h.01M886.3 1188h.01M1296.6 803.3h.01M1245.2 1115.3h.01M1314.5 655.8h.01M1132.8 450.1h.01M1633.6 986.8h.01M1527.9 917.8h.01M1549.7 1057.5h.01M1451.5 894.4h.01M1478.7 1012.9h.01M1331.4 622.8h.01M775.6 326.2h.01M1115.6 307.9h.01M1459.1 891.4h.01M1274.6 542.1h.01M1362.8 974.7h.01M1337.1 1091.9h.01M1704.4 894.7h.01M1498.1 892h.01M1167.9 427.4h.01M1516.9 1133.5h.01M1514.5 989.7h.01M1613.6 986.8h.01M863.4 1171.6h.01M1129.3 512.7h.01M1433.5 947.1h.01M1392.4 928h.01M1531.3 1088.4h.01M525.1 776.2h.01M611.6 739.6h.01M1294.8 959.4h.01M969.7 1173.8h.01M1055.2 927.1h.01M1035.2 924.6h.01M1133.6 351.5h.01M1467.4 913.7h.01M717.1 617.1h.01M1165.5 504.1h.01M1149.5 336.2h.01M1503.9 939.4h.01M1428.4 738.9h.01M1490 1174.5h.01M1580.7 897.1h.01M904.1 269.2h.01M1410 961.1h.01M1571.2 1037.3h.01M1217.9 405.3h.01M1048.2 934.3h.01M1531.9 855.8h.01M1568.6 853.7h.01M1467.1 1042.1h.01M1179.6 531.9h.01M1286.9 541.7h.01M1082.4 915.5h.01M1318.8 1096.2h.01M1451.4 767.4h.01M1437.6 1019.9h.01M1549.5 960.6h.01M653.5 721.9h.01M1418.8 948.7h.01M1130.7 953.1h.01M1107.2 374.3h.01M1323.8 954.3h.01M1121.4 286.3h.01M1477.2 906.7h.01M957.4 263h.01M1665.2 938.5h.01M1302.6 747h.01M1424.6 1084.9h.01M1252.7 425.2h.01M1396.5 939.6h.01M1228 916.8h.01M879 1180.9h.01M1497.9 976.8h.01M1229.2 427.5h.01M1057.8 925h.01M1377.8 677.6h.01M1306.6 688.8h.01M1144.9 415.7h.01M1254.5 1037.4h.01M577.1 840.5h.01M1375.2 936.9h.01M1595.7 1009.7h.01M1232.4 512h.01M1388.7 983.2h.01M1271.9 438.6h.01M1432.8 1004.6h.01M1089.3 922.2h.01M789.5 320.2h.01M1490.8 1102.2h.01M1244 386.4h.01M1683.5 895.3h.01M1275.8 712.7h.01M888.2 1200.2h.01M1325 1070h.01M1060.9 277.2h.01M613.7 556.7h.01M1434.5 1033h.01M1319.7 1131.9h.01M1324.7 582.9h.01M1275.6 532.6h.01M1504.2 789h.01M1288.1 531.8h.01M1471.6 1033.4h.01M1597.5 1029.9h.01M1080.1 705.5h.01M991.9 1149.4h.01M1328.5 812h.01M1496 1147.9h.01M1300.4 950.1h.01M1320.7 903.7h.01M1411.3 1014.2h.01M1057.1 248.7h.01M1629.8 954.4h.01M1339 722.2h.01M1255.4 359.9h.01M1383.9 1081.9h.01M1477.8 1001.3h.01M1499.6 1115.6h.01M528.9 776.8h.01M1274.5 405.8h.01M1290.3 539.6h.01M1295.6 789.8h.01M1438.3 850.8h.01M1552.9 1001h.01M1299.8 1035.4h.01M1463.2 867.8h.01M602.3 814.2h.01M1233.1 906.5h.01M997.1 341.4h.01M1337.7 688.1h.01M1114.2 423.1h.01M1387.9 724.6h.01"/>
<path stroke="#61197f" d="M1186.7 424.2h.01M1308.6 527.8h.01M1699.1 884.3h.01M1554.1 1093h.01M1244.8 1088.3h.01M1315.5 619.3h.01M1388.9 860.2h.01M1510.9 875.5h.01M682.8 567.4h.01M1228.9 466.4h.01M1435.6 1077.9h.01M1480.8 1004.7h.01M1184.7 390.1h.01M1607.6 871.4h.01M1606.2 877.7h.01M893.1 1186.6h.01M1536.5 902.9h.01M1679.2 892.7h.01M1274.4 693.2h.01M1338.3 798.3h.01M1282.9 685.4h.01M1483.4 914.7h.01M1315.5 905h.01M669.9 733.5h.01M1359.9 979.1h.01M1417.6 1119.3h.01M1383.5 860.4h.01M1447.4 928.2h.01M1295.5 601.6h.01M1071.7 753.3h.01M1583.7 1029.2h.01M1625.7 937h.01M1531.2 1013.8h.01M1498 823.2h.01M1285.5 991.4h.01M1031.5 267.1h.01M1308.3 409h.01M1348.1 931.4h.01M1352 873.1h.01M1553 904h.01M883.8 1193.9h.01M1322.7 817.9h.01M1326.4 792.3h.01M685.6 554h.01M1451.9 1006.5h.01M1638.3 996.2h.01M1343.1 958.1h.01M1047.4 941.3h.01M937.3 1185.5h.01M1100.6 386.2h.01M598.4 851.1h.01M1239.5 364.7h.01M1524.1 1075.4h.01M1328.1 1080.6h.01M1242.9 1081.8h.01M1350.9 895.9h.01M1422.9 980.3h.01M934 1181.3h.01M1412 901h.01M603.7 758.5h.01M1306.7 647.3h.01M1005.3 1158.6h.01M1295.8 764.9h.01M1162.2 1016.8h.01M1529.7 1040.3h.01M1373.3 975.5h.01M1311.5 564.3h.01M846.3 1162.7h.01M1630.9 1024.1h.01M1571.5 907.8h.01M1520.1 905.1h.01M1253.4 468.9h.01M1513.2 782.5h.01M1468.8 947.1h.01M1495.1 818.6h.01M1507.6 850.1h.01M1484.5 960.7h.01M1438.1 993.2h.01M1306.7 946.2h.01M1207.4 897.8h.01M1497.3 923h.01M1246.3 1041.9h.01M1342.9 986h.01M600.4 708.4h.01M1540.2 870.2h.01M1171.3 444.2h.01M1118.8 425.4h.01M1071.6 1091.9h.01M1225.9 1071.3h.01M1539 997.5h.01M1569.5 904.6h.01M860.4 1170h.01M1308.6 950.6h.01M1185.4 436h.01M1391.9 1067.1h.01M1288.2 550.2h.01M1331.5 713.2h.01M1224.5 385h.01M1480.2 795.9h.01M1233.2 1100.4h.01M669.8 597.7h.01M1529.2 972.9h.01M1272 910.9h.01M1332.6 921.9h.01M1424.4 1039.8h.01M621.2 534.2h.01M981 1172.8h.01M890.3 1182h.01M1507 1028.4h.01M1491 938.1h.01M1117.8 1046.9h.01M1317.1 819.5h.01M1356.1 1006.6h.01M1098.8 275.5h.01M1381.9 1049.5h.01M1164.8 522.5h.01M1197.1 478.7h.01M1534.4 879.2h.01M1027 283.9h.01M1316.8 986.2h.01M1538.1 874.2h.01M1488.7 992.4h.01M1260 548.4h.01M1576.6 1042.2h.01M490 1057.9h.01M1255.8 445.3h.01M1259.4 612.7h.01M1275.5 663.9h.01M1350.7 943.3h.01M1099.6 931.7h.01M1333.2 935.6h.01M588 846.2h.01M618.1 813h.01M1396.2 676.2h.01M1560 968.2h.01M1178.2 403h.01M1437.8 1037h.01M1337.4 629.8h.01M378 676.4h.01M1013.7 402.7h.01M1364.8 990.3h.01M868 1201.9h.01M1408.3 1003.3h.01M1625.8 970.7h.01M1354.3 691.2h.01M1343.2 758.5h.01M1492.2 1109.1h.01M1274.1 904.1h.01M1338.7 942.2h.01M1114.7 291.3h.01M1423.2 1109.3h.01M1419.7 1085.9h.01M1387.8 792.1h.01M973.9 664.6h.01M1135.7 347.4h.01M1427.6 843.8h.01M1311.9 1020.3h.01M1415.7 920.2h.01M1283.5 455.7h.01M1377.4 875.1h.01M1335.8 1017.9h.01M934.6 677.2h.01M1286.2 1092.4h.01M1437.4 1122.6h.01M1017 694.1h.01M1264 338.4h.01M1304.6 677.5h.01M1419.3 980.5h.01M1316.1 1000.7h.01M1585.1 893.9h.01M1488.3 1012.8h.01M1400.4 879.8h.01M1537 1068.3h.01M1363.8 963.5h.01M1603.1 953.9h.01M1106.2 253.7h.01M1214.1 526.4h.01M1165.9 1114.5h.01M1328.7 702.3h.01M1394.9 1064.6h.01M1310.9 525.9h.01M1423.2 988.5h.01M1335.9 615.2h.01M1291.2 599.3h.01M1217.3 494.6h.01M1480 1130.8h.01M1599.4 1016.9h.01M1065.1 738.9h.01M1340.4 812.1h.01M863.8 374.9h.01M1518.2 865.6h.01M1335.8 808.6h.01M1373.1 1042.2h.01M1444.3 904.7h.01M1333.4 745.2h.01M1438.6 913.8h.01M1422.1 866.8h.01M1457.7 957.1h.01M1441.3 876.1h.01M1491.9 857.7h.01M1464.4 962.6h.01M1114.5 287.5h.01M1305.8 1011.8h.01M613.6 664.1h.01M992.6 1177.2h.01M1049.4 356.3h.01M1618.9 958.3h.01M1319.1 585.1h.01M1472.8 909.2h.01M1552.6 857.9h.01M667.7 721.8h.01M1413.6 874.8h.01M1504.5 798.6h.01M1319.9 989.7h.01M1578 1009.4h.01M1298.6 1006.6h.01M1514.3 975h.01M1556.2 1033.1h.01M1372.2 887.9h.01M1300.4 780.3h.01M1535.6 1042.5h.01M1360.7 968h.01M1570 885.9h.01M1299 361h.01M951.9 1168.4h.01M1297.3 1021h.01M1134.6 1099.2h.01M1437.1 666.4h.01M1523.7 855.1h.01M1285.9 779.2h.01M1500.4 944.9h.01M1410.5 864.1h.01M1386.5 1008.2h.01M1378.5 984.2h.01M1616.3 1008.1h.01M1307.1 458.3h.01M1347.6 879h.01M1286.5 912.7h.01M1304.8 532.4h.01M972.2 1169.7h.01M1295.7 997.5h.01M1555.3 915.2h.01M1457.7 1006.3h.01M536.8 770.2h.01M1309.6 821.4h.01M1301.8 814.8h.01M1505.9 815.7h.01M1365.2 971.8h.01M1083.4 1060.8h.01M1348.7 1011.5h.01M1403.4 883.9h.01M1467.2 1065.7h.01M1214.8 294.4h.01M1252.8 580.5h.01M1377.9 1068.2h.01M1377.9 970.4h.01M1055.5 934.2h.01M1427.1 941.7h.01M1437.2 897.7h.01M1427.8 1116.7h.01M1528.5 1021.7h.01M1600.5 958.4h.01M1405.9 904.8h.01M1443.7 1021.2h.01M650.2 724.4h.01M1412.8 1046.2h.01M754.8 330.7h.01M1606.1 907.6h.01M1543.1 1079.3h.01M1644.6 938h.01M1318.2 808.5h.01M1305.5 1098.5h.01M1087.5 1063.3h.01M1321.3 618.7h.01M1302.2 653.3h.01M1528.5 1059h.01M1275.9 545.5h.01M1155.8 387.9h.01M932.4 680.2h.01M1415.8 868.7h.01M1103.9 405.9h.01M1326.1 880.1h.01M1433.1 953.8h.01M1332.6 1033.1h.01M1345.9 942h.01M1313.7 939.8h.01M984 307.9h.01M1492.6 944h.01M1300.4 936.6h.01M1294.5 1106.1h.01M1528.5 950.4h.01M1575.5 902.5h.01M1427.4 854.9h.01M1422.8 948.1h.01M1070.8 712.8h.01M1356.1 1072h.01M1068.6 253.3h.01M1611.2 955h.01M1442.9 745.1h.01M1031.5 697.5h.01M1357.3 909.8h.01M1266.3 983.6h.01M1366.8 879.5h.01M1529.9 963.1h.01M1295.7 681.5h.01M1105.8 419.4h.01M1319.8 606.4h.01M1045.9 332.7h.01M1244.6 760.3h.01M556.9 762.8h.01M1272.2 985.4h.01M1362.3 1043.2h.01M1448 990.2h.01M1264.7 1066.7h.01M1452.4 860.5h.01M1328.5 970.4h.01M1263 646.7h.01M1446.6 920.5h.01M1067.6 740.1h.01M1300.4 459.4h.01M1465.5 897.1h.01M1385.5 941.5h.01M1070.2 956.5h.01M1277 729.3h.01M1555.4 887.4h.01M1443 1040.5h.01M731.4 641.9h.01M1084.2 929.6h.01M1341.6 1014.1h.01M1317.3 553.6h.01M1437.4 946.9h.01M1451.1 1025.2h.01M1448.6 1064.2h.01M1260.8 386.1h.01M1141.6 506h.01M1363.5 695.5h.01M1405 659.2h.01M1429.7 928.6h.01M1149 352.7h.01M1362.5 906.8h.01M1210.6 1051.8h.01M1290.4 646.3h.01M1268.5 650.1h.01M1358.5 1019h.01M1444.5 1010.3h.01M1295.5 1043.8h.01M739.9 628.5h.01M1384 981.9h.01M1396.4 666.6h.01M1426.3 901h.01M1523.2 937.4h.01M1129.7 405.6h.01M1101.2 1056.7h.01M1362.7 1016.7h.01M1540.5 965.5h.01M1442.6 955h.01M1356.3 789.9h.01M1244.4 781h.01M1310.1 941.1h.01M1080.6 942.8h.01M724.3 630.3h.01M1069.5 262.3h.01M1483.7 875.7h.01M894.8 1178.7h.01M1382.7 1077.8h.01M600 763.5h.01M1306.5 972.1h.01M1378.8 1055.3h.01M1367.1 872.1h.01M1140.1 341h.01M745 338.5h.01M994.8 343.8h.01M677.3 733.9h.01M1113.8 1036.5h.01M1519.4 993.8h.01M1339.3 701.5h.01M1531.8 933.6h.01M1493.4 921.9h.01M1579.6 953.9h.01M1301.4 643.7h.01M1321.6 756.2h.01M1085.6 291.3h.01M1437.3 1026.9h.01M1194.7 529.3h.01M1047.5 925.8h.01M1449.5 727.9h.01M1269.7 550.9h.01M1455.3 863h.01M1352.7 951.9h.01M1244.6 1055.8h.01M1456.6 867.8h.01M1390.2 855.9h.01M1704 936.8h.01M1114.8 284.4h.01M1583 848.9h.01M1329.4 1076h.01M1541.8 995.7h.01M1045.3 928.2h.01M875.1 1172.7h.01M1481 809.7h.01M1328.1 988.2h.01M1398.7 806.8h.01M1334.1 650.4h.01M1110.4 1083.7h.01M1343.4 1019h.01M1336.7 634.6h.01M826.7 343.2h.01M1337.1 717.1h.01M1323.3 887.4h.01M1262.5 344.4h.01M1426.4 1069.5h.01M1410.3 894.3h.01M1321 801.5h.01M1324.3 1021.6h.01M1111.1 931.5h.01M1310.2 1058.9h.01M545 726.5h.01M1325.2 598.5h.01M1388.1 1038.8h.01M1337.8 911.1h.01M915.8 1185.5h.01M1143.4 952.9h.01M1272.6 699.9h.01M1482 924.3h.01M619.3 754.2h.01M1347.1 676.4h.01M1700.7 894.7h.01M1502.8 956.3h.01M1043.2 1141.5h.01M899.7 1182.2h.01M1654.6 968.3h.01M1642.4 1003.3h.01M714.7 631.2h.01M1480.5 802.1h.01M1077.7 933.4h.01M1432.4 1061.4h.01M1183.6 338.2h.01M621.5 805.7h.01M1284.5 644.6h.01M659 721.6h.01M1367.2 887.3h.01M964.7 301.6h.01M1321.4 1071.2h.01M1331.9 948.9h.01M1073.7 300.8h.01M1460.1 979.4h.01M1238.7 779.8h.01M1647.1 979.1h.01M817.8 314.5h.01M937.5 292.1h.01M1522 919.8h.01M1396.3 991.3h.01M1141.1 394.8h.01M1131 323.4h.01M1301 808.3h.01M1637 934.6h.01M1333.5 1053.4h.01M1348.2 991.1h.01M1490.3 879.3h.01M791.9 306.1h.01M1478.7 938.9h.01M1301.4 914.2h.01M1192.6 514.3h.01M1423.5 884.8h.01M1185.1 881.4h.01M1488.7 760.3h.01M1263 912.1h.01M1295.3 498.4h.01M1275.4 537.8h.01M1134.3 413.7h.01M1453.5 1048.6h.01M1071.8 343.7h.01M1344.7 621h.01M1170 799.2h.01M1165.8 806.3h.01M1158.3 807.5h.01M1154.2 825h.01M1170 826.7h.01M1152.5 835.8h.01M1194.7 830.8h.01M1135.8 719.7h.01M1167.8 731.7h.01M1095 894.6h.01M1096.7 963.5h.01M1112 964h.01M1131 968h.01M1132.6 981h.01M1078.5 982.5h.01M1162 992h.01M1191.5 1002.7h.01M1218 1007h.01M1218 1013h.01M1148 965.8h.01M1158 960h.01M1170.7 1015h.01M1179.6 1010h.01M1196 1010h.01M1206.7 1027h.01M359.5 623.5h.01M357.5 632h.01M353 636.5h.01M355.5 644.5h.01M624.3 533h.01M760.7 624h.01M764.7 624.5h.01M695 630h.01M743.3 617.5h.01M741 621.5h.01M534.4 796h.01M519.7 782.3h.01M569 788h.01M589 792h.01M580.2 807.2h.01M458 1031.3h.01M531 1007.3h.01M915 647.5h.01M1078 745.5h.01M1081 744.5h.01M934.5 1172.5h.01M859.6 343h.01M1352.7 995.8h.01M1335.2 668h.01M1314.9 561h.01M570.3 836.1h.01M1272.6 773.2h.01M1506.3 1116h.01M1129.3 431.4h.01M603.4 843.4h.01M1247.5 757h.01M528.7 771.9h.01M1234.3 343.8h.01M1301 724h.01M1453.1 833.7h.01M1571.4 1025.8h.01M1324.6 799.2h.01M971.7 1159.5h.01M1338.6 831.4h.01M1454.3 791.1h.01M665.4 730.3h.01M1656.9 990.1h.01M1227.9 1107.4h.01M1317.9 781.9h.01M1553.7 955.1h.01M1236.2 1082.9h.01M1367.8 914.5h.01M1219.7 535.9h.01M1462.8 1024h.01M1374.5 1119h.01M1087.5 260.7h.01M1316 894.2h.01M1289.9 735.2h.01M537.7 755h.01M1480.6 1027.8h.01M1615.4 955.6h.01M1023.4 1159.5h.01M1354.9 986.5h.01M1079.9 923.3h.01M792.4 311.1h.01M1471.5 1051.4h.01M1449.9 697.3h.01M1453.9 1065.1h.01M668.7 729.2h.01M1359 1014h.01M1535.7 1011.7h.01M1340.3 1033.5h.01M1281.3 1088.5h.01M486.1 1103.5h.01M1308.9 700.6h.01M648 715.7h.01M1065.5 318.5h.01M1312.3 771.9h.01M1282.6 1072.9h.01M1409.8 846h.01M1428.1 1027.7h.01M1142.9 945.3h.01M1410.6 998.6h.01M1323.7 696.4h.01M1501.4 1046.1h.01M1307 895.8h.01M1193.8 492.9h.01M676.7 589.2h.01M1473.5 972.9h.01M995.4 1173.8h.01M1444.7 843.9h.01M940.8 1171.6h.01M1439.8 1100.8h.01M1419.4 728.8h.01M1254.7 495h.01M1123.4 1055.8h.01M705 637.1h.01M1320.9 1007.5h.01M1337.6 749.5h.01M1307.9 794.8h.01M1417.6 1022.7h.01M1317.5 1026.9h.01M1452.1 908.6h.01M1463 1065.3h.01M1207.3 1083.5h.01M1583.6 1036.9h.01M1551.1 949.8h.01M1408.2 1027.6h.01M1321.3 898.9h.01M1486.5 1047.4h.01M589.8 672.6h.01M1456.9 786.3h.01M1171.5 470.5h.01M1408.1 954.2h.01M1167.5 478.5h.01M796 320.2h.01M1319.2 601.4h.01M1306.5 909.7h.01M1314 1023.9h.01M1253.7 749.9h.01M1306.3 1044.5h.01M564.1 774.3h.01M1325.6 573.5h.01M1226.3 332.2h.01M653.8 725.9h.01M1195.7 377.1h.01M1049.6 366.9h.01M1523.4 912.7h.01M1310.3 691.2h.01M1286.5 1110.2h.01M1561.4 946.9h.01M1027.8 350.7h.01M1387.9 989.1h.01M658.8 730.7h.01M681.7 738h.01M974.8 427.7h.01M596.2 599.7h.01M1314.6 575.1h.01M1431.3 671.9h.01M1288.7 812h.01M1296.7 728h.01M1523.5 889.5h.01M1453.7 1011.3h.01M1544.5 871.2h.01M1679.7 924.4h.01M1323.6 775.5h.01M1331.1 630h.01M1590.6 1080.9h.01M1482.2 843.5h.01M1461.8 1142.2h.01M1314.6 774.3h.01M1125.4 273.1h.01M1371.7 857.5h.01M1366.7 932.4h.01M1690.7 881.9h.01M1255.1 1113.7h.01M522.9 1036.2h.01M1559.5 960.5h.01M1356.8 1076.4h.01M1432.2 1074.9h.01M1390.1 993.7h.01M1194.9 461.5h.01M1473.1 1038.1h.01M1388.2 932.5h.01M1083.8 259h.01M585.5 849.1h.01M576.7 705.5h.01M1407.6 985.6h.01M1354.5 834.6h.01M1323.4 1032.8h.01M1330.5 616.8h.01M1457.7 1018.3h.01M1264.8 961.1h.01M1464.1 885.5h.01M1163 1038.5h.01M1307 1068.6h.01M638.3 718.1h.01M1363.6 1007.3h.01M1242.8 1119.8h.01M1333.8 972.9h.01M1376.9 732h.01M1679.5 906h.01M1530.6 1150.1h.01M1260.7 752.4h.01M1094.7 376.5h.01M1619.9 1038.1h.01M1410 717.3h.01M1179.6 546.8h.01M1218.8 1067.6h.01M1163.3 283.9h.01M1107.8 292.7h.01M1301.9 765.6h.01M630 716.7h.01M1220 953.1h.01M1418 1027.7h.01M1289.2 775.9h.01M1328.4 1020.1h.01M1298.6 735.2h.01M1322.1 689.5h.01M1297.9 939.1h.01M1414 674.3h.01M1566.3 994.1h.01M1264.5 741.1h.01M1159.4 479.8h.01M1423.4 1004.8h.01M1149.3 317.2h.01M1480.2 1045.2h.01M1233.5 437.6h.01M1330.9 1062h.01M1468 983.4h.01M1536.3 1007.1h.01M972 363.2h.01M1631.5 935.1h.01M1517.7 1170.5h.01M1310.6 797.7h.01M1382.1 1065.5h.01M1412.2 933.2h.01M1516.6 1017.1h.01M1447.7 1008.9h.01M1337.4 1075.4h.01M1274.8 1048.7h.01M1357.9 957.2h.01M480.6 1099h.01M1428 1073h.01M616.6 746.4h.01M1092 931.5h.01M423.8 760.9h.01M1483 1025.4h.01M1291.4 653.4h.01M1423.4 923h.01M1424.1 972.3h.01M1220.3 1061.8h.01M1453 929.7h.01M1126.9 937.2h.01M1377.4 901.3h.01M1619.4 853.9h.01M1325.5 820.5h.01M1320.8 907.4h.01M1358 995.1h.01M1066.3 264.4h.01M1575.3 962.7h.01M1248.1 1080.5h.01M1298.8 1030.6h.01M1438.8 699.9h.01M1061.5 946.9h.01M1413.4 1098h.01M1308.3 636.5h.01M1065 351.3h.01M1231.6 1040.1h.01M1457.4 1115.4h.01M1350.3 948.8h.01M1387.7 1099.9h.01M1341.2 1101.6h.01M1463.3 858.5h.01M1358.4 886.6h.01M1493.2 1142.5h.01M1513.4 889h.01M606.6 641.5h.01M1479.6 1069.8h.01M1295.4 465.3h.01M1277.8 646.8h.01M1364.1 1093h.01M1334.7 767.8h.01M1472.8 776.9h.01M1415.6 845.2h.01M1253.6 1033.3h.01M1468.3 1002h.01M1568.2 1087.9h.01M1067.4 751.2h.01M1338.7 886.7h.01M1406.3 1080.9h.01M1265 735.3h.01M1188.9 382.9h.01M1426.8 962.6h.01M1673.7 987.9h.01M1397.7 867.1h.01M557.6 774.7h.01M1430.6 833.1h.01M1390.2 1053.1h.01M477.8 1068.3h.01M1263.4 1114.5h.01M1357.2 1010.2h.01M1195.8 540.5h.01M1374.3 880h.01M1620 922.8h.01M833.8 337.4h.01M1326.7 1009.3h.01M1434.1 904.2h.01M1185.1 500.7h.01M1054.3 345.1h.01M630.1 721h.01M1271.8 452.7h.01M1544.9 879.1h.01M1229.6 926.1h.01M1444.7 1089.8h.01M1042 701.1h.01M1028.2 718.1h.01M1058.2 236.2h.01M1492.6 1062.9h.01M1480.2 1165.5h.01M1321.7 1062.6h.01M1362.6 704.6h.01M1323.7 1083.8h.01M1494 912.1h.01M1355 878.8h.01M479.4 1107.3h.01M1185.1 1039.4h.01M1536.1 993.9h.01M1601.3 923.9h.01M1302.3 1006.6h.01M1352.1 958.1h.01M1496.4 968.3h.01M1330.8 965.3h.01M660.4 736.8h.01M1133.5 382.6h.01M1563.9 861.8h.01M1317.2 918h.01M718.5 610.8h.01M1353 661.8h.01M1395.2 888.7h.01M1465.8 1069.4h.01M1330.8 720h.01M1415.7 897.4h.01M855.7 1171.7h.01M1393.7 851.9h.01M1320.1 761.5h.01M1369.2 971.6h.01M1426.3 1018.1h.01M1084.1 276.2h.01M1156 267.8h.01M1287.2 881.7h.01M1408.5 976.8h.01M483.8 1067.6h.01M1153.8 258.9h.01M1394.8 922.2h.01M1281.9 790.7h.01M1568.2 846.6h.01M1159 1117.4h.01M1281.7 663.8h.01M1011.1 686.7h.01M1310.6 904.1h.01M1436.8 1072.5h.01M955.1 1169.9h.01M1454.3 952.4h.01M1558 963.3h.01M1548.9 865.4h.01M1334.8 791.2h.01M1278.8 737.3h.01M614.9 751.9h.01M1329.6 1003.2h.01M1232.9 417.9h.01M1579.3 947.3h.01M1390.5 673.7h.01M1297.5 746.7h.01M1465.1 988.6h.01M1433.5 926h.01M1323.7 750.7h.01M588.6 759h.01M1591.8 903h.01M1444.5 1101.4h.01M1304.4 656.5h.01M1236.2 375.9h.01M1357.9 941h.01M1235.7 487.9h.01M1449.2 835.1h.01M1164.7 429.2h.01M1447.9 900.3h.01M620.9 785.5h.01M1289.3 720.8h.01M1401.4 957h.01M1177.7 274.3h.01M1301.6 939.7h.01M1313 511.7h.01M1325.1 897.5h.01M1316.5 595.2h.01M862.6 1179.9h.01M1449.4 1100.2h.01M822.6 338.4h.01M1119.6 1032.2h.01M1563.1 1004.3h.01M1431.7 891.3h.01M1200.2 494.2h.01M568.6 754.2h.01M550.7 776.7h.01M1387.9 707.2h.01M1401.4 952.5h.01M1589.6 941.7h.01M1359.9 1083.6h.01M1263.1 452.1h.01M672.3 736.7h.01M1189.8 390h.01M1155.2 424.9h.01M884.8 1177.7h.01M764.9 330.6h.01M1368.9 948.5h.01M1335.6 721.8h.01M1312.5 920.9h.01M1355.7 929.5h.01M1111 305.4h.01M1318.8 651.6h.01M1338.2 953.9h.01M1316.2 541.9h.01M643 714.3h.01M1322.4 1124.1h.01M1367.2 920.1h.01M1313.7 1030.2h.01M1415.3 1082.2h.01M1240.9 1061.6h.01M572.2 848.7h.01M1461.2 953.5h.01M1298.9 903.4h.01M1088.3 942.5h.01M1379.8 1022.9h.01M608.4 837.8h.01M528.9 1162.3h.01M1462.9 910.9h.01M1075.5 1099h.01M1511.9 884.9h.01M1334.8 619.8h.01M1307.3 994h.01M1326.5 607.8h.01M1280.8 538.6h.01M1422.9 1118.2h.01M1305 950.3h.01M1066.8 338.6h.01M1523.4 1157.2h.01M1131.3 422.3h.01M1390.9 1070.5h.01M1371.7 1131.8h.01M1346.6 692.8h.01M842.9 364.1h.01M1397.5 873h.01M1168.9 873.5h.01M991.4 333.1h.01M1408.6 1091h.01M1210.5 901h.01M1593.4 885.1h.01M1579.2 986.3h.01M1309.3 1118.3h.01M1117.9 361.8h.01M1180.3 1108h.01M1342.7 875.6h.01M926.1 1176.5h.01M883.5 388.3h.01M1062.6 699.9h.01M1408.7 1166.4h.01M1333.6 885.8h.01M1293.6 785.6h.01M1707.4 890.8h.01M1397.7 802.2h.01M1340 915.9h.01M1261.1 1044.9h.01M1416.3 699.8h.01M1211.1 536.9h.01M1137.1 1039.9h.01M1268.2 328.8h.01M1389.7 919.6h.01M1503.1 847.4h.01M1287.5 784.9h.01M1045.7 252.7h.01M1307 591.4h.01M1420.3 782.2h.01M1397.6 1046.2h.01M1669.4 957.8h.01M1307.2 433.4h.01M853.6 1154.5h.01M1075 754.4h.01M1501.5 826.3h.01M1447.5 827.2h.01M1332.7 603.1h.01M1269.4 597.9h.01M1266.1 415.5h.01M1403.2 1133.7h.01M1386.4 1103.3h.01M679.9 740.1h.01M1475.2 1080.4h.01M1392.2 872h.01M1609.9 968h.01M1349 1031.3h.01M1616.6 1022.4h.01M1596.5 921.9h.01M1318.2 614.8h.01M1359.6 1098.6h.01M975.3 306h.01M1000.1 1147.1h.01M1330 926.2h.01M1383.4 1040.2h.01M874.9 1202.1h.01M1476.3 1023.4h.01M1415.9 884.8h.01M1513.4 960.6h.01M960.6 277.5h.01M1304.6 982.4h.01M714.5 636.5h.01M1044 922.6h.01M617.8 796h.01M469 711h.01M1281.2 1041.4h.01M1530.7 910.7h.01M1693.7 931.2h.01M1501.2 1081.6h.01M1365.7 1097.5h.01M1435.7 889.1h.01M1507.5 1048.3h.01M1062.6 315.6h.01M1352.5 683.6h.01M939.7 1175.9h.01M1501.3 904.9h.01M1403.2 1092.8h.01M1376.9 721.1h.01M1494.2 939.3h.01M1392.5 1026.6h.01M1403.8 749.3h.01M1072.9 338.8h.01M1001.2 1138.7h.01M1121.7 934.8h.01M1340.9 659.9h.01M1482.6 817.7h.01M1506.8 1160.1h.01M1292.6 769.4h.01M496.7 1050.5h.01M1291.3 1046.5h.01M1507.2 830.8h.01M1462.7 1042.5h.01M935.9 679h.01M1149.5 417.4h.01M1325.8 639h.01M1294.8 459.1h.01M1316.9 900.4h.01M1359.9 1005.9h.01M1388.2 1033.5h.01M1071.3 743h.01M1076.2 406.4h.01M1270.5 667.2h.01M1582.9 984.6h.01M1443.3 878.6h.01M1600.4 908.6h.01M617.8 781.8h.01M1455.7 937.2h.01M1295.3 947.1h.01M1270.9 661.4h.01M1158.8 286.2h.01M1098.8 1053.2h.01M1598.2 993.5h.01M1054 1074.9h.01M675.9 584.8h.01M1280.9 1056.6h.01M610.6 667.2h.01M1500.9 814h.01M1074.1 934h.01M1266.4 1051.5h.01M558.3 855.8h.01M1566.7 858.2h.01M1317.6 775.2h.01M1425.3 893.4h.01M1384.9 1144.9h.01M1275.8 1070.3h.01M1455 1175.7h.01M1334.4 910.9h.01M1596.2 883.5h.01M1368.1 940.4h.01M1519.9 972.8h.01M1458.4 741.5h.01M1478.2 1064.9h.01M1265.6 893.4h.01M1426.7 864.6h.01M1417 1135.2h.01M1680.2 888.2h.01M1429.9 1140.9h.01M1592.7 1006.5h.01M1357.5 926.1h.01M1066.3 702.6h.01M1470.2 936h.01M1339.9 1001.8h.01M1493.6 917h.01M1069.6 749.5h.01M1296.3 628.3h.01M867.6 1206.5h.01M1320.8 347.8h.01M1382.2 1099.1h.01M1583.2 1106h.01M1080 286.6h.01M1368.8 783.4h.01M1513.8 932.6h.01M1502.8 833.8h.01M1675.2 881.8h.01M1404.8 798.5h.01M1526.4 1124.4h.01M1386.2 907.6h.01M1245.6 288.2h.01M1330.4 740.8h.01M1481.2 934.3h.01M1299.9 994.6h.01M1255.1 762.2h.01M562.3 758.5h.01M1455.9 797.4h.01M1461.1 1036.8h.01M1284.1 766.5h.01M1415.2 902.4h.01M627 681.2h.01M1336.3 762.6h.01M1634.2 870.7h.01M1413 1141.5h.01M911.3 272.4h.01M1304.3 941.7h.01M1381 686.7h.01M1344.5 753.3h.01M1428 915.7h.01M1486.1 952.1h.01M840.9 358.6h.01M1332.7 978h.01M1430 1039h.01M674.9 738.2h.01M1539.3 1032.5h.01M1452.1 948.4h.01M1330.5 1011.8h.01M1550.6 1038.1h.01M1483.5 1033.3h.01M1648.8 951.3h.01M1466.9 1049.7h.01M856.5 1182.3h.01M1069.2 276.4h.01M1121.6 1051.2h.01M1321.8 655h.01M1415 1163h.01M1338.2 803.3h.01M879.9 1201.7h.01M1401.9 686.7h.01M620.6 802.5h.01M1306.7 421.6h.01M1659.2 939.4h.01M1310.9 663h.01M1201 370.3h.01M1463.8 918.8h.01M1709.2 887.6h.01M1426.5 1111.2h.01M1068.9 408.8h.01M1562.9 1027.6h.01M1369.1 908.2h.01M1202.1 1099.8h.01M1426.9 933.3h.01M1043.5 1088.8h.01M1235.6 429.1h.01M594.6 758.1h.01M1175 435h.01M1442.6 888h.01M1192.5 1091.3h.01M1178.4 398.4h.01M1150.4 308.5h.01M1463.7 1098.9h.01M852.3 1173.1h.01M1185.9 381h.01M1410.1 1098.8h.01M609.4 767.1h.01M1187 1080.3h.01M1394.9 947.3h.01M1498.3 848.6h.01M1554.9 1057.9h.01M1445.7 980.1h.01M1606.8 969.3h.01M1603.6 1003.8h.01M1547.3 898.6h.01M647.8 720.6h.01M1325.5 803.1h.01M1103.6 940.7h.01M1661.3 957.5h.01M1346.7 1088.5h.01M1354.1 1096.9h.01M1504.9 1008.9h.01M1604 850.8h.01M1574.6 854.1h.01M1210.2 436.4h.01M1072.1 947h.01M1267.3 1093.1h.01M1515.3 873h.01M1331.4 804.6h.01M1300.8 490.6h.01M1045.5 1115.4h.01M1537.1 948.5h.01M1467.8 963.4h.01M1333.9 956.3h.01M1050.7 1118.2h.01M1338.2 672.3h.01M1335.5 1142.7h.01M1030.9 713.7h.01M1519.5 1002.4h.01M1070.1 361.4h.01M1263.5 1039.5h.01M619.9 772.8h.01M1370.5 765h.01M1291.9 1102.1h.01M1118.9 327.2h.01M1313.1 890.3h.01M1253.7 308h.01M1621.4 859.8h.01M1486.4 913.4h.01M1253.4 528.2h.01M1073.3 248.8h.01M1287.4 655.5h.01M1306.5 582.9h.01M985.2 1177.1h.01M1272.3 1060.7h.01M613.6 803.6h.01M1298.9 924.6h.01M1495 1022.4h.01M945.9 292.8h.01M1323 1066.5h.01M1466.8 1008.2h.01M539 778.6h.01M1486.4 1166.7h.01M1481.9 868.1h.01M1524.3 948h.01M1403.5 876.6h.01M1698 920.9h.01M1177.6 285.7h.01M1406.3 1057.6h.01M1442.1 911.4h.01M734.7 635.2h.01M1468.8 877h.01M1367.6 1044.2h.01M1491 821.1h.01M1483.7 791.5h.01M1546.9 1137.5h.01M1440.5 1086.4h.01M1426.5 905.3h.01M859.6 1164.2h.01M1402.8 1103.1h.01M1057.2 260.5h.01M1040.1 1149.6h.01M1500.1 930.9h.01M1237.7 276.9h.01M1011.8 1172.4h.01M1620.6 888.8h.01M1475 1034.7h.01M1374.1 1014.4h.01M1177.6 483.7h.01M959.1 1170.8h.01M650.4 730.8h.01M1009.3 344.2h.01M1350 954.4h.01M1434.9 900.2h.01M1353.2 1086h.01M1493 1010.6h.01M1007.4 1182.8h.01M565.8 864.6h.01M1322.9 1013.9h.01M1177.9 345.3h.01M1217.8 883h.01M1381.3 725.7h.01M1541.8 1107h.01M1227 1065.1h.01M1419.6 969.2h.01M686.3 547.9h.01M1318.4 664.5h.01M1568.4 989.5h.01M565.4 857.8h.01M503.8 1163h.01M1574.2 885.6h.01M1481.6 855.7h.01M1044.2 717.3h.01M1133.5 398.5h.01M1335.2 984.5h.01M1487.8 849h.01M1302.2 708.3h.01M1679.5 916.9h.01M1293.7 976.8h.01M1134.9 938.3h.01M627.4 799.3h.01M1643.1 967.7h.01M1295.7 706.4h.01M1345 1052.3h.01M619.7 816.5h.01M1129.4 1059.7h.01M1457.5 968.5h.01M1204.7 438.1h.01M987 1148.5h.01M1325.6 375.3h.01M1091.7 338.9h.01M1298 772.4h.01M1249.7 761.9h.01M1270 1041.1h.01M1537 956.4h.01M1272 533.4h.01M1400.5 848.5h.01M585.9 761.4h.01M1411.5 877.7h.01M1542.2 890.1h.01M1117.3 928.2h.01M1406.5 889.4h.01M1437.9 694.4h.01M1559.4 907.4h.01M1628.2 1021.4h.01M1456.2 942.8h.01M554.3 858.2h.01M1263.8 777.2h.01M1326.5 917.2h.01M1223.6 347.6h.01M1374.7 908.6h.01M1305.6 791.8h.01M1626.3 945.5h.01M1298 386.7h.01M1299.3 776.1h.01M1537.8 865.6h.01M1298.3 646.7h.01M1261.8 981.8h.01M1014.8 695.7h.01M1466.5 1055.2h.01M1336.3 586.1h.01M1275.3 784.9h.01M1473.9 860.4h.01M1421.5 935h.01M1310.9 351.1h.01"/>
<path stroke="#932b80" d="M1351.9 795.9h.01M1385 687.2h.01M905.1 1205.7h.01M614.5 784.8h.01M1436.4 847.9h.01M1316.5 1063.6h.01M1165.6 1109.8h.01M1325.1 1135.3h.01M1132.4 1061.7h.01M1345.2 1002h.01M1207.1 1087.7h.01M1301.8 1010.5h.01M1433.4 1040.3h.01M1536.7 841.1h.01M1213.7 1076.7h.01M1352.6 932h.01M1161.4 1110.3h.01M1018.3 1124.2h.01M1119.1 1036.6h.01M1284.9 514.5h.01M1012.8 1152.3h.01M1254 1063.9h.01M1359.7 1061.6h.01M1405.1 815.3h.01M446.4 725.2h.01M1424.4 687h.01M1313.2 1038.4h.01M1520.7 1104.6h.01M1367.4 1122.4h.01M1512.9 953.1h.01M1028.9 315.5h.01M1181.3 1089.5h.01M1094.7 1128.5h.01M604.3 654.9h.01M1313.8 650.7h.01M1130.2 1046.3h.01M1332.6 1019.9h.01M1553.7 1049.6h.01M1545.7 999.5h.01M822.1 288.9h.01M1068.3 1146.1h.01M1406.6 960.1h.01M1034.8 1159.1h.01M1240 1054.6h.01M1384.3 930.9h.01M1357.9 1090.9h.01M1036.9 1136h.01M1441.1 959.3h.01M1306.8 783.1h.01M1523.2 871.3h.01M892.5 1193.1h.01M1525.1 1098.2h.01M1077.5 921.2h.01M1332.4 969.9h.01M1338 986.4h.01M1129.3 480.8h.01M1183.3 269.4h.01M1056 947.8h.01M633.7 713.1h.01M1120.3 1080.2h.01M666.4 737.8h.01M1464.3 900.4h.01M1319.6 811.7h.01M1382.3 964.6h.01M1451.1 1020.8h.01M414.6 725.1h.01M1322.8 912.1h.01M1360.1 1029h.01M1303 1094.6h.01M592.3 654.2h.01M1311 671.3h.01M1088.6 1069.6h.01M1231.9 1085.3h.01M1320.3 1106.5h.01M1331.5 1127.9h.01M1433.2 854.2h.01M1263.8 664.3h.01M1236.7 1043.6h.01M1476.4 1124.6h.01M1313.9 957.5h.01M1595.7 1004.6h.01M1430.6 978.1h.01M1126.3 1066.7h.01M1621.8 1011.7h.01M1083.3 1076h.01M1533.8 1002.2h.01M1062.4 1143.6h.01M1297.9 985.4h.01M1422.3 1071.6h.01M1264.3 788.7h.01M606 670.5h.01M1230.4 362.9h.01M1084.8 935.2h.01M1507.4 943h.01M1066 961.9h.01M1346.1 1022.1h.01M618.4 645.6h.01M1389.1 939.8h.01M1289.9 474.7h.01M1145.6 1097.8h.01M1108.2 1073h.01M1334.9 918.4h.01M1069.9 1151.9h.01M1013.4 323.7h.01M1488.2 904.3h.01M1340.5 706.7h.01M1285.4 632h.01M1329.6 1025.7h.01M1694.1 887h.01M1235.3 1054.6h.01M1269 1078.3h.01M1413.9 891.3h.01M1305 1112.1h.01M1488.7 788h.01M1045.4 1111.5h.01M1406.5 939.8h.01M1108.7 1105.4h.01M1071 1079h.01M1064.3 1077.1h.01M1017.5 1140.5h.01M916.1 686.6h.01M1116.2 1084.2h.01M992.1 1180.9h.01M1266.1 1035.3h.01M1282.8 1082.8h.01M1261.5 535.6h.01M1093.2 923.8h.01M1589.1 873h.01M1306.4 933.5h.01M1514.4 994.4h.01M938.7 1180.2h.01M1438.2 979.1h.01M1335.8 597.9h.01M1448.4 861.7h.01M1286.2 1114.2h.01M1314.7 703.7h.01M1072.9 1086.5h.01M735.3 622h.01M1443 988.4h.01M1286.8 704.4h.01M1297.7 1109.3h.01M593.7 844.7h.01M1127.5 1073.4h.01M1487.9 1019.6h.01M1066.4 1082.3h.01M1338.7 879.1h.01M1103.4 1112.3h.01M1376.5 867.5h.01M1638.8 894.8h.01M1423.2 1009.4h.01M1412.7 1053.6h.01M1348.9 684.4h.01M1104.8 1058h.01M1332.5 1044.9h.01M1261.2 380.2h.01M1604 926.6h.01"/>
<path stroke="#a5317c" d="M1356.2 759h.01M1148.4 1083.7h.01M1330.2 776.2h.01M1077.7 946.1h.01M1504.9 927.2h.01M1301.9 737.3h.01M1294.6 1083.2h.01M1080 257.3h.01M1592.4 969.1h.01M1077 1140.2h.01M978 1158.1h.01M626.3 654.2h.01M1572.6 863h.01M1126.5 1106.8h.01M1302.6 648.9h.01M1106.1 1043.6h.01M1136.4 1094.3h.01M529.1 614.2h.01M1430.9 858.8h.01M667.3 585.1h.01M970.1 1165.6h.01M1067.2 1124.6h.01M1502.2 852.2h.01M613.7 658.1h.01M1468.2 925.9h.01M608.7 827.6h.01M1354.1 1018.2h.01M1121.5 1124.5h.01M1304 494.8h.01M1580.6 1080.5h.01M1364 1064.8h.01M1188.2 1093.2h.01M955.2 1164.7h.01M1288.7 435.1h.01M1434.8 950.2h.01M1398.1 1101.2h.01M1035.6 1140.9h.01M1378.4 942.3h.01M1207 310h.01M607.3 630.2h.01M1090.9 1097.5h.01M1358.7 617h.01M1175 770.3h.01M1166.7 818.3h.01M1159.2 825.8h.01M1105.8 894h.01M1103 958h.01M1106 960h.01M1109 962h.01M1129 974.5h.01M1117 976h.01M1093 978h.01M1081.4 982.5h.01M1079.6 1020.6h.01M1148 984.5h.01M1153 993h.01M1172 1002.7h.01M1185.6 1000h.01M1187 999h.01M366.3 631.5h.01M435 649.7h.01M446.8 650h.01M411.2 657h.01M448 638.5h.01M455 640h.01M497.8 687.8h.01M410.5 694h.01M497.7 688h.01M710.3 607h.01M733 620.5h.01M497.7 688h.01M558 685.5h.01M564.7 686.7h.01M639.7 639.6h.01M591.4 798h.01M550 852.8h.01M918 649h.01M1406.7 933.8h.01M1381.6 1013.9h.01M1061.8 957h.01M1137.3 1117.3h.01M1436.1 983.5h.01M1487.5 1083.2h.01M1612.5 873.3h.01M1129.9 1052.6h.01M1496.3 992.3h.01M1287.2 499.7h.01M1048.9 1088.8h.01M1255.9 1070.4h.01M1122.8 1117.5h.01M1309.9 531.8h.01M1068.8 1073.3h.01M1246.1 540.3h.01M1384.9 901.5h.01M583.8 678.9h.01M1433.6 1036.9h.01M983.2 1157.5h.01M1439.3 937.1h.01M1297.2 720.8h.01M868.7 292.3h.01M1204.5 1052.5h.01M575.6 673.6h.01M1299 650.8h.01M1317.5 438.7h.01M1297.9 654h.01M942.7 302.1h.01M1294.4 1073.7h.01M1549.3 996.5h.01M1062.4 1126.5h.01M1296.5 913.8h.01M1117.4 1098.3h.01M1546.6 1115.2h.01M1380 913.2h.01M563.2 855.3h.01M1461.2 947.4h.01M1404.1 999.3h.01M1403.9 1046.4h.01M623.2 746.2h.01M1106 1107.5h.01M1382.8 1148.4h.01M1247.7 777.8h.01M1439.9 759.2h.01M1449.3 1081.9h.01M670.3 576.9h.01M1415.5 955.4h.01M1050.2 1113.2h.01M1067.6 954.9h.01M1170.9 870.7h.01M1054 1130.4h.01M1017.1 1135.8h.01M1318.9 922.5h.01M1217.8 308.4h.01M951.2 1174.9h.01M565.8 694.4h.01M1477.4 1145.9h.01M1430.5 1045.2h.01M1369 975.6h.01M1270.5 1046.3h.01M1021 1105.9h.01M1355.1 975.3h.01M1330.2 879.6h.01M1413.7 695.4h.01M1278.5 786.9h.01M1310.7 593.4h.01M1364 927.3h.01M579.7 696.5h.01M1381.4 1129.1h.01M1093.2 1092.5h.01M445.8 678.8h.01M1100.3 1096.9h.01M1291.9 1109h.01M1350.5 877.1h.01M1339.5 893.1h.01M1339.2 590.7h.01M1334.7 610h.01M1530.7 859.7h.01M621.8 691.2h.01M1175.4 1105h.01M1436.8 676.2h.01M1291.5 639.4h.01M1294.7 898.7h.01M1575.6 864.9h.01M439.4 704.7h.01M1192.1 1054.3h.01M1503.2 1004.4h.01M1063 707.1h.01M1028.7 1097.9h.01M1221.7 1091h.01M997.1 1162.6h.01M1139.4 418.4h.01M618.2 662.6h.01M1508.3 888h.01M1014.3 1142.2h.01M1571.9 1002.9h.01M1444.3 861.7h.01M1075.6 956.8h.01M1442.8 973.3h.01M1057.3 721.2h.01M1355.3 904.5h.01M1302.7 394h.01M1510.8 819.6h.01M1322.8 706.6h.01M682.1 563.1h.01M1188.4 418.7h.01M1298.4 894.9h.01M1442.5 922h.01M987.2 1188.6h.01M626.8 671.3h.01M1502.4 1070.9h.01M1493.1 1049.7h.01M417.9 686.4h.01M1133.5 949.9h.01M1413.5 977.2h.01M1123.1 1083.4h.01M1406.3 741.9h.01M1054.1 1150.3h.01M1283.9 1096.1h.01M1457.8 831.7h.01M1629.1 961.7h.01M1473.4 887.5h.01M1249 894.7h.01M1527.1 960h.01M1270.7 690.7h.01M1167.2 1096.4h.01M1475.7 819.2h.01M1032.8 919.2h.01M1647 962.7h.01M576.5 867.1h.01M1114.8 475.9h.01M1299.4 695.4h.01M1586.4 882.4h.01M1213.3 1047.7h.01M1061 951.5h.01M1336.6 1007.3h.01M1474.8 1014.8h.01M1417.7 1016.2h.01M1301.2 795.3h.01M580.7 710.3h.01M601.3 658.2h.01M1471.2 1004.6h.01M1299.6 1071.3h.01M1092 1086.4h.01M1277.1 770.9h.01M1003.2 1171.9h.01M1517.3 918.9h.01M1107.9 1110.3h.01M1472.8 1028.1h.01M1523.8 1051.4h.01M1309.8 541.9h.01M1381.7 897.1h.01M440.9 726.3h.01M796.6 310.8h.01M1371.3 659.5h.01M1292.2 1016.1h.01M1475.9 926.8h.01M1448 856.9h.01M1597.9 903.2h.01M623.7 666.6h.01M851 1158.7h.01M1297.6 1002.6h.01M1568.7 1075.5h.01M1302.1 591.9h.01M1294.9 539.2h.01M1119.2 948.1h.01M1395.6 1105.1h.01M1501.5 1101.6h.01M1259.6 658.5h.01M607.1 834.1h.01M1175 1085.9h.01M1339.8 684.1h.01M1601 999.1h.01M1430.4 903.2h.01M1263.4 547.1h.01M1152.6 1093.7h.01M1262.2 746.3h.01M1245.7 765.8h.01M1265.1 1044.8h.01M807.2 309.1h.01M1270.9 537.5h.01M1031.5 304h.01M1583.3 1054.6h.01M1281.9 532.5h.01M1490.8 893h.01M1080.2 1095.2h.01M1428.5 693.9h.01M1363.6 957.7h.01M1337.1 664h.01M1132 1090.5h.01M1112.5 1079.1h.01M1150.2 1088.5h.01M1363.6 1024.9h.01M567.3 661h.01M1610.8 1008.1h.01M622.7 639.5h.01M456.2 746.9h.01M1105.7 1119.8h.01M1426 712.1h.01M1264 763.5h.01M1293.5 489h.01M1468.8 1111.4h.01M1106.3 1064.3h.01M1326.1 490h.01M1330.4 915.3h.01M1378.5 918.7h.01M605.7 684.8h.01M1303.4 698.4h.01M1348.5 703.4h.01M1170.2 1094.7h.01M1286.1 537.3h.01M1548.8 955.4h.01M1050.6 1084h.01M1426.5 922.2h.01M1260.5 1050.4h.01M1255 1054.4h.01M1245.3 954h.01M631 685.7h.01"/>
<path stroke="#c73e72" d="M956.3 650.4h.01M1072.7 937.4h.01M1498.9 1006.7h.01M1300.7 1089.6h.01M964.5 399.7h.01M1087.8 1077.1h.01M1114.1 1047.1h.01M1072.3 1127.6h.01M1299 945h.01M1297.5 1051.7h.01M1120.7 1104.1h.01M1104.3 1123h.01M1335.2 902.3h.01M1087.6 1101.3h.01M1098.4 1048.5h.01M1081.5 1101.5h.01M1304.5 962.4h.01M1042.5 1153.2h.01"/>
<path stroke="#d8466b" d="M1257.7 1074.8h.01M1077.2 1081.2h.01M1289.4 1096.4h.01M1403.2 1010.1h.01M1111.9 1119.5h.01M1037.7 1131.4h.01M592.8 839.7h.01M1056.1 1121.2h.01M1130.9 1108.7h.01M1461.3 848.6h.01M1313.9 1096.7h.01M433.2 756.2h.01M1041.8 1115.9h.01M1481.8 988.4h.01M1401.6 979.4h.01M1009.4 1143.1h.01M1405.8 773.7h.01M1083.8 954h.01M1003.5 1179.6h.01M1191.3 1110.6h.01M1308.5 761.8h.01M1276.5 1058.4h.01M1040.5 1128.2h.01M1221.2 1052.1h.01M1472.3 959.7h.01M1448.7 1029.6h.01M1084.7 1126h.01M813.6 328.2h.01M1013.9 1116.3h.01M1582.6 1015.1h.01M1011.7 1138.3h.01M1118.2 1075h.01M1195 1102.7h.01M1220.6 1057.5h.01M1281 525.5h.01M1115.5 1024.2h.01M1118 1121.5h.01M999.8 1153.7h.01M975.5 658.4h.01M1115.6 1054.8h.01M1111.4 1092.1h.01M1510.4 1010.2h.01M1113.5 1106.2h.01M1186.2 1098.5h.01M1124.9 1080.6h.01M563.4 633.8h.01M1247.8 1085.3h.01M1113 1098.2h.01M1029.5 1137.7h.01M422.3 735.6h.01M1369.7 747.4h.01M1152.1 1101.8h.01M1199.8 1091.5h.01M1340.3 898.4h.01M1018.1 1119.6h.01M1122 1058.9h.01M1179.5 1085h.01M1155.9 1113.4h.01M1131.7 1103.2h.01M1002.1 1175.3h.01M988 1162.8h.01M1104.7 1084.7h.01M1039.7 1110.7h.01M1402.6 854h.01M1303.3 900.6h.01M1037.4 1089h.01M1475.5 1018h.01M1239.5 1074.2h.01M1160.5 1098.9h.01M1114.2 1111.4h.01M1388.4 1005h.01M1084.1 1132.3h.01M1020.9 1128.3h.01M1105.3 1053.5h.01M1293 1090.8h.01M1250.7 923.4h.01M1109.5 1049h.01M1237.9 1097h.01M1240.9 1091.6h.01M1107.6 1080.4h.01M1065.5 1101.5h.01M1062.4 922.4h.01M1090.5 1074.9h.01M1324 623.8h.01M1108.2 1077.1h.01M1281.9 1112.7h.01M1096.5 1075.6h.01M1072 1075.3h.01M1251.6 1068h.01M1146.3 1118.7h.01M1051.6 946.1h.01M1205.2 1095h.01M1068.3 1086.5h.01M1169.5 1089.5h.01M606.3 813.6h.01M1061.9 1100.1h.01M1170 1083.5h.01M1115.8 1089.8h.01M1104 1080.9h.01M1104.1 1061.5h.01M1015.4 1158.2h.01M731.8 617.2h.01M1325.8 768h.01M1105.8 932.2h.01M1330.9 681.9h.01M1107.4 1091.5h.01M1165.2 1085.4h.01M1368.9 980.6h.01M991.6 1187.1h.01M1194.4 1078.6h.01M597 836.7h.01M1485.6 1100.5h.01M1321.5 595.9h.01M1269.9 1065.2h.01M1140 1113.4h.01M1114.8 1102.5h.01M1092.6 938.5h.01"/>
<path stroke="#e45365" d="M1099.4 417h.01M602.7 836.8h.01M1309.7 426.7h.01M611.2 603.8h.01M1057.1 1136.9h.01M1148.8 829.2h.01M1072 971.5h.01M1087 965h.01M1083 989.4h.01M1179.6 935.5h.01M1167 903h.01M1211.8 1014.6h.01M525.4 798.4h.01M1045 744.2h.01M629.1 777.3h.01M1094.3 1105.3h.01M1310.8 999.1h.01M1187.4 1074.3h.01M1305.1 607.2h.01M626.3 664.9h.01M1049.7 937.7h.01M1028.1 1116.4h.01M426.3 758.4h.01M1438.1 892.8h.01M1244.9 1098h.01M975.5 1162.1h.01M1394.3 1042.3h.01M1041.6 1106.4h.01M1139.1 344h.01M1200.6 1066.5h.01M1117.9 1065.1h.01M1095.5 1044.1h.01M1145.8 1087.9h.01M1336.4 772.9h.01M1453.1 743h.01M611.6 830.2h.01M1054.8 241.2h.01M1327.7 854.3h.01M1124.3 1111.1h.01M1159.9 1106.9h.01M1261.8 1055.5h.01M1113 1059.9h.01M1502.4 877.9h.01M1107.9 1115.8h.01M1134.3 1050.1h.01M977.7 263.4h.01M1017.7 1167h.01M1300.3 678h.01M548 612h.01M564 638.7h.01M570.4 643.7h.01"/>
<path stroke="#ef6360" d="M1126.1 1063.2h.01M1445.7 839h.01M1227.3 1052.7h.01M1054.1 1080.6h.01M1089.5 1129.5h.01M1117.2 1029h.01M1364.8 1046.1h.01M1230.3 1056.5h.01M1171.8 1100.1h.01"/>
<path stroke="#f8745d" d="M1058.7 1149.5h.01M1306.5 799h.01M1092.3 1081.5h.01M1080.3 1077.4h.01M1027.3 1134.1h.01M1072.4 1097.1h.01M1038.1 1102.2h.01M1100 1118.9h.01M1170.6 1112.3h.01M1019.8 1144.7h.01M1245.6 1109.5h.01M673.6 731.4h.01M1243.5 1103.6h.01M1059 1129.1h.01M616.4 820.2h.01M1075.7 1093.3h.01M628.9 791.2h.01M1224.6 1060.1h.01M1057.7 1125.1h.01M1485.9 831h.01M1262.9 1088.8h.01M1025.8 1152.9h.01M1185.3 1086h.01M1186.2 1107.2h.01M1326 664.7h.01M1238.4 1102.6h.01M1085.4 1096.7h.01M1076.3 1076.6h.01M1030.9 1142h.01M1176 1025h.01"/>
<path stroke="#fa8864" d="M1084.1 1082.4h.01M1075.4 1072h.01M1069.2 1142.3h.01M1050.9 1070.9h.01M1077.3 1134.7h.01M1063.4 1095.1h.01M1125.1 1076.9h.01"/>
<path stroke="#fd9b6c" d="M1116.1 1116.6h.01M450.5 641h.01"/>
<path stroke="#feaf79" d="M1089.3 1052.7h.01M1206.5 1098.4h.01M1120.7 1114.5h.01M1073 1135.5h.01M1162.1 1103.7h.01M1056 1112.8h.01"/>
<path stroke="#fec389" d="M1135.2 1112.1h.01"/>
</g>
<path d="M205.6 142.6V1302.4H1829" fill="none" stroke="#000" stroke-width="4.7" stroke-linecap="butt" stroke-linejoin="miter"/>
<path d="M191 263.3H204M191 592.1H204M191 921.0H204M191 1249.8H204M279.2 1304V1317M647.7 1304V1317M1016.3 1304V1317M1384.8 1304V1317M1753.3 1304V1317" fill="none" stroke="#000" stroke-width="4.6"/>
<defs><linearGradient id="g" x1="0" y1="0" x2="0" y2="1"><stop offset="0%" stop-color="#fcfdbf"/><stop offset="10%" stop-color="#fecf92"/><stop offset="20%" stop-color="#fe9f6d"/><stop offset="30%" stop-color="#f7705c"/><stop offset="40%" stop-color="#de4968"/><stop offset="50%" stop-color="#b73779"/><stop offset="60%" stop-color="#8c2981"/><stop offset="70%" stop-color="#641a80"/><stop offset="80%" stop-color="#3b0f70"/><stop offset="90%" stop-color="#140e36"/><stop offset="100%" stop-color="#000004"/></linearGradient></defs><rect x="1884.8" y="578.7" width="64.2" height="318.2" fill="url(#g)"/><path d="M1884.8 641.0h13M1949 641.0h-13M1884.8 705.2h13M1949 705.2h-13M1884.8 769.3h13M1949 769.3h-13M1884.8 833.5h13M1949 833.5h-13M1884.8 897.4h13M1949 897.4h-13" stroke="#fff" stroke-width="1.6" fill="none"/>
<text transform="translate(178.0 281.6) scale(1 1.05)" text-anchor="end" font-size="50">10</text>
<text transform="translate(178.0 610.4) scale(1 1.05)" text-anchor="end" font-size="50">5</text>
<text transform="translate(178.0 939.3) scale(1 1.05)" text-anchor="end" font-size="50">0</text>
<text transform="translate(178.0 1268.1) scale(1 1.05)" text-anchor="end" font-size="50">-5</text>
<text transform="translate(279.2 1367.3) scale(1 1.05)" text-anchor="middle" font-size="50">-5</text>
<text transform="translate(647.7 1367.3) scale(1 1.05)" text-anchor="middle" font-size="50">0</text>
<text transform="translate(1016.3 1367.3) scale(1 1.05)" text-anchor="middle" font-size="50">5</text>
<text transform="translate(1384.8 1367.3) scale(1 1.05)" text-anchor="middle" font-size="50">10</text>
<text transform="translate(1753.3 1367.3) scale(1 1.05)" text-anchor="middle" font-size="50">15</text>
<text transform="translate(1977.0 659.3) scale(1 1.05)" text-anchor="start" font-size="50">2.0</text>
<text transform="translate(1977.0 723.5) scale(1 1.05)" text-anchor="start" font-size="50">1.5</text>
<text transform="translate(1977.0 787.6) scale(1 1.05)" text-anchor="start" font-size="50">1.0</text>
<text transform="translate(1977.0 851.8) scale(1 1.05)" text-anchor="start" font-size="50">0.5</text>
<text transform="translate(1977.0 915.7) scale(1 1.05)" text-anchor="start" font-size="50">0.0</text>
<text transform="translate(1017.5 101.2) scale(1 1.05)" text-anchor="middle" font-size="66.7" font-weight="bold">RPA3</text>
<text transform="translate(1017.3 1435.0) scale(1 1.05)" text-anchor="middle" font-size="58.3">UMAP_1</text>
<text transform="translate(94.8 722.5) rotate(-90) scale(1 1.05)" text-anchor="middle" font-size="58.3">UMAP_2</text>
<rect x="125.19" y="276.58" width="9.71" height="6.22" fill="#fff"/>
<rect x="139.43" y="276.58" width="9.32" height="6.22" fill="#fff"/>
<rect x="1359.80" y="1362.28" width="9.71" height="6.22" fill="#fff"/>
<rect x="1374.03" y="1362.28" width="9.32" height="6.22" fill="#fff"/>
<rect x="1728.30" y="1362.28" width="9.71" height="6.22" fill="#fff"/>
<rect x="1742.53" y="1362.28" width="9.32" height="6.22" fill="#fff"/>
<rect x="1979.81" y="718.48" width="9.71" height="6.22" fill="#fff"/>
<rect x="1994.04" y="718.48" width="9.32" height="6.22" fill="#fff"/>
<rect x="1979.81" y="782.58" width="9.71" height="6.22" fill="#fff"/>
<rect x="1994.04" y="782.58" width="9.32" height="6.22" fill="#fff"/>
<rect x="1104.96" y="1429.33" width="11.17" height="6.87" fill="#fff"/>
<rect x="1121.38" y="1429.33" width="10.71" height="6.87" fill="#fff"/>
</svg>
</body></html>
